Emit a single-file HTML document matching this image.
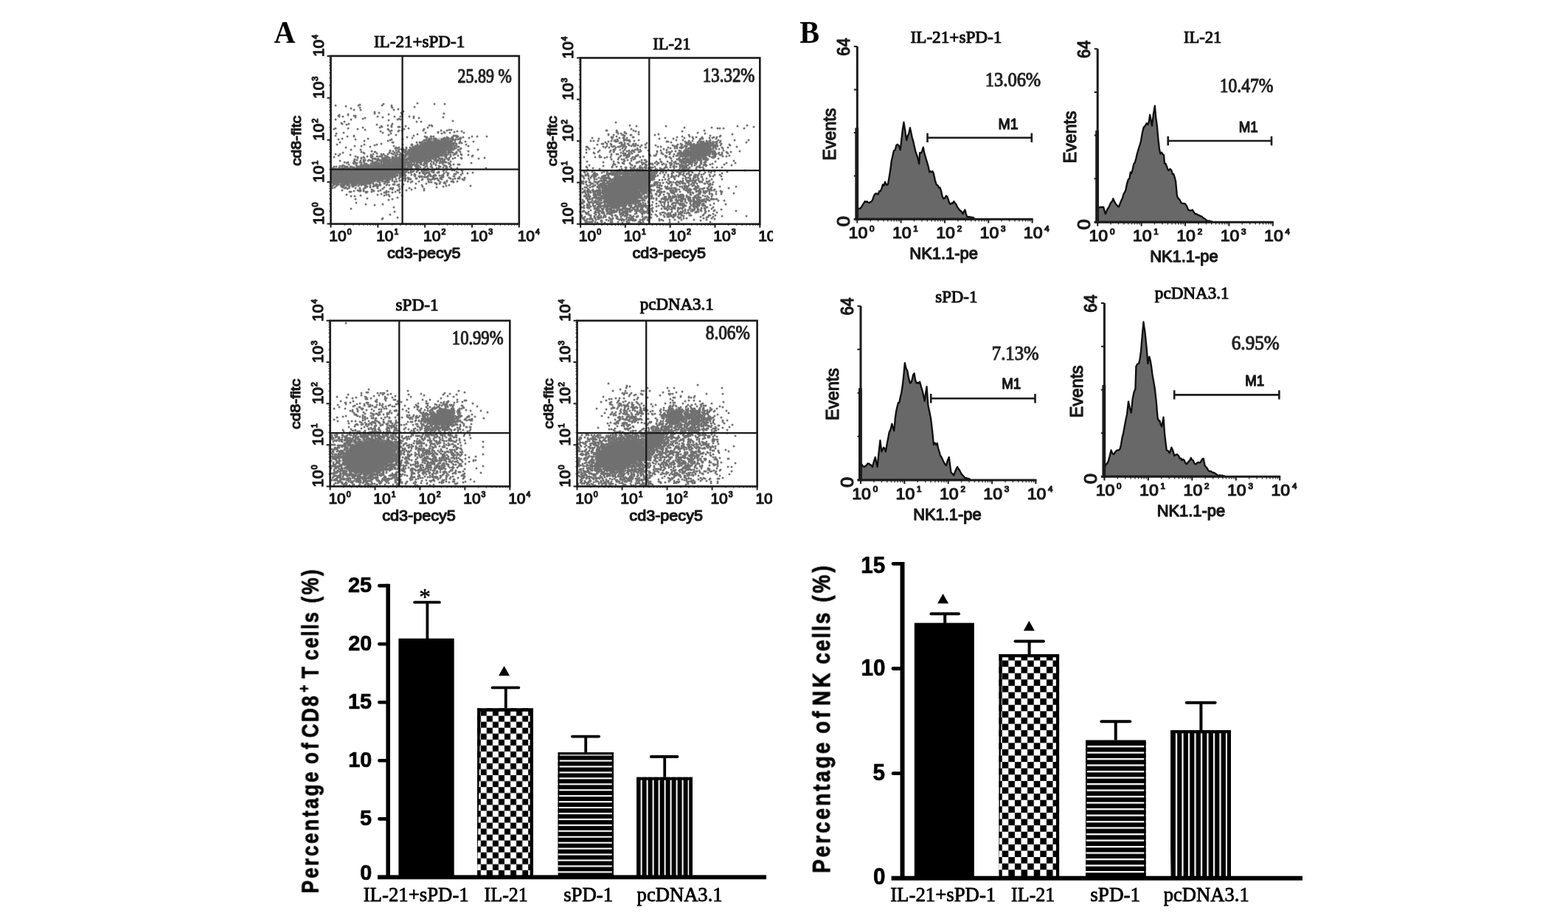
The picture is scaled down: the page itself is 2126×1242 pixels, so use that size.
<!DOCTYPE html>
<html lang="en"><head><meta charset="utf-8"><title>Figure: CD8+ T cells and NK cells</title>
<style>html,body{margin:0;padding:0;background:#fff}body{width:2126px;height:1242px;overflow:hidden}svg{display:block}text{white-space:pre}</style>
</head><body>
<svg xmlns="http://www.w3.org/2000/svg" width="2126" height="1242" viewBox="0 0 2126 1242">
<defs><filter id="bl" x="-30%" y="-30%" width="160%" height="160%"><feGaussianBlur stdDeviation="2.2"/></filter>
<filter id="sd" x="-5%" y="-5%" width="110%" height="110%"><feGaussianBlur stdDeviation="0.3"/></filter>
<filter id="soft" filterUnits="userSpaceOnUse" x="0" y="0" width="2126" height="1242"><feGaussianBlur stdDeviation="0.55"/></filter>
<pattern id="chkA" patternUnits="userSpaceOnUse" x="651.8" y="954.5" width="16.1" height="16.1"><rect x="8.05" y="0" width="8.05" height="8.05" fill="#000"/><rect x="0" y="8.05" width="8.05" height="8.05" fill="#000"/></pattern>
<pattern id="chkB" patternUnits="userSpaceOnUse" x="1358.7" y="886.9" width="17.2" height="17.2"><rect x="8.6" y="0" width="8.6" height="8.6" fill="#000"/><rect x="0" y="8.6" width="8.6" height="8.6" fill="#000"/></pattern>
<pattern id="hsA" patternUnits="userSpaceOnUse" x="0" y="1022.55" width="10" height="7.94"><rect x="0" y="2.1" width="10" height="5.84" fill="#000"/></pattern>
<pattern id="hsB" patternUnits="userSpaceOnUse" x="0" y="1010.95" width="10" height="8.5"><rect x="0" y="2.3" width="10" height="6.2" fill="#000"/></pattern>
<pattern id="vsA" patternUnits="userSpaceOnUse" x="868.6" y="0" width="8" height="10"><rect x="2" y="0" width="6" height="10" fill="#000"/></pattern>
<pattern id="vsB" patternUnits="userSpaceOnUse" x="1593.9" y="0" width="8.5" height="10"><rect x="2.2" y="0" width="6.3" height="10" fill="#000"/></pattern>
</defs>
<rect width="2126" height="1242" fill="#fff"/>
<g id="fig" filter="url(#soft)">
<text transform="matrix(0.4,0,0,0.421,371.4,57.8)" font-family="'Liberation Serif', serif" font-size="100" font-weight="bold" fill="#000">A</text>
<text transform="matrix(0.402,0,0,0.418,1084.297,57.8)" font-family="'Liberation Serif', serif" font-size="100" font-weight="bold" fill="#000">B</text>
<g>
<clipPath id="f1"><rect x="448.5" y="75.9" width="255.3" height="227.7"/></clipPath><g clip-path="url(#f1)">
<ellipse cx="498" cy="236.5" rx="42" ry="11.5" transform="rotate(-8 498 236.5)" fill="#6c6c6c" opacity="1" filter="url(#bl)"/>
<ellipse cx="464" cy="239.5" rx="18" ry="10" transform="rotate(0 464 239.5)" fill="#6c6c6c" opacity="1" filter="url(#bl)"/>
<ellipse cx="583" cy="203.5" rx="32" ry="12" transform="rotate(-17 583 203.5)" fill="#6c6c6c" opacity="1" filter="url(#bl)"/>
<ellipse cx="540" cy="222" rx="12" ry="9" transform="rotate(-25 540 222)" fill="#6c6c6c" opacity="1" filter="url(#bl)"/>
<path d="M536 240h0M501 231h0M471 240h0M471 231h0M505 236h0M514 228h0M500 236h0M460 245h0M511 250h0M505 234h0M533 233h0M524 230h0M507 242h0M519 234h0M471 243h0M503 240h0M499 237h0M517 226h0M489 234h0M553 228h0M518 238h0M491 227h0M525 230h0M518 225h0M489 246h0M537 222h0M464 241h0M520 234h0M507 228h0M517 241h0M487 228h0M480 244h0M454 242h0M473 239h0M493 237h0M541 233h0M536 230h0M488 240h0M503 227h0M512 231h0M473 236h0M497 245h0M503 235h0M509 223h0M532 224h0M511 227h0M474 237h0M551 233h0M484 236h0M469 240h0M485 243h0M463 239h0M477 235h0M529 223h0M513 223h0M500 249h0M494 234h0M505 235h0M500 231h0M530 238h0M495 239h0M519 240h0M511 239h0M492 230h0M488 244h0M526 233h0M485 240h0M546 238h0M482 238h0M460 234h0M527 241h0M524 241h0M484 231h0M516 251h0M508 227h0M508 244h0M473 245h0M485 246h0M521 235h0M553 226h0M483 251h0M479 253h0M498 229h0M500 237h0M527 217h0M485 236h0M547 216h0M490 230h0M483 243h0M512 244h0M484 240h0M532 237h0M492 245h0M477 251h0M504 235h0M508 240h0M546 229h0M491 241h0M475 228h0M522 230h0M529 225h0M506 246h0M514 236h0M515 231h0M501 227h0M513 229h0M489 242h0M524 226h0M553 225h0M523 239h0M506 236h0M549 235h0M510 223h0M481 246h0M504 229h0M483 236h0M519 236h0M526 227h0M526 229h0M494 248h0M502 235h0M543 239h0M528 232h0M512 237h0M504 246h0M548 238h0M451 255h0M518 230h0M500 243h0M504 236h0M522 232h0M475 235h0M497 239h0M559 219h0M513 234h0M509 244h0M533 230h0M484 229h0M499 244h0M494 242h0M529 231h0M477 232h0M492 243h0M481 250h0M517 230h0M484 245h0M468 236h0M501 238h0M490 237h0M534 235h0M490 249h0M503 233h0M515 233h0M510 216h0M509 229h0M526 237h0M519 231h0M511 232h0M506 234h0M478 252h0M517 220h0M523 224h0M493 233h0M486 240h0M490 228h0M500 238h0M547 227h0M468 238h0M517 228h0M481 242h0M482 233h0M491 236h0M491 240h0M515 237h0M512 228h0M471 245h0M469 239h0M482 229h0M503 243h0M481 239h0M471 244h0M549 221h0M495 246h0M510 235h0M526 242h0M480 227h0M472 247h0M496 228h0M534 220h0M533 229h0M510 239h0M508 243h0M500 234h0M481 229h0M482 245h0M523 242h0M574 230h0M512 226h0M495 251h0M514 233h0M507 223h0M477 231h0M526 231h0M508 228h0M513 239h0M542 240h0M513 233h0M517 237h0M502 247h0M517 234h0M495 237h0M474 233h0M509 231h0M494 245h0M496 245h0M501 246h0M511 223h0M484 242h0M539 238h0M534 239h0M503 218h0M521 239h0M479 236h0M475 239h0M499 236h0M473 242h0M507 225h0M461 242h0M487 241h0M522 233h0M454 235h0M514 227h0M530 231h0M513 228h0M495 217h0M495 240h0M475 234h0M479 243h0M457 249h0M462 236h0M535 225h0M456 243h0M474 232h0M481 234h0M473 233h0M542 226h0M525 223h0M513 226h0M488 242h0M484 225h0M485 237h0M492 238h0M456 242h0M478 242h0M497 235h0M489 231h0M485 230h0M505 240h0M515 230h0M546 235h0M456 241h0M520 241h0M487 226h0M505 244h0M524 243h0M515 229h0M514 251h0M484 226h0M557 231h0M483 234h0M459 246h0M503 231h0M488 235h0M528 231h0M536 225h0M483 235h0M486 237h0M529 240h0M472 248h0M495 231h0M522 237h0M488 238h0M504 238h0M453 235h0M502 237h0M484 227h0M536 229h0M473 250h0M531 238h0M523 237h0M474 240h0M494 231h0M450 235h0M508 235h0M514 222h0M490 243h0M457 250h0M500 232h0M525 240h0M525 235h0M521 238h0M529 220h0M509 235h0M504 234h0M498 239h0M470 232h0M478 227h0M485 232h0M450 230h0M487 234h0M559 233h0M472 235h0M491 237h0M484 244h0M519 246h0M466 245h0M489 227h0M490 227h0M502 254h0M537 243h0M531 222h0M511 235h0M511 228h0M532 233h0M487 239h0M468 247h0M488 237h0M526 234h0M497 231h0M534 240h0M517 222h0M492 244h0M502 244h0M489 243h0M512 218h0M489 236h0M542 229h0M520 224h0M510 230h0M515 239h0M548 233h0M486 233h0M493 243h0M481 248h0M467 241h0M569 234h0M562 220h0M523 219h0M542 225h0M522 239h0M499 230h0M535 228h0M476 244h0M508 238h0M486 230h0M514 232h0M464 247h0M512 235h0M480 237h0M477 233h0M509 236h0M522 225h0M526 244h0M525 233h0M490 251h0M455 235h0M521 229h0M544 226h0M491 225h0M521 233h0M515 244h0M503 228h0M473 240h0M534 223h0M493 236h0M509 240h0M533 224h0M469 237h0M467 239h0M526 218h0M469 245h0M493 242h0M521 241h0M544 230h0M476 237h0M531 226h0M548 220h0M514 229h0M454 245h0M470 248h0M476 240h0M516 234h0M498 249h0M481 236h0M504 228h0M541 228h0M512 236h0M519 232h0M466 247h0M506 233h0M465 254h0M512 234h0M473 238h0M493 234h0M499 241h0M453 244h0M528 223h0M495 234h0M470 246h0M511 233h0M507 233h0M457 251h0M511 242h0M453 250h0M482 237h0M501 230h0M497 237h0M539 230h0M497 244h0M510 231h0M495 247h0M488 239h0M513 242h0M464 239h0M517 239h0M494 247h0M482 246h0M525 245h0M488 230h0M522 235h0M485 229h0M520 220h0M489 245h0M494 240h0M514 238h0M529 236h0M489 229h0M492 233h0M512 242h0M520 229h0M517 236h0M465 224h0M494 237h0M493 240h0M501 247h0M539 235h0M519 237h0M499 238h0M514 235h0M451 252h0M490 233h0M476 239h0M523 231h0M511 226h0M519 226h0M518 229h0M483 230h0M466 239h0M474 238h0M530 226h0M483 238h0M473 241h0M521 237h0M480 232h0M450 240h0M492 227h0M523 234h0M512 232h0M513 231h0M527 222h0M473 252h0M529 243h0M479 244h0M528 238h0M496 246h0M510 226h0M566 228h0M533 227h0M476 245h0M521 228h0M505 227h0M470 245h0M529 234h0M493 256h0M532 226h0M503 247h0M503 244h0M508 220h0M480 251h0M479 247h0M527 235h0M485 242h0M487 229h0M472 228h0M519 242h0M480 222h0M557 230h0M464 249h0M521 242h0M520 237h0M538 229h0M505 228h0M470 242h0M505 225h0M511 241h0M545 224h0M516 239h0M515 236h0M503 226h0M506 230h0M542 245h0M528 218h0M527 233h0M528 228h0M498 237h0M523 215h0M490 242h0M516 233h0M472 236h0M458 247h0M539 226h0M486 228h0M529 238h0M475 245h0M480 233h0M519 233h0M567 228h0M492 242h0M487 245h0M470 243h0M480 243h0M517 245h0M452 238h0M506 226h0M496 231h0M513 238h0M485 239h0M483 237h0M452 248h0M469 236h0M492 235h0M502 234h0M484 230h0M524 239h0M518 236h0M456 226h0M470 250h0M508 245h0M543 236h0M509 242h0M489 249h0M468 235h0M547 234h0M482 250h0M536 228h0M543 238h0M486 234h0M543 240h0M485 226h0M456 252h0M513 237h0M501 229h0M464 242h0M497 246h0M470 227h0M545 227h0M482 241h0M542 237h0M513 246h0M510 233h0M496 235h0M475 243h0M534 229h0M513 241h0M467 251h0M546 228h0M554 234h0M451 246h0M507 238h0M518 231h0M531 234h0M551 228h0M513 222h0M483 233h0M524 228h0M531 228h0M525 228h0M469 244h0M455 236h0M492 250h0M509 224h0M527 238h0M558 229h0M487 243h0M463 238h0M464 232h0M501 235h0M515 248h0M508 237h0M488 245h0M536 211h0M521 226h0M465 232h0M496 254h0M466 238h0M532 245h0M499 239h0M493 247h0M496 244h0M549 216h0M504 233h0M478 253h0M509 232h0M477 242h0M484 248h0M466 236h0M519 228h0M517 233h0M511 237h0M488 236h0M499 240h0M565 233h0M467 255h0M496 232h0M507 235h0M500 244h0M545 230h0M506 240h0M471 246h0M506 239h0M490 232h0M513 235h0M471 233h0M527 230h0M493 231h0M525 236h0M548 226h0M468 237h0M470 240h0M451 245h0M455 238h0M488 246h0M462 245h0M536 226h0M465 245h0M472 249h0M498 231h0M524 233h0M459 236h0M538 230h0M529 239h0M535 229h0M510 251h0M494 233h0M502 228h0M477 236h0M493 244h0M470 239h0M522 248h0M470 234h0M486 241h0M549 245h0M496 223h0M542 230h0M490 245h0M477 245h0M522 227h0M486 246h0M480 236h0M479 237h0M523 233h0M527 236h0M498 225h0M486 238h0M564 218h0M502 236h0M541 234h0M533 232h0M518 234h0M472 237h0M487 244h0M504 239h0M513 221h0M532 241h0M505 237h0M495 243h0M475 236h0M509 225h0M514 237h0M499 233h0M546 226h0M505 241h0M501 243h0M500 240h0M527 225h0M459 233h0M503 248h0M541 220h0M544 235h0M524 227h0M553 221h0M500 230h0M476 241h0M477 244h0M514 234h0M518 241h0M528 225h0M518 239h0M490 235h0M533 236h0M505 245h0M491 244h0M544 223h0M496 234h0M514 242h0M543 229h0M510 240h0M531 230h0M535 222h0M487 233h0M549 240h0M521 234h0M480 242h0M561 232h0M499 235h0M463 251h0M526 228h0M527 228h0M451 248h0M491 238h0M514 245h0M514 239h0M524 234h0M468 234h0M520 225h0M489 244h0M478 245h0M507 237h0M483 248h0M454 234h0M491 239h0M537 235h0M511 240h0M500 242h0M491 246h0M527 234h0M517 232h0M477 247h0M467 237h0M475 244h0M533 216h0M503 246h0M502 246h0M531 233h0M462 237h0M540 224h0M471 237h0M534 232h0M459 238h0M519 241h0M516 240h0M531 217h0M515 241h0M481 232h0M584 222h0M524 232h0M527 245h0M482 235h0M473 237h0M468 243h0M504 230h0M472 246h0M495 228h0M455 247h0M453 247h0M451 247h0M517 235h0M456 251h0M502 232h0M486 236h0M504 227h0M516 228h0M509 233h0M527 229h0M484 238h0M472 238h0M545 244h0M485 235h0M506 231h0M510 236h0M515 235h0M471 241h0M477 238h0M464 238h0M502 240h0M509 221h0M478 246h0M510 222h0M496 241h0M491 234h0M508 223h0M502 238h0M479 235h0M494 232h0M456 247h0M523 236h0M520 240h0M489 218h0M472 232h0M563 225h0M505 239h0M517 238h0M510 225h0M490 241h0M504 243h0M528 236h0M519 230h0M528 235h0M507 231h0M501 233h0M490 239h0M480 218h0M461 240h0M492 234h0M499 229h0M503 238h0M501 237h0M473 234h0M547 233h0M455 249h0M538 224h0M461 244h0M465 240h0M471 250h0M502 245h0M486 239h0M494 244h0M519 216h0M473 243h0M490 236h0M461 239h0M457 244h0M492 239h0M547 238h0M516 231h0M494 238h0M482 236h0M478 234h0M493 259h0M471 256h0M467 242h0M491 230h0M461 241h0M501 226h0M466 246h0M474 235h0M484 234h0M555 226h0M509 230h0M524 223h0M478 238h0M575 240h0M552 229h0M553 241h0M455 240h0M493 235h0M496 237h0M495 253h0M532 238h0M469 235h0M475 226h0M466 244h0M465 239h0M533 234h0M486 249h0M476 247h0M502 249h0M496 252h0M537 232h0M495 244h0M519 244h0M537 233h0M466 252h0M547 229h0M510 250h0M466 251h0M492 241h0M499 246h0M532 230h0M533 238h0M537 224h0M506 225h0M557 228h0M511 225h0M495 238h0M523 225h0M530 225h0M452 235h0M461 247h0M453 231h0M509 237h0M488 234h0M497 249h0M538 238h0M525 241h0M511 219h0M467 228h0M499 231h0M508 229h0M506 235h0M505 218h0M535 236h0M481 235h0M522 234h0M461 233h0M461 232h0M501 245h0M492 232h0M550 228h0M491 242h0M531 232h0M532 223h0M512 238h0M512 239h0M522 226h0M512 246h0M452 242h0M490 238h0M458 240h0M496 236h0M528 230h0M501 240h0M453 234h0M499 242h0M547 230h0M526 236h0M522 246h0M470 233h0M505 243h0M532 218h0M515 234h0M479 238h0M514 241h0M506 242h0M531 224h0M457 235h0M478 243h0M516 243h0M556 224h0M535 232h0M484 237h0M549 233h0M535 233h0M484 239h0M477 226h0M459 245h0M455 239h0M477 237h0M480 245h0M462 238h0M468 226h0M452 232h0M478 237h0M462 235h0M470 236h0M475 247h0M462 230h0M454 239h0M475 238h0M481 243h0M466 235h0M468 233h0M454 229h0M452 236h0M469 238h0M460 246h0M453 233h0M490 240h0M468 255h0M453 249h0M465 238h0M460 241h0M461 237h0M470 235h0M475 232h0M463 233h0M456 239h0M452 251h0M486 244h0M452 239h0M459 239h0M464 244h0M460 227h0M457 237h0M456 245h0M466 240h0M461 235h0M473 244h0M469 241h0M479 241h0M486 232h0M485 244h0M464 233h0M465 242h0M478 247h0M474 253h0M482 234h0M467 234h0M455 243h0M465 237h0M476 242h0M451 242h0M489 233h0M471 226h0M453 237h0M467 240h0M457 238h0M467 249h0M459 247h0M485 241h0M460 235h0M469 227h0M482 232h0M459 229h0M487 242h0M459 234h0M464 227h0M468 239h0M459 244h0M471 232h0M474 246h0M463 231h0M457 230h0M472 244h0M493 238h0M480 234h0M457 243h0M463 228h0M465 244h0M472 239h0M456 230h0M489 248h0M483 241h0M478 241h0M480 228h0M471 236h0M472 234h0M461 234h0M483 228h0M482 240h0M469 233h0M469 247h0M469 232h0M487 230h0M453 246h0M477 243h0M452 246h0M471 242h0M451 243h0M462 246h0M469 243h0M471 235h0M452 249h0M465 243h0M460 240h0M455 229h0M455 230h0M466 231h0M472 230h0M464 252h0M482 243h0M462 234h0M460 244h0M469 234h0M450 234h0M464 245h0M476 248h0M468 232h0M463 237h0M475 246h0M462 243h0M453 236h0M453 226h0M478 250h0M481 241h0M476 238h0M456 238h0M452 233h0M467 245h0M479 240h0M477 249h0M465 228h0M460 236h0M468 240h0M459 231h0M458 246h0M458 239h0M454 230h0M469 254h0M480 238h0M466 242h0M451 232h0M465 241h0M462 241h0M468 245h0M452 243h0M491 243h0M452 241h0M464 243h0M458 235h0M471 251h0M467 243h0M463 242h0M456 232h0M459 242h0M461 225h0M459 250h0M462 251h0M460 237h0M475 241h0M467 235h0M460 231h0M471 228h0M455 245h0M455 241h0M470 237h0M463 230h0M464 236h0M468 248h0M452 245h0M458 245h0M481 238h0M525 226h0M533 222h0M543 232h0M526 225h0M528 222h0M544 217h0M561 207h0M530 217h0M527 227h0M520 228h0M528 226h0M542 213h0M528 233h0M523 227h0M507 215h0M556 219h0M552 215h0M524 231h0M538 227h0M525 229h0M540 231h0M534 238h0M536 216h0M528 221h0M550 218h0M531 231h0M544 225h0M525 212h0M534 224h0M522 231h0M522 228h0M543 216h0M528 224h0M535 221h0M535 220h0M518 232h0M529 227h0M549 213h0M532 227h0M515 243h0M538 221h0M549 236h0M528 237h0M548 212h0M534 215h0M538 220h0M549 226h0M550 217h0M544 227h0M533 214h0M553 229h0M540 219h0M539 221h0M543 224h0M540 222h0M525 239h0M533 213h0M532 229h0M524 212h0M537 229h0M540 229h0M536 223h0M548 206h0M529 221h0M543 220h0M536 238h0M523 230h0M532 232h0M536 232h0M539 222h0M532 215h0M537 221h0M549 211h0M524 244h0M512 230h0M537 226h0M546 227h0M536 221h0M541 222h0M533 226h0M549 228h0M525 217h0M526 230h0M507 240h0M537 216h0M534 225h0M533 220h0M524 217h0M542 235h0M535 227h0M539 219h0M531 229h0M534 216h0M543 233h0M527 220h0M536 227h0M539 214h0M544 216h0M544 220h0M548 222h0M536 231h0M529 232h0M555 221h0M527 237h0M532 236h0M526 219h0M543 228h0M546 215h0M545 222h0M544 218h0M526 213h0M545 219h0M530 227h0M525 215h0M530 222h0M527 226h0M507 236h0M529 237h0M553 224h0M526 224h0M532 243h0M537 219h0M556 227h0M520 222h0M550 208h0M533 239h0M521 232h0M560 216h0M527 218h0M557 203h0M514 221h0M530 221h0M541 219h0M548 225h0M529 224h0M527 221h0M540 205h0M530 229h0M545 223h0M540 217h0M530 230h0M537 204h0M542 218h0M519 218h0M545 229h0M535 217h0M544 221h0M523 238h0M539 232h0M534 230h0M525 220h0M522 221h0M550 224h0M526 223h0M541 221h0M525 231h0M540 220h0M554 205h0M528 239h0M535 223h0M542 219h0M535 226h0M535 224h0M522 223h0M519 238h0M533 223h0M515 224h0M531 225h0M539 231h0M536 217h0M515 232h0M555 220h0M551 230h0M536 210h0M536 222h0M536 220h0M530 240h0M532 228h0M531 220h0M520 219h0M542 221h0M552 228h0M523 229h0M517 225h0M526 221h0M533 228h0M526 222h0M541 227h0M480 220h0M498 233h0M529 233h0M482 212h0M517 212h0M506 223h0M518 216h0M503 224h0M514 225h0M518 226h0M528 214h0M597 226h0M494 221h0M536 201h0M488 233h0M546 222h0M536 235h0M493 224h0M550 242h0M518 213h0M481 216h0M501 228h0M554 243h0M504 225h0M508 239h0M537 217h0M547 235h0M509 220h0M483 224h0M557 232h0M494 223h0M451 228h0M581 213h0M505 230h0M509 216h0M500 224h0M497 232h0M536 218h0M515 212h0M505 212h0M500 227h0M538 201h0M515 226h0M464 237h0M532 214h0M479 221h0M524 220h0M521 214h0M503 211h0M543 209h0M532 213h0M535 247h0M514 217h0M571 202h0M485 214h0M489 224h0M518 211h0M525 218h0M506 209h0M559 204h0M500 225h0M510 232h0M566 229h0M518 217h0M494 214h0M523 217h0M517 224h0M524 215h0M504 237h0M521 216h0M517 219h0M491 232h0M506 222h0M493 226h0M510 224h0M504 231h0M484 235h0M533 217h0M558 205h0M520 226h0M515 218h0M463 240h0M506 221h0M505 215h0M518 224h0M452 231h0M550 212h0M512 216h0M499 234h0M559 202h0M467 220h0M489 237h0M499 218h0M532 225h0M503 210h0M490 215h0M487 235h0M503 222h0M481 219h0M478 235h0M490 224h0M515 217h0M518 228h0M489 220h0M535 207h0M493 217h0M524 224h0M485 234h0M501 217h0M551 232h0M480 229h0M521 222h0M493 228h0M503 234h0M462 240h0M544 210h0M507 222h0M522 238h0M546 231h0M508 233h0M520 223h0M525 219h0M487 232h0M562 219h0M492 229h0M505 233h0M511 212h0M470 221h0M493 219h0M565 227h0M503 229h0M529 229h0M500 217h0M483 247h0M529 216h0M498 228h0M473 223h0M464 225h0M545 236h0M489 235h0M505 220h0M461 218h0M539 229h0M533 231h0M490 221h0M528 207h0M482 221h0M522 218h0M498 224h0M516 225h0M510 220h0M505 229h0M540 223h0M514 244h0M501 234h0M520 230h0M521 220h0M570 221h0M513 215h0M507 226h0M511 208h0M526 209h0M467 225h0M537 211h0M502 199h0M529 228h0M494 219h0M537 225h0M580 209h0M591 202h0M594 207h0M588 210h0M583 201h0M562 202h0M626 178h0M587 205h0M569 201h0M602 193h0M585 202h0M573 208h0M600 196h0M590 191h0M588 197h0M584 196h0M607 192h0M615 184h0M575 211h0M617 194h0M576 203h0M551 202h0M629 180h0M578 210h0M594 201h0M586 213h0M624 192h0M561 200h0M582 212h0M591 200h0M593 203h0M588 206h0M571 210h0M566 212h0M576 197h0M624 188h0M599 194h0M587 210h0M563 210h0M607 193h0M593 199h0M574 202h0M586 203h0M577 209h0M582 206h0M597 200h0M579 197h0M573 192h0M561 211h0M591 207h0M580 193h0M592 205h0M566 211h0M555 203h0M585 206h0M598 202h0M579 208h0M590 196h0M586 209h0M600 192h0M586 200h0M594 206h0M575 207h0M593 202h0M529 205h0M565 206h0M578 207h0M572 201h0M573 201h0M589 208h0M593 205h0M594 199h0M549 205h0M573 210h0M592 203h0M601 195h0M581 201h0M555 212h0M591 188h0M585 207h0M596 204h0M579 209h0M598 204h0M576 208h0M572 211h0M567 215h0M560 210h0M582 201h0M604 196h0M583 199h0M555 214h0M577 214h0M597 194h0M557 210h0M595 198h0M611 193h0M585 210h0M577 199h0M590 201h0M613 186h0M563 204h0M601 188h0M574 195h0M561 216h0M575 200h0M589 202h0M589 206h0M566 223h0M613 194h0M551 221h0M575 213h0M579 199h0M570 193h0M569 218h0M620 199h0M569 210h0M591 201h0M541 215h0M575 210h0M560 213h0M585 219h0M608 190h0M566 208h0M587 209h0M569 209h0M581 204h0M591 191h0M585 200h0M584 208h0M542 210h0M566 219h0M610 198h0M573 211h0M563 199h0M599 196h0M565 209h0M606 200h0M578 190h0M591 210h0M586 199h0M583 211h0M566 197h0M580 214h0M624 187h0M590 195h0M576 199h0M568 208h0M612 194h0M580 204h0M572 219h0M616 201h0M577 207h0M555 215h0M604 200h0M575 199h0M575 205h0M608 188h0M545 212h0M580 203h0M586 204h0M582 197h0M603 205h0M553 209h0M568 204h0M564 228h0M587 214h0M568 201h0M593 197h0M591 193h0M554 225h0M606 201h0M587 201h0M596 194h0M569 206h0M584 200h0M568 209h0M572 206h0M566 203h0M595 205h0M555 217h0M607 196h0M586 197h0M616 184h0M608 196h0M595 203h0M591 211h0M575 212h0M597 201h0M575 202h0M602 194h0M564 207h0M608 200h0M559 206h0M569 220h0M559 216h0M607 197h0M587 203h0M565 219h0M592 211h0M587 198h0M600 193h0M570 211h0M603 209h0M588 198h0M610 191h0M605 210h0M625 187h0M559 211h0M592 199h0M598 199h0M573 196h0M587 207h0M615 194h0M584 216h0M609 192h0M581 219h0M567 218h0M566 209h0M592 209h0M569 207h0M589 210h0M566 213h0M582 188h0M561 210h0M594 203h0M569 214h0M591 209h0M580 194h0M596 192h0M582 195h0M605 203h0M576 201h0M587 196h0M603 187h0M559 217h0M588 200h0M569 198h0M571 208h0M601 200h0M570 212h0M589 207h0M586 207h0M597 193h0M571 199h0M567 205h0M575 201h0M564 217h0M614 197h0M589 192h0M578 202h0M547 226h0M572 212h0M576 206h0M551 200h0M610 204h0M579 207h0M585 185h0M576 194h0M599 189h0M565 211h0M611 201h0M617 184h0M601 196h0M583 197h0M590 198h0M595 202h0M583 208h0M556 212h0M546 213h0M577 215h0M579 219h0M580 212h0M588 192h0M595 195h0M588 207h0M607 199h0M578 211h0M581 206h0M577 208h0M608 208h0M598 209h0M594 198h0M571 206h0M585 201h0M591 218h0M565 208h0M565 226h0M603 196h0M575 208h0M568 206h0M600 191h0M590 192h0M576 212h0M616 200h0M623 188h0M588 204h0M551 216h0M589 203h0M569 211h0M596 203h0M586 206h0M562 214h0M606 190h0M587 197h0M577 203h0M580 210h0M538 207h0M595 201h0M558 214h0M589 198h0M599 203h0M576 198h0M574 211h0M611 188h0M616 198h0M561 212h0M576 205h0M612 193h0M546 203h0M583 202h0M576 204h0M605 199h0M577 217h0M606 195h0M576 211h0M567 212h0M600 197h0M588 220h0M584 201h0M585 209h0M585 198h0M604 188h0M572 200h0M593 198h0M564 206h0M603 206h0M551 201h0M564 202h0M558 204h0M558 196h0M604 190h0M588 188h0M600 211h0M602 198h0M589 217h0M595 193h0M595 194h0M597 203h0M569 202h0M606 197h0M564 213h0M581 211h0M592 195h0M551 220h0M577 200h0M611 207h0M576 217h0M595 196h0M580 207h0M583 200h0M581 203h0M604 206h0M584 205h0M594 204h0M596 199h0M591 205h0M558 207h0M602 206h0M572 207h0M601 193h0M563 209h0M606 191h0M578 195h0M549 207h0M578 217h0M599 209h0M581 190h0M560 201h0M590 211h0M558 212h0M607 194h0M599 204h0M559 196h0M590 193h0M584 198h0M579 204h0M595 191h0M573 202h0M598 206h0M580 201h0M585 194h0M618 197h0M563 212h0M587 202h0M594 202h0M563 206h0M596 209h0M602 195h0M567 220h0M600 194h0M614 203h0M573 206h0M590 200h0M576 220h0M561 208h0M586 195h0M571 204h0M584 217h0M603 180h0M619 196h0M578 198h0M613 190h0M558 197h0M587 211h0M608 201h0M584 197h0M598 196h0M619 206h0M578 212h0M605 201h0M602 197h0M568 214h0M612 176h0M609 197h0M602 200h0M573 218h0M565 193h0M578 196h0M563 217h0M579 200h0M600 207h0M584 194h0M607 201h0M564 212h0M622 204h0M574 216h0M576 209h0M601 203h0M608 204h0M597 199h0M608 197h0M586 214h0M587 194h0M592 202h0M578 208h0M598 203h0M566 215h0M609 191h0M567 201h0M574 210h0M610 197h0M577 205h0M585 188h0M602 196h0M571 212h0M598 200h0M585 195h0M560 217h0M590 206h0M621 185h0M566 207h0M618 208h0M579 214h0M570 207h0M579 193h0M593 190h0M572 210h0M594 196h0M604 198h0M546 210h0M596 193h0M590 188h0M599 192h0M590 209h0M596 208h0M580 199h0M598 194h0M584 195h0M607 187h0M616 199h0M575 215h0M574 204h0M584 199h0M586 201h0M566 220h0M572 203h0M603 200h0M596 207h0M591 192h0M582 208h0M576 193h0M592 220h0M561 223h0M570 216h0M569 216h0M568 200h0M606 199h0M601 194h0M585 203h0M588 205h0M571 213h0M566 204h0M597 209h0M609 195h0M622 199h0M580 218h0M588 201h0M582 204h0M583 203h0M599 195h0M592 207h0M581 200h0M589 200h0M592 210h0M590 215h0M572 213h0M573 205h0M557 219h0M590 194h0M585 205h0M602 209h0M570 206h0M580 190h0M582 209h0M556 208h0M567 213h0M551 205h0M604 199h0M587 206h0M556 209h0M560 214h0M597 210h0M554 204h0M616 194h0M574 201h0M589 194h0M583 212h0M568 210h0M580 206h0M600 201h0M579 198h0M579 205h0M595 199h0M571 221h0M576 221h0M581 199h0M566 196h0M557 217h0M563 205h0M558 219h0M572 199h0M598 197h0M565 205h0M573 203h0M611 210h0M585 199h0M611 204h0M582 203h0M562 206h0M577 202h0M560 202h0M577 197h0M598 208h0M604 213h0M584 204h0M564 201h0M567 207h0M581 208h0M596 206h0M576 207h0M604 212h0M602 189h0M582 198h0M565 198h0M582 196h0M561 201h0M572 209h0M546 212h0M574 203h0M565 199h0M612 198h0M615 189h0M582 202h0M590 205h0M599 210h0M564 203h0M557 202h0M573 200h0M567 203h0M592 219h0M580 208h0M597 196h0M610 200h0M576 214h0M598 211h0M586 205h0M563 213h0M608 199h0M609 200h0M557 220h0M589 196h0M603 216h0M610 195h0M581 210h0M574 207h0M606 210h0M560 207h0M574 198h0M557 216h0M565 213h0M579 195h0M606 215h0M571 194h0M571 223h0M591 204h0M565 221h0M615 203h0M599 201h0M556 217h0M601 202h0M577 206h0M562 223h0M597 207h0M592 194h0M583 188h0M595 212h0M567 211h0M594 197h0M613 201h0M559 209h0M599 206h0M585 192h0M596 202h0M574 200h0M588 195h0M576 190h0M599 190h0M552 208h0M605 196h0M582 210h0M578 205h0M601 204h0M583 214h0M632 196h0M577 211h0M584 185h0M555 213h0M601 201h0M553 215h0M569 212h0M565 212h0M603 202h0M619 208h0M568 218h0M617 191h0M591 197h0M584 210h0M582 199h0M549 222h0M591 196h0M560 203h0M589 213h0M562 216h0M553 216h0M612 191h0M579 211h0M592 206h0M581 218h0M593 200h0M564 205h0M537 213h0M569 208h0M589 204h0M588 208h0M553 220h0M585 213h0M556 200h0M579 206h0M597 198h0M559 224h0M605 207h0M568 199h0M589 195h0M604 195h0M600 204h0M580 202h0M611 199h0M541 206h0M548 203h0M590 212h0M567 206h0M601 207h0M623 194h0M611 198h0M564 200h0M583 207h0M574 205h0M566 205h0M583 198h0M598 193h0M592 192h0M593 204h0M570 217h0M607 191h0M553 207h0M606 198h0M577 222h0M544 202h0M547 210h0M599 191h0M564 215h0M612 202h0M575 198h0M596 200h0M616 179h0M586 196h0M583 190h0M603 190h0M582 218h0M613 203h0M580 198h0M570 194h0M578 186h0M559 205h0M584 211h0M614 188h0M578 206h0M558 218h0M574 208h0M606 192h0M562 209h0M582 205h0M574 196h0M608 203h0M590 208h0M561 215h0M613 191h0M579 212h0M598 207h0M599 198h0M564 204h0M583 210h0M588 199h0M561 218h0M579 202h0M621 189h0M543 208h0M553 222h0M590 213h0M569 215h0M615 195h0M578 200h0M584 202h0M581 202h0M570 201h0M560 211h0M591 212h0M624 189h0M585 204h0M546 201h0M571 211h0M575 216h0M552 217h0M608 209h0M613 189h0M571 196h0M614 186h0M595 197h0M555 208h0M551 210h0M590 210h0M559 210h0M555 205h0M610 194h0M577 198h0M573 216h0M560 199h0M593 206h0M581 193h0M600 205h0M605 200h0M642 192h0M562 207h0M567 210h0M572 194h0M582 194h0M581 216h0M608 195h0M570 214h0M559 187h0M606 186h0M612 195h0M592 197h0M589 205h0M576 195h0M600 198h0M594 200h0M580 197h0M590 189h0M562 210h0M581 207h0M605 213h0M599 243h0M635 210h0M657 214h0M623 193h0M626 194h0M612 228h0M581 197h0M605 220h0M598 201h0M595 225h0M546 196h0M577 231h0M636 187h0M572 208h0M604 201h0M594 212h0M571 219h0M576 185h0M612 206h0M595 214h0M591 223h0M610 206h0M627 232h0M592 190h0M593 210h0M590 207h0M641 211h0M606 230h0M604 225h0M602 224h0M583 193h0M602 199h0M619 195h0M617 208h0M624 202h0M619 186h0M604 207h0M595 210h0M584 209h0M609 216h0M618 201h0M571 207h0M595 209h0M523 214h0M555 243h0M607 237h0M558 226h0M582 211h0M623 223h0M563 200h0M631 192h0M558 216h0M615 223h0M591 215h0M647 185h0M618 189h0M581 238h0M601 219h0M582 236h0M639 221h0M601 232h0M575 224h0M580 228h0M567 219h0M574 206h0M568 217h0M609 214h0M619 233h0M585 212h0M582 190h0M603 193h0M555 223h0M625 214h0M610 199h0M565 215h0M566 227h0M554 207h0M626 231h0M602 231h0M572 232h0M560 204h0M625 209h0M614 215h0M620 228h0M579 222h0M605 225h0M601 227h0M579 210h0M598 215h0M626 210h0M556 213h0M549 204h0M561 184h0M569 193h0M573 209h0M564 224h0M603 219h0M599 181h0M589 201h0M562 236h0M628 186h0M598 177h0M550 231h0M610 222h0M589 230h0M559 215h0M588 194h0M551 219h0M607 188h0M608 206h0M600 215h0M640 212h0M586 233h0M546 221h0M581 230h0M620 178h0M605 252h0M649 215h0M590 202h0M580 173h0M659 228h0M597 219h0M585 208h0M570 239h0M575 222h0M559 201h0M635 205h0M595 233h0M625 201h0M571 165h0M546 189h0M558 237h0M597 218h0M578 235h0M579 187h0M591 224h0M576 237h0M605 228h0M577 221h0M575 175h0M611 203h0M610 180h0M579 225h0M580 213h0M640 185h0M600 217h0M602 218h0M550 238h0M624 206h0M587 199h0M529 204h0M596 221h0M619 184h0M595 200h0M570 222h0M617 209h0M606 227h0M579 231h0M574 213h0M602 179h0M559 212h0M594 244h0M593 211h0M588 185h0M597 216h0M603 220h0M548 204h0M606 177h0M626 215h0M621 234h0M594 209h0M553 231h0M561 206h0M596 215h0M586 210h0M609 176h0M589 193h0M566 226h0M574 177h0M574 224h0M575 232h0M592 217h0M578 219h0M585 224h0M558 211h0M566 216h0M575 204h0M615 210h0M588 221h0M568 225h0M575 190h0M558 217h0M581 215h0M603 212h0M648 203h0M617 214h0M560 212h0M602 203h0M599 208h0M583 192h0M568 246h0M612 196h0M613 200h0M541 203h0M595 213h0M603 204h0M534 222h0M600 222h0M577 226h0M620 186h0M594 218h0M608 221h0M590 217h0M611 212h0M576 218h0M559 229h0M588 232h0M610 226h0M572 231h0M621 203h0M583 217h0M572 205h0M560 209h0M607 202h0M599 202h0M601 220h0M578 197h0M562 200h0M599 220h0M608 187h0M547 231h0M568 219h0M605 212h0M594 179h0M595 228h0M589 190h0M574 235h0M584 226h0M609 222h0M597 220h0M562 205h0M588 222h0M533 209h0M600 203h0M660 185h0M593 218h0M630 241h0M594 217h0M602 188h0M614 207h0M635 198h0M621 211h0M608 217h0M606 245h0M561 220h0M587 230h0M593 213h0M609 194h0M526 191h0M572 240h0M563 198h0M545 155h0M527 183h0M543 162h0M471 185h0M527 176h0M519 215h0M469 144h0M455 184h0M463 167h0M532 193h0M526 170h0M472 220h0M467 165h0M533 205h0M486 143h0M472 155h0M512 158h0M453 175h0M541 200h0M534 214h0M508 197h0M522 211h0M531 145h0M490 223h0M526 175h0M480 157h0M509 215h0M455 143h0M495 176h0M503 213h0M525 213h0M508 206h0M537 200h0M465 207h0M517 209h0M511 169h0M488 142h0M496 225h0M453 213h0M539 162h0M490 214h0M508 154h0M459 157h0M529 190h0M539 201h0M531 172h0M519 159h0M461 193h0M484 221h0M545 177h0M490 198h0M459 211h0M511 196h0M533 193h0M482 157h0M542 172h0M515 173h0M470 226h0M482 189h0M460 157h0M494 191h0M470 169h0M493 213h0M480 185h0M459 189h0M464 168h0M488 220h0M514 153h0M476 162h0M518 172h0M509 206h0M480 184h0M531 170h0M544 153h0M498 212h0M455 174h0M516 178h0M534 149h0M531 177h0M529 178h0M488 146h0M469 200h0M472 156h0M520 209h0M472 174h0M517 171h0M508 152h0M514 223h0M527 163h0M475 210h0M532 146h0M543 158h0M493 207h0M532 168h0M540 178h0M460 156h0M541 161h0M485 213h0M527 155h0M494 208h0M455 162h0M480 149h0M535 158h0M495 160h0M455 209h0M530 181h0M494 196h0M492 173h0M540 148h0M534 198h0M489 149h0M531 208h0M485 175h0M497 222h0M512 212h0M465 158h0M520 141h0M545 203h0M537 183h0M484 217h0M460 158h0M517 195h0M476 203h0M461 209h0M541 177h0M531 189h0M466 180h0M473 168h0M504 205h0M464 188h0M489 203h0M528 227h0M531 143h0M518 143h0M540 172h0M456 181h0M519 180h0M499 188h0M490 206h0M476 147h0M539 209h0M481 198h0M457 196h0M482 159h0M492 161h0M566 140h0M561 160h0M568 160h0M582 170h0M603 141h0M579 186h0M577 180h0M561 158h0M578 187h0M594 180h0M586 171h0M547 151h0M601 159h0M548 175h0M550 171h0M552 186h0M562 145h0M555 158h0M565 165h0M589 141h0M602 154h0M554 174h0M566 182h0M614 164h0M585 170h0M524 264h0M527 260h0M578 249h0M558 257h0M498 269h0M527 247h0M474 260h0M470 264h0M487 259h0M542 261h0M532 261h0M525 250h0M521 261h0M555 255h0M532 257h0M533 255h0M476 260h0M498 247h0M487 250h0M481 266h0M501 239h0M551 258h0M474 234h0M527 264h0M538 246h0M515 250h0M529 235h0M557 243h0M541 258h0M573 253h0M461 245h0M492 246h0M555 242h0M528 251h0M539 268h0M529 256h0M489 239h0M496 261h0M512 253h0M513 259h0M512 255h0M541 250h0M545 265h0M463 253h0M464 258h0M548 242h0M488 257h0M535 250h0M530 255h0M563 255h0M524 246h0M501 244h0M507 245h0M547 250h0M545 253h0M498 260h0M489 238h0M504 257h0M504 260h0M495 255h0M497 261h0M491 247h0M501 248h0M557 247h0M485 258h0M479 245h0M489 265h0M563 239h0M489 259h0M493 250h0M541 242h0M512 252h0M498 246h0M486 252h0M523 243h0M519 256h0M482 255h0M496 250h0M506 249h0M454 254h0M495 249h0M539 251h0M519 243h0M476 266h0M473 255h0M479 251h0M498 248h0M493 258h0M502 252h0M536 260h0M535 246h0M504 242h0M482 248h0M539 258h0M507 251h0M521 265h0M542 256h0M527 271h0M479 248h0M482 251h0M524 251h0M482 270h0M528 243h0M506 258h0M516 258h0M533 250h0M508 252h0M489 258h0M519 277h0M477 246h0M524 259h0M493 248h0M524 261h0M496 260h0M528 266h0M535 234h0M517 263h0M512 264h0M480 259h0M525 247h0M498 253h0M511 253h0M506 253h0M521 254h0M488 255h0M591 238h0M523 246h0M522 261h0M507 259h0M541 253h0M521 249h0M595 234h0M584 238h0M585 232h0M582 233h0M568 239h0M604 249h0M581 246h0M625 237h0M579 240h0M596 238h0M589 242h0M575 235h0M616 239h0M580 240h0M567 231h0M603 247h0M531 240h0M607 238h0M638 252h0M569 240h0M607 235h0M616 236h0M601 253h0M564 242h0M614 243h0M609 251h0M577 240h0M550 243h0M611 219h0M586 227h0M582 243h0M621 242h0M585 247h0M620 246h0M588 234h0M597 241h0M562 238h0M630 242h0M605 233h0M589 243h0M592 254h0M559 246h0M575 228h0M553 246h0M613 231h0M601 240h0M599 240h0M592 249h0M587 240h0M572 251h0M566 231h0M590 238h0M580 234h0M602 248h0M627 243h0M586 243h0M601 239h0M587 242h0M611 242h0M580 239h0M616 231h0M590 248h0M618 236h0M575 256h0M573 243h0M615 247h0M563 237h0M557 234h0M605 229h0M612 246h0M575 258h0M623 242h0M596 249h0M557 227h0M627 235h0M617 242h0M634 235h0M572 239h0M621 223h0M591 242h0M601 237h0M597 242h0M599 238h0M629 244h0M583 236h0M587 239h0M558 222h0M588 238h0M588 240h0M609 241h0M608 235h0M582 247h0M611 224h0M592 228h0M573 234h0M623 240h0M580 230h0M593 242h0M592 250h0M614 246h0M590 237h0M602 235h0M606 246h0M564 249h0M593 234h0M565 242h0M595 245h0M641 234h0M572 244h0M578 234h0M569 235h0M597 247h0M584 244h0M575 234h0M570 227h0M580 243h0M584 239h0M615 239h0M587 215h0M519 296h0M539 295h0M518 297h0M476 283h0M483 275h0M532 270h0M496 277h0M508 278h0M529 291h0M534 281h0M535 287h0" stroke="#707070" stroke-width="3.0" stroke-linecap="round" fill="none" filter="url(#sd)"/>
</g>
<rect x="448.5" y="75.9" width="255.3" height="227.7" fill="none" stroke="#1a1a1a" stroke-width="2.6"/>
<path d="M545.6 75.9V303.6M448.5 229.6H703.8" stroke="#1a1a1a" stroke-width="2.3" fill="none"/>
<path d="M448.5 303.6h-5M448.5 303.6v5M448.5 246.675h-5M512.325 303.6v5M448.5 189.75h-5M576.15 303.6v5M448.5 132.825h-5M639.975 303.6v5M448.5 75.9h-5M703.8 303.6v5" stroke="#1a1a1a" stroke-width="2" fill="none"/>
<path d="M448.5 286.464h-2.3M448.5 276.44h-2.3M448.5 269.328h-2.3M448.5 263.811h-2.3M448.5 259.304h-2.3M448.5 255.493h-2.3M448.5 252.192h-2.3M448.5 249.28h-2.3M448.5 229.539h-2.3M448.5 219.515h-2.3M448.5 212.403h-2.3M448.5 206.886h-2.3M448.5 202.379h-2.3M448.5 198.568h-2.3M448.5 195.267h-2.3M448.5 192.355h-2.3M448.5 172.614h-2.3M448.5 162.59h-2.3M448.5 155.478h-2.3M448.5 149.961h-2.3M448.5 145.454h-2.3M448.5 141.643h-2.3M448.5 138.342h-2.3M448.5 135.43h-2.3M448.5 115.689h-2.3M448.5 105.665h-2.3M448.5 98.553h-2.3M448.5 93.036h-2.3M448.5 88.529h-2.3M448.5 84.718h-2.3M448.5 81.417h-2.3M448.5 78.505h-2.3M467.713 303.6v2.3M478.952 303.6v2.3M486.926 303.6v2.3M493.112 303.6v2.3M498.166 303.6v2.3M502.438 303.6v2.3M506.14 303.6v2.3M509.405 303.6v2.3M531.538 303.6v2.3M542.777 303.6v2.3M550.751 303.6v2.3M556.937 303.6v2.3M561.991 303.6v2.3M566.263 303.6v2.3M569.965 303.6v2.3M573.23 303.6v2.3M595.363 303.6v2.3M606.602 303.6v2.3M614.576 303.6v2.3M620.762 303.6v2.3M625.816 303.6v2.3M630.088 303.6v2.3M633.79 303.6v2.3M637.055 303.6v2.3M659.188 303.6v2.3M670.427 303.6v2.3M678.401 303.6v2.3M684.587 303.6v2.3M689.641 303.6v2.3M693.913 303.6v2.3M697.615 303.6v2.3M700.88 303.6v2.3" stroke="#1a1a1a" stroke-width="1.2" fill="none" opacity="0.7"/>
<text transform="matrix(0.21,0,0,0.21,446.325,326.6)" font-family="'Liberation Sans', sans-serif" font-size="100" fill="#1a1a1a" stroke="#1a1a1a" stroke-width="5.952" stroke-linejoin="round">10<tspan font-size="50" dx="5" dy="-40">0</tspan></text>
<text transform="matrix(0,-0.21,0.21,0,438.9,304.775)" font-family="'Liberation Sans', sans-serif" font-size="100" fill="#1a1a1a" stroke="#1a1a1a" stroke-width="5.952" stroke-linejoin="round">10<tspan font-size="52" dx="4" dy="-40">0</tspan></text>
<text transform="matrix(0.21,0,0,0.21,510.15,326.6)" font-family="'Liberation Sans', sans-serif" font-size="100" fill="#1a1a1a" stroke="#1a1a1a" stroke-width="5.952" stroke-linejoin="round">10<tspan font-size="50" dx="5" dy="-40">1</tspan></text>
<text transform="matrix(0,-0.21,0.21,0,438.9,247.85)" font-family="'Liberation Sans', sans-serif" font-size="100" fill="#1a1a1a" stroke="#1a1a1a" stroke-width="5.952" stroke-linejoin="round">10<tspan font-size="52" dx="4" dy="-40">1</tspan></text>
<text transform="matrix(0.21,0,0,0.21,573.975,326.6)" font-family="'Liberation Sans', sans-serif" font-size="100" fill="#1a1a1a" stroke="#1a1a1a" stroke-width="5.952" stroke-linejoin="round">10<tspan font-size="50" dx="5" dy="-40">2</tspan></text>
<text transform="matrix(0,-0.21,0.21,0,438.9,190.925)" font-family="'Liberation Sans', sans-serif" font-size="100" fill="#1a1a1a" stroke="#1a1a1a" stroke-width="5.952" stroke-linejoin="round">10<tspan font-size="52" dx="4" dy="-40">2</tspan></text>
<text transform="matrix(0.21,0,0,0.21,637.8,326.6)" font-family="'Liberation Sans', sans-serif" font-size="100" fill="#1a1a1a" stroke="#1a1a1a" stroke-width="5.952" stroke-linejoin="round">10<tspan font-size="50" dx="5" dy="-40">3</tspan></text>
<text transform="matrix(0,-0.21,0.21,0,438.9,134)" font-family="'Liberation Sans', sans-serif" font-size="100" fill="#1a1a1a" stroke="#1a1a1a" stroke-width="5.952" stroke-linejoin="round">10<tspan font-size="52" dx="4" dy="-40">3</tspan></text>
<text transform="matrix(0.21,0,0,0.21,701.625,326.6)" font-family="'Liberation Sans', sans-serif" font-size="100" fill="#1a1a1a" stroke="#1a1a1a" stroke-width="5.952" stroke-linejoin="round">10<tspan font-size="50" dx="5" dy="-40">4</tspan></text>
<text transform="matrix(0,-0.21,0.21,0,438.9,77.075)" font-family="'Liberation Sans', sans-serif" font-size="100" fill="#1a1a1a" stroke="#1a1a1a" stroke-width="5.952" stroke-linejoin="round">10<tspan font-size="52" dx="4" dy="-40">4</tspan></text>
<text transform="matrix(0.216,0,0,0.209,524.935,350.2)" font-family="'Liberation Sans', sans-serif" font-size="100" fill="#1a1a1a" stroke="#1a1a1a" stroke-width="5.878" stroke-linejoin="round">cd3-pecy5</text>
<text transform="matrix(0,-0.212,0.184,0,408,225.053)" font-family="'Liberation Sans', sans-serif" font-size="100" fill="#1a1a1a" stroke="#1a1a1a" stroke-width="6.32" stroke-linejoin="round">cd8-fitc</text>
<text transform="matrix(0.231,0,0,0.232,506.911,63.68)" font-family="'Liberation Serif', serif" font-size="100" fill="#111" stroke="#111" stroke-width="4.536" stroke-linejoin="round">IL-21+sPD-1</text>
<text transform="matrix(0.22,0,0,0.267,620.485,111.68)" font-family="'Liberation Serif', serif" font-size="100" fill="#222" stroke="#222" stroke-width="4.312" stroke-linejoin="round">25.89 %</text>
</g>
<clipPath id="c2"><rect x="0" y="0" width="1047.8" height="1242"/></clipPath>
<g clip-path="url(#c2)">
<clipPath id="f2"><rect x="787" y="78.5" width="243.3" height="225.3"/></clipPath><g clip-path="url(#f2)">
<ellipse cx="843" cy="260" rx="27" ry="19" transform="rotate(-25 843 260)" fill="#6c6c6c" opacity="1" filter="url(#bl)"/>
<ellipse cx="949" cy="204" rx="16" ry="8" transform="rotate(-20 949 204)" fill="#6c6c6c" opacity="1" filter="url(#bl)"/>
<path d="M876 234h0M851 258h0M849 236h0M833 253h0M823 257h0M835 259h0M832 270h0M818 225h0M860 246h0M834 268h0M848 258h0M832 267h0M828 287h0M823 266h0M845 261h0M843 266h0M836 254h0M859 236h0M829 235h0M837 237h0M830 298h0M852 253h0M836 240h0M827 271h0M810 277h0M815 272h0M834 287h0M854 245h0M807 263h0M835 247h0M851 268h0M838 254h0M852 249h0M853 248h0M865 243h0M825 267h0M826 252h0M843 268h0M807 274h0M838 258h0M847 237h0M850 251h0M842 255h0M833 255h0M860 281h0M863 261h0M848 249h0M863 279h0M826 278h0M859 255h0M862 269h0M884 258h0M870 251h0M856 255h0M845 251h0M861 271h0M842 263h0M853 254h0M819 255h0M858 261h0M862 254h0M838 239h0M860 238h0M853 238h0M834 265h0M833 254h0M861 260h0M848 252h0M828 259h0M835 262h0M854 251h0M828 257h0M864 252h0M849 261h0M854 256h0M866 260h0M799 278h0M882 222h0M852 271h0M851 275h0M817 253h0M837 252h0M830 273h0M848 257h0M839 265h0M838 251h0M854 260h0M849 267h0M826 265h0M843 278h0M863 280h0M866 243h0M839 259h0M831 274h0M849 262h0M844 246h0M808 272h0M831 257h0M858 251h0M868 250h0M857 260h0M849 238h0M861 252h0M832 273h0M856 272h0M857 258h0M828 290h0M871 257h0M858 270h0M834 273h0M839 247h0M852 261h0M875 258h0M809 247h0M842 257h0M822 249h0M838 274h0M844 248h0M868 241h0M866 237h0M845 269h0M832 265h0M827 277h0M858 243h0M845 253h0M858 264h0M870 220h0M837 256h0M826 249h0M829 272h0M863 262h0M866 241h0M863 260h0M837 251h0M834 250h0M871 246h0M835 260h0M841 262h0M811 258h0M858 268h0M829 268h0M823 236h0M833 248h0M856 250h0M835 242h0M835 235h0M855 274h0M830 278h0M865 247h0M862 252h0M825 239h0M819 249h0M882 245h0M834 244h0M864 233h0M873 261h0M841 251h0M836 244h0M863 274h0M863 265h0M835 268h0M826 261h0M869 283h0M845 259h0M816 275h0M822 271h0M842 270h0M840 261h0M871 258h0M864 271h0M842 246h0M823 246h0M847 252h0M856 265h0M864 251h0M857 250h0M828 263h0M819 281h0M843 279h0M826 269h0M848 254h0M846 247h0M820 250h0M831 253h0M846 253h0M830 255h0M812 268h0M843 240h0M844 269h0M834 266h0M851 291h0M872 263h0M837 272h0M843 265h0M836 265h0M864 230h0M826 275h0M854 249h0M856 260h0M860 271h0M838 272h0M843 249h0M845 240h0M827 283h0M836 287h0M857 245h0M818 239h0M834 240h0M859 227h0M830 226h0M846 277h0M832 252h0M839 267h0M813 278h0M872 280h0M848 260h0M840 272h0M866 234h0M839 246h0M832 262h0M847 245h0M847 278h0M856 264h0M849 254h0M853 262h0M850 271h0M849 270h0M848 268h0M830 257h0M832 282h0M853 258h0M849 244h0M843 252h0M813 269h0M838 283h0M829 257h0M859 252h0M824 272h0M842 285h0M823 258h0M797 271h0M873 244h0M830 270h0M839 261h0M894 265h0M878 267h0M818 242h0M858 258h0M844 257h0M851 263h0M839 256h0M865 246h0M879 252h0M851 272h0M866 279h0M846 242h0M821 243h0M860 264h0M851 261h0M855 260h0M855 257h0M834 278h0M856 229h0M834 247h0M850 252h0M873 262h0M834 257h0M838 270h0M832 271h0M828 282h0M845 241h0M832 266h0M832 222h0M856 276h0M829 246h0M864 253h0M850 265h0M821 260h0M820 254h0M833 249h0M872 253h0M848 233h0M840 259h0M849 263h0M826 254h0M872 279h0M875 240h0M833 267h0M861 277h0M836 252h0M856 243h0M833 272h0M835 248h0M851 250h0M840 276h0M834 275h0M851 251h0M839 240h0M842 245h0M832 268h0M833 266h0M856 269h0M830 260h0M861 268h0M822 255h0M856 239h0M844 268h0M847 247h0M876 246h0M853 267h0M843 270h0M837 249h0M831 270h0M845 256h0M862 266h0M841 264h0M809 259h0M828 253h0M843 229h0M855 264h0M876 237h0M859 273h0M853 241h0M832 248h0M868 256h0M864 265h0M835 273h0M858 250h0M830 268h0M850 266h0M814 268h0M882 260h0M840 257h0M834 249h0M837 262h0M841 242h0M828 244h0M846 261h0M836 264h0M856 263h0M822 265h0M811 247h0M864 261h0M868 259h0M837 265h0M810 281h0M839 272h0M859 243h0M871 262h0M830 292h0M818 251h0M855 244h0M847 257h0M837 285h0M867 249h0M868 248h0M846 254h0M822 264h0M831 271h0M843 251h0M866 254h0M870 241h0M834 253h0M847 255h0M854 279h0M853 246h0M849 253h0M838 259h0M849 266h0M860 252h0M831 265h0M825 266h0M823 287h0M860 263h0M831 269h0M863 247h0M827 265h0M814 286h0M861 267h0M858 262h0M869 251h0M832 260h0M830 271h0M858 276h0M868 240h0M840 258h0M844 285h0M862 248h0M819 261h0M853 277h0M832 285h0M824 273h0M824 262h0M810 283h0M811 273h0M836 242h0M851 254h0M822 258h0M810 285h0M818 255h0M834 251h0M843 247h0M864 266h0M830 254h0M798 281h0M844 245h0M857 243h0M830 277h0M839 231h0M841 263h0M837 264h0M856 249h0M819 256h0M866 273h0M828 258h0M856 246h0M847 259h0M863 253h0M841 256h0M841 275h0M868 225h0M854 240h0M835 258h0M844 284h0M818 262h0M824 268h0M856 281h0M855 280h0M838 252h0M832 259h0M852 241h0M835 263h0M833 273h0M840 268h0M860 273h0M866 236h0M817 255h0M854 262h0M843 259h0M872 259h0M851 265h0M827 284h0M844 277h0M844 231h0M838 262h0M844 242h0M878 248h0M854 269h0M864 263h0M835 265h0M854 274h0M818 252h0M817 249h0M874 272h0M852 257h0M871 261h0M809 274h0M879 237h0M857 270h0M847 258h0M821 252h0M854 236h0M867 266h0M866 246h0M867 256h0M848 230h0M835 286h0M810 263h0M837 261h0M859 244h0M842 250h0M856 268h0M829 277h0M860 242h0M841 268h0M863 244h0M869 253h0M836 273h0M841 250h0M849 275h0M849 237h0M861 270h0M830 263h0M833 264h0M830 269h0M840 273h0M817 262h0M850 274h0M842 269h0M880 270h0M843 260h0M846 250h0M872 246h0M838 271h0M854 263h0M847 269h0M853 272h0M845 247h0M851 235h0M824 260h0M846 259h0M868 235h0M838 263h0M848 243h0M853 263h0M846 237h0M860 250h0M874 240h0M818 269h0M843 255h0M809 264h0M830 262h0M869 247h0M841 231h0M860 244h0M846 243h0M848 269h0M845 262h0M829 256h0M843 250h0M863 245h0M860 256h0M860 249h0M820 244h0M858 256h0M836 268h0M832 279h0M866 265h0M845 279h0M865 272h0M824 282h0M862 247h0M859 254h0M839 245h0M871 235h0M824 256h0M859 274h0M846 256h0M865 251h0M869 234h0M867 261h0M837 268h0M861 231h0M833 246h0M857 255h0M857 274h0M837 254h0M844 259h0M862 246h0M822 242h0M849 264h0M862 261h0M852 265h0M845 264h0M846 241h0M836 226h0M849 257h0M844 265h0M823 272h0M860 251h0M838 257h0M821 265h0M826 257h0M836 267h0M841 271h0M831 267h0M878 243h0M846 282h0M864 240h0M862 277h0M864 262h0M865 241h0M840 252h0M867 231h0M833 247h0M831 262h0M838 236h0M841 248h0M841 254h0M841 257h0M851 256h0M806 243h0M813 259h0M870 242h0M843 264h0M851 249h0M852 263h0M823 282h0M859 216h0M848 277h0M851 246h0M833 259h0M850 244h0M841 284h0M832 243h0M816 249h0M868 255h0M828 264h0M856 261h0M833 235h0M869 245h0M858 234h0M863 269h0M855 236h0M848 279h0M833 243h0M849 229h0M853 279h0M857 268h0M842 265h0M829 273h0M844 260h0M851 267h0M848 227h0M854 270h0M825 265h0M877 235h0M861 255h0M821 266h0M846 251h0M861 269h0M861 265h0M854 261h0M839 283h0M823 256h0M829 255h0M839 258h0M874 254h0M848 262h0M840 244h0M820 257h0M842 276h0M849 268h0M820 276h0M851 236h0M829 234h0M834 272h0M813 255h0M848 281h0M853 256h0M834 256h0M850 254h0M852 247h0M854 248h0M867 262h0M845 291h0M845 248h0M825 269h0M841 249h0M824 261h0M824 259h0M816 301h0M836 262h0M829 281h0M847 248h0M863 237h0M863 252h0M849 250h0M846 248h0M873 250h0M841 246h0M852 276h0M852 284h0M864 273h0M817 261h0M822 241h0M841 259h0M860 260h0M857 261h0M853 295h0M865 245h0M833 271h0M862 257h0M845 245h0M827 242h0M855 246h0M858 282h0M847 268h0M859 242h0M873 280h0M837 284h0M849 255h0M825 268h0M838 282h0M844 275h0M823 271h0M841 247h0M858 247h0M861 254h0M834 262h0M854 241h0M831 264h0M856 262h0M823 252h0M840 239h0M830 250h0M857 224h0M827 259h0M815 266h0M824 246h0M843 277h0M853 274h0M827 236h0M814 276h0M846 260h0M829 262h0M832 276h0M834 235h0M841 277h0M822 253h0M826 259h0M844 256h0M849 259h0M846 265h0M837 253h0M826 242h0M862 264h0M834 281h0M840 270h0M863 272h0M855 281h0M838 265h0M822 269h0M883 241h0M837 294h0M853 260h0M820 266h0M832 274h0M830 281h0M823 274h0M842 240h0M868 245h0M828 284h0M817 258h0M834 248h0M830 234h0M847 262h0M861 253h0M867 268h0M844 266h0M839 254h0M856 256h0M870 253h0M838 244h0M843 263h0M795 269h0M854 276h0M829 279h0M840 260h0M845 249h0M839 275h0M859 262h0M827 256h0M855 279h0M864 245h0M819 274h0M843 274h0M833 268h0M865 236h0M844 264h0M873 249h0M865 280h0M837 278h0M838 279h0M855 263h0M849 260h0M794 265h0M876 245h0M845 267h0M863 259h0M854 242h0M831 243h0M842 251h0M880 258h0M844 288h0M848 263h0M824 267h0M827 249h0M834 282h0M829 259h0M834 261h0M841 258h0M815 270h0M819 290h0M850 273h0M844 270h0M872 256h0M819 248h0M814 245h0M831 261h0M813 270h0M846 240h0M842 256h0M829 271h0M873 248h0M818 265h0M868 243h0M817 268h0M842 248h0M844 251h0M808 269h0M862 280h0M820 272h0M848 261h0M855 242h0M820 270h0M850 246h0M833 252h0M846 263h0M831 276h0M827 266h0M840 245h0M830 248h0M823 278h0M846 283h0M843 267h0M823 264h0M862 250h0M867 272h0M834 252h0M832 275h0M867 248h0M823 241h0M861 247h0M855 241h0M857 242h0M833 244h0M866 242h0M859 250h0M827 272h0M832 250h0M858 249h0M863 251h0M834 255h0M840 251h0M862 245h0M839 252h0M867 219h0M871 272h0M857 229h0M840 247h0M839 250h0M841 272h0M859 240h0M857 237h0M827 244h0M827 267h0M851 234h0M865 276h0M838 260h0M841 232h0M846 267h0M827 264h0M825 251h0M862 274h0M859 270h0M846 246h0M821 264h0M843 261h0M828 236h0M812 279h0M866 255h0M831 277h0M835 281h0M852 267h0M819 288h0M862 263h0M837 240h0M830 286h0M883 236h0M867 263h0M854 264h0M838 233h0M830 259h0M831 266h0M847 267h0M874 235h0M866 274h0M835 240h0M846 238h0M848 255h0M813 295h0M821 249h0M847 249h0M802 249h0M858 266h0M832 286h0M867 253h0M827 250h0M862 259h0M828 279h0M870 255h0M851 271h0M870 246h0M833 274h0M859 251h0M861 276h0M860 261h0M861 249h0M836 256h0M842 264h0M875 231h0M852 266h0M847 261h0M826 270h0M853 244h0M857 267h0M829 284h0M887 258h0M856 215h0M830 258h0M842 252h0M814 269h0M816 266h0M867 274h0M809 258h0M842 249h0M870 245h0M820 302h0M851 247h0M870 257h0M833 256h0M857 254h0M862 242h0M825 249h0M851 285h0M811 280h0M821 256h0M863 221h0M823 235h0M835 270h0M848 271h0M852 248h0M847 264h0M825 235h0M838 266h0M836 235h0M835 276h0M815 245h0M836 294h0M827 257h0M808 267h0M850 232h0M869 242h0M824 270h0M846 257h0M850 285h0M869 254h0M857 256h0M835 279h0M860 266h0M852 250h0M844 276h0M848 242h0M871 254h0M829 261h0M830 256h0M824 269h0M844 250h0M871 240h0M868 277h0M851 283h0M862 279h0M852 242h0M825 246h0M831 255h0M836 232h0M841 236h0M854 268h0M853 243h0M874 251h0M843 257h0M847 265h0M854 253h0M864 269h0M840 238h0M810 269h0M864 249h0M849 246h0M821 245h0M816 255h0M823 261h0M829 282h0M851 270h0M825 278h0M852 258h0M863 239h0M838 267h0M853 255h0M847 254h0M847 250h0M844 249h0M828 243h0M832 263h0M833 265h0M818 283h0M859 234h0M883 227h0M874 260h0M868 268h0M840 288h0M848 267h0M826 260h0M848 265h0M842 272h0M814 281h0M843 271h0M820 278h0M861 236h0M864 282h0M844 271h0M837 263h0M806 273h0M883 266h0M839 282h0M845 281h0M836 286h0M851 260h0M835 243h0M846 264h0M838 256h0M841 241h0M825 273h0M874 262h0M820 258h0M826 290h0M826 271h0M869 257h0M854 243h0M861 263h0M855 272h0M868 249h0M843 242h0M837 280h0M821 293h0M854 246h0M861 242h0M866 249h0M833 278h0M860 245h0M821 269h0M852 260h0M835 271h0M857 259h0M846 236h0M851 266h0M858 252h0M825 280h0M873 263h0M828 260h0M836 253h0M837 281h0M810 264h0M869 249h0M869 258h0M861 243h0M814 278h0M864 247h0M836 233h0M857 233h0M850 242h0M840 230h0M856 254h0M856 258h0M826 288h0M854 271h0M816 288h0M832 251h0M890 269h0M825 258h0M818 260h0M800 259h0M849 227h0M841 265h0M853 250h0M859 258h0M865 262h0M807 268h0M843 246h0M849 231h0M818 244h0M881 245h0M850 269h0M858 253h0M884 278h0M869 260h0M828 213h0M833 241h0M812 253h0M849 243h0M836 269h0M825 255h0M822 283h0M850 260h0M855 270h0M847 235h0M845 242h0M877 266h0M830 251h0M839 263h0M826 263h0M855 250h0M848 259h0M861 257h0M850 264h0M850 292h0M856 251h0M862 253h0M850 249h0M847 275h0M846 272h0M851 259h0M847 251h0M831 279h0M861 248h0M836 243h0M843 244h0M835 257h0M835 274h0M857 252h0M820 269h0M860 240h0M870 238h0M857 272h0M867 251h0M859 239h0M845 265h0M869 266h0M852 283h0M848 256h0M820 260h0M841 261h0M855 266h0M830 267h0M855 287h0M839 249h0M855 233h0M832 281h0M864 246h0M830 289h0M870 248h0M853 252h0M837 257h0M823 290h0M854 259h0M852 262h0M864 285h0M844 239h0M857 251h0M809 269h0M843 290h0M836 274h0M836 281h0M850 241h0M866 256h0M848 232h0M817 279h0M870 243h0M830 249h0M833 258h0M845 237h0M868 232h0M874 250h0M877 247h0M871 231h0M875 226h0M875 247h0M888 237h0M874 242h0M879 241h0M872 250h0M872 245h0M849 249h0M870 252h0M883 231h0M871 238h0M862 235h0M885 243h0M871 223h0M873 241h0M886 241h0M871 229h0M884 241h0M860 243h0M872 248h0M881 239h0M863 248h0M883 243h0M865 230h0M877 242h0M864 234h0M873 254h0M868 244h0M861 225h0M865 234h0M892 238h0M876 225h0M861 230h0M874 244h0M874 239h0M867 227h0M865 242h0M877 249h0M886 239h0M877 248h0M861 250h0M883 257h0M888 221h0M885 252h0M869 241h0M857 244h0M874 236h0M869 238h0M862 239h0M877 237h0M878 235h0M876 250h0M874 227h0M867 247h0M863 235h0M864 237h0M868 236h0M871 233h0M871 242h0M872 230h0M865 239h0M882 237h0M867 243h0M872 238h0M875 223h0M877 234h0M887 235h0M883 233h0M881 236h0M865 235h0M879 239h0M876 243h0M877 240h0M863 232h0M888 233h0M860 229h0M871 245h0M869 237h0M874 233h0M873 237h0M876 252h0M886 237h0M876 228h0M875 248h0M874 257h0M882 238h0M858 239h0M878 241h0M875 235h0M880 234h0M887 241h0M849 251h0M872 242h0M885 244h0M879 228h0M864 238h0M873 247h0M877 239h0M881 252h0M875 234h0M875 236h0M868 239h0M848 246h0M865 232h0M858 236h0M864 232h0M880 249h0M874 238h0M863 250h0M870 227h0M873 240h0M880 239h0M889 229h0M875 238h0M864 229h0M891 230h0M880 238h0M875 243h0M887 237h0M872 247h0M875 232h0M876 241h0M871 243h0M865 238h0M865 237h0M898 232h0M867 232h0M883 242h0M859 246h0M884 236h0M882 228h0M867 239h0M860 239h0M873 242h0M867 237h0M865 256h0M878 232h0M866 245h0M857 234h0M865 233h0M890 247h0M878 238h0M884 240h0M855 258h0M875 241h0M879 236h0M866 244h0M876 251h0M881 233h0M872 239h0M878 246h0M876 226h0M871 228h0M869 252h0M871 247h0M872 240h0M869 228h0M873 232h0M864 235h0M887 239h0M870 239h0M863 234h0M896 232h0M872 241h0M867 230h0M865 253h0M868 238h0M867 241h0M870 232h0M876 232h0M879 242h0M867 244h0M887 231h0M858 240h0M866 251h0M878 236h0M848 239h0M876 253h0M885 238h0M860 247h0M889 239h0M868 233h0M875 228h0M874 243h0M869 240h0M881 246h0M863 242h0M876 233h0M871 256h0M868 229h0M882 230h0M883 237h0M891 223h0M862 231h0M880 235h0M867 245h0M873 238h0M874 217h0M879 232h0M887 251h0M877 224h0M872 222h0M867 250h0M866 230h0M874 246h0M884 252h0M877 236h0M870 249h0M815 280h0M877 241h0M856 294h0M812 246h0M879 264h0M852 270h0M842 234h0M794 238h0M863 285h0M830 301h0M829 291h0M848 286h0M850 235h0M814 252h0M857 273h0M824 264h0M852 298h0M880 242h0M800 251h0M805 260h0M819 238h0M854 285h0M809 243h0M818 284h0M799 282h0M877 251h0M810 274h0M867 246h0M794 262h0M826 241h0M798 259h0M825 257h0M817 246h0M844 292h0M848 237h0M860 262h0M858 295h0M800 292h0M850 294h0M792 279h0M817 266h0M804 260h0M872 252h0M822 261h0M838 276h0M846 233h0M869 278h0M791 249h0M876 260h0M790 271h0M796 289h0M809 236h0M803 253h0M793 299h0M805 280h0M854 244h0M868 298h0M815 250h0M855 255h0M875 276h0M870 269h0M842 289h0M868 285h0M857 246h0M799 276h0M812 284h0M789 281h0M792 233h0M804 257h0M800 274h0M869 276h0M807 295h0M880 261h0M879 275h0M803 301h0M806 295h0M857 298h0M862 234h0M861 262h0M801 241h0M806 260h0M837 232h0M813 275h0M882 242h0M795 250h0M842 297h0M839 239h0M853 299h0M843 276h0M840 263h0M855 298h0M828 250h0M812 255h0M846 269h0M805 265h0M810 248h0M822 281h0M791 246h0M810 254h0M851 239h0M800 266h0M822 245h0M827 296h0M864 283h0M815 261h0M798 274h0M835 280h0M791 297h0M816 283h0M808 298h0M806 267h0M796 297h0M876 281h0M797 252h0M801 261h0M797 258h0M830 293h0M859 283h0M841 245h0M857 285h0M846 274h0M812 265h0M874 297h0M852 233h0M830 236h0M872 278h0M858 274h0M800 270h0M859 241h0M813 264h0M793 258h0M837 269h0M872 288h0M811 296h0M841 289h0M797 261h0M820 268h0M872 237h0M816 240h0M859 268h0M837 273h0M845 290h0M809 267h0M833 237h0M860 299h0M811 260h0M854 292h0M848 245h0M833 236h0M849 284h0M806 234h0M851 288h0M872 285h0M807 235h0M867 235h0M840 284h0M825 237h0M845 255h0M875 253h0M805 268h0M824 237h0M844 253h0M875 242h0M799 269h0M858 299h0M854 297h0M834 286h0M860 235h0M855 267h0M859 266h0M791 281h0M790 275h0M871 270h0M825 284h0M807 296h0M790 296h0M792 295h0M828 270h0M817 284h0M879 243h0M839 242h0M819 247h0M857 247h0M871 289h0M799 301h0M870 284h0M856 253h0M881 289h0M804 249h0M850 267h0M812 241h0M813 254h0M846 287h0M804 237h0M881 247h0M797 280h0M843 235h0M849 297h0M878 283h0M869 265h0M862 255h0M804 253h0M812 251h0M877 238h0M859 253h0M820 239h0M869 280h0M868 272h0M794 266h0M868 299h0M874 267h0M849 239h0M880 284h0M841 291h0M815 242h0M850 288h0M829 266h0M836 250h0M872 286h0M814 249h0M829 248h0M834 242h0M817 239h0M847 276h0M814 295h0M879 299h0M813 286h0M856 241h0M826 295h0M796 267h0M874 289h0M808 288h0M830 297h0M852 254h0M878 298h0M807 236h0M836 237h0M866 268h0M871 255h0M832 269h0M790 239h0M868 287h0M811 270h0M855 243h0M852 235h0M789 275h0M801 295h0M825 288h0M871 252h0M838 301h0M829 244h0M863 294h0M875 295h0M817 259h0M812 289h0M870 258h0M845 234h0M792 274h0M814 258h0M800 301h0M864 293h0M820 241h0M801 297h0M874 295h0M806 289h0M805 240h0M807 279h0M831 259h0M861 284h0M816 234h0M793 234h0M856 232h0M819 273h0M810 302h0M852 240h0M815 293h0M792 242h0M850 302h0M849 278h0M823 280h0M796 302h0M807 282h0M863 256h0M822 266h0M803 297h0M792 282h0M866 286h0M794 247h0M850 300h0M798 290h0M821 279h0M879 251h0M855 240h0M791 260h0M801 285h0M798 265h0M867 280h0M869 264h0M881 259h0M870 289h0M844 258h0M810 262h0M870 279h0M850 259h0M802 239h0M840 298h0M842 258h0M862 271h0M841 235h0M789 292h0M810 237h0M811 288h0M871 287h0M871 298h0M839 257h0M801 292h0M825 277h0M808 260h0M790 261h0M798 266h0M880 280h0M797 279h0M813 277h0M808 283h0M856 296h0M864 259h0M797 237h0M799 260h0M831 296h0M862 298h0M805 236h0M840 262h0M847 293h0M856 279h0M791 286h0M793 294h0M817 254h0M825 299h0M817 286h0M882 239h0M881 288h0M846 258h0M844 302h0M800 254h0M806 293h0M823 233h0M881 257h0M802 274h0M815 275h0M851 287h0M804 299h0M795 254h0M845 274h0M808 286h0M792 297h0M811 297h0M807 251h0M793 260h0M836 238h0M820 279h0M863 287h0M793 259h0M819 252h0M879 273h0M848 250h0M821 294h0M851 290h0M842 236h0M847 274h0M835 282h0M795 246h0M817 285h0M836 248h0M855 256h0M790 287h0M801 293h0M794 288h0M790 276h0M820 277h0M796 269h0M828 235h0M789 248h0M840 234h0M798 242h0M843 299h0M800 247h0M804 278h0M838 297h0M851 237h0M878 259h0M866 301h0M833 288h0M847 288h0M867 234h0M876 238h0M819 263h0M806 283h0M876 256h0M807 301h0M875 267h0M853 276h0M826 235h0M825 274h0M878 245h0M810 253h0M805 261h0M868 267h0M815 299h0M832 245h0M850 236h0M840 286h0M813 257h0M856 285h0M876 269h0M861 299h0M817 260h0M856 295h0M811 277h0M865 293h0M812 261h0M840 250h0M812 272h0M848 292h0M868 301h0M806 241h0M848 284h0M870 280h0M805 262h0M840 285h0M875 278h0M854 258h0M837 279h0M812 264h0M840 280h0M844 283h0M798 263h0M835 292h0M848 247h0M871 268h0M873 258h0M819 293h0M866 248h0M807 273h0M872 275h0M790 256h0M882 253h0M813 281h0M808 239h0M869 302h0M794 300h0M799 244h0M856 271h0M831 287h0M879 289h0M808 291h0M879 285h0M828 298h0M861 286h0M799 247h0M857 235h0M796 281h0M831 237h0M798 264h0M878 254h0M828 267h0M805 275h0M791 240h0M795 299h0M836 296h0M824 247h0M803 272h0M792 273h0M874 266h0M828 288h0M875 244h0M802 301h0M854 287h0M880 299h0M849 265h0M857 262h0M858 233h0M796 277h0M815 295h0M829 283h0M850 268h0M863 246h0M853 302h0M863 268h0M801 248h0M878 289h0M809 276h0M844 297h0M834 238h0M871 291h0M814 262h0M865 283h0M870 234h0M880 260h0M878 285h0M871 294h0M881 279h0M803 258h0M833 232h0M843 254h0M874 253h0M866 277h0M873 243h0M807 287h0M798 257h0M793 254h0M798 291h0M808 259h0M868 237h0M853 234h0M871 244h0M854 283h0M826 246h0M834 274h0M794 237h0M862 236h0M806 246h0M859 233h0M852 238h0M805 263h0M846 268h0M811 282h0M808 265h0M858 294h0M817 289h0M851 302h0M828 286h0M861 290h0M789 238h0M847 281h0M829 233h0M825 272h0M847 271h0M812 292h0M830 237h0M813 290h0M855 292h0M831 234h0M872 297h0M859 261h0M881 294h0M875 261h0M808 264h0M817 241h0M789 294h0M797 256h0M797 260h0M872 301h0M791 239h0M797 282h0M821 238h0M813 296h0M878 250h0M827 262h0M819 233h0M850 270h0M834 276h0M840 279h0M803 269h0M815 300h0M849 291h0M863 289h0M875 245h0M795 264h0M816 253h0M799 297h0M804 276h0M795 232h0M877 255h0M812 295h0M806 266h0M789 246h0M876 287h0M798 287h0M854 255h0M844 252h0M869 233h0M800 267h0M837 271h0M816 299h0M834 292h0M794 302h0M833 234h0M815 267h0M864 257h0M850 247h0M796 237h0M828 301h0M852 272h0M848 289h0M873 234h0M868 286h0M871 281h0M810 261h0M807 239h0M861 241h0M796 278h0M875 237h0M864 268h0M850 291h0M797 235h0M805 238h0M798 270h0M868 280h0M830 265h0M825 242h0M816 300h0M846 298h0M791 273h0M864 294h0M798 238h0M862 238h0M859 297h0M807 247h0M845 270h0M831 280h0M797 301h0M801 280h0M881 256h0M824 286h0M822 298h0M881 242h0M862 268h0M792 286h0M850 283h0M805 252h0M820 292h0M868 252h0M812 287h0M838 242h0M876 294h0M796 259h0M850 290h0M872 261h0M795 290h0M827 287h0M879 287h0M867 265h0M878 295h0M814 264h0M879 279h0M878 257h0M803 233h0M873 260h0M859 293h0M841 270h0M826 279h0M875 279h0M866 272h0M808 238h0M869 244h0M866 267h0M819 279h0M820 275h0M818 295h0M792 266h0M823 285h0M798 239h0M828 281h0M797 272h0M822 285h0M879 240h0M873 270h0M855 249h0M810 294h0M842 294h0M874 278h0M821 274h0M806 259h0M871 249h0M871 283h0M803 271h0M872 300h0M817 250h0M834 263h0M879 282h0M850 295h0M877 262h0M821 263h0M877 279h0M846 299h0M810 249h0M825 256h0M824 276h0M947 205h0M941 199h0M947 213h0M957 218h0M948 207h0M966 195h0M950 205h0M957 210h0M958 200h0M956 203h0M953 201h0M970 212h0M945 207h0M929 198h0M968 209h0M947 194h0M960 201h0M946 193h0M950 206h0M951 199h0M941 196h0M947 203h0M951 208h0M932 216h0M949 205h0M963 198h0M950 214h0M939 218h0M954 193h0M953 215h0M944 198h0M936 218h0M939 204h0M945 201h0M948 197h0M932 209h0M932 203h0M934 202h0M945 212h0M958 201h0M953 202h0M945 196h0M937 208h0M962 196h0M943 218h0M951 197h0M942 213h0M939 205h0M945 208h0M946 214h0M952 200h0M952 201h0M943 204h0M963 207h0M956 204h0M957 206h0M953 206h0M943 201h0M948 217h0M923 210h0M959 208h0M948 205h0M950 204h0M946 204h0M954 202h0M945 205h0M948 210h0M963 193h0M949 190h0M949 197h0M970 207h0M968 199h0M956 202h0M947 206h0M940 205h0M951 218h0M959 192h0M936 195h0M944 205h0M950 200h0M956 209h0M934 219h0M947 208h0M967 192h0M944 211h0M941 213h0M947 210h0M933 203h0M944 206h0M931 209h0M961 207h0M954 200h0M943 205h0M953 198h0M947 196h0M953 188h0M949 211h0M962 194h0M941 202h0M926 220h0M948 191h0M944 186h0M972 192h0M958 203h0M940 209h0M951 202h0M953 205h0M949 189h0M963 203h0M967 209h0M961 195h0M965 194h0M943 199h0M955 205h0M949 202h0M941 205h0M959 196h0M950 203h0M952 204h0M970 193h0M957 196h0M979 200h0M959 204h0M958 199h0M973 198h0M950 212h0M944 210h0M950 194h0M927 206h0M938 209h0M930 207h0M937 207h0M943 203h0M955 200h0M953 213h0M933 208h0M958 208h0M940 197h0M938 197h0M934 211h0M933 205h0M950 211h0M952 196h0M953 196h0M943 197h0M959 195h0M949 208h0M945 204h0M968 210h0M928 207h0M954 192h0M940 210h0M956 197h0M961 202h0M956 200h0M933 204h0M970 199h0M946 203h0M941 215h0M956 195h0M951 204h0M936 215h0M940 215h0M964 202h0M934 217h0M937 219h0M949 207h0M952 192h0M941 204h0M944 197h0M937 212h0M947 207h0M937 216h0M928 204h0M955 202h0M967 193h0M954 203h0M956 212h0M942 207h0M954 206h0M933 207h0M975 207h0M934 209h0M952 208h0M926 209h0M924 198h0M937 204h0M953 204h0M958 194h0M949 196h0M934 207h0M961 204h0M962 201h0M961 199h0M972 195h0M947 211h0M938 211h0M935 195h0M957 195h0M928 215h0M946 207h0M949 209h0M952 211h0M940 211h0M954 216h0M952 195h0M942 211h0M930 219h0M942 198h0M938 201h0M962 202h0M946 197h0M937 213h0M954 211h0M938 212h0M954 194h0M960 196h0M950 210h0M960 202h0M960 198h0M948 215h0M952 197h0M945 202h0M950 207h0M947 202h0M949 204h0M934 221h0M933 212h0M948 212h0M946 202h0M948 209h0M961 205h0M934 205h0M950 208h0M949 199h0M940 196h0M969 209h0M933 215h0M963 202h0M947 198h0M942 202h0M972 196h0M940 206h0M935 210h0M950 221h0M956 201h0M956 205h0M944 207h0M938 217h0M971 202h0M971 199h0M957 203h0M937 202h0M930 211h0M942 206h0M948 201h0M965 205h0M957 214h0M936 211h0M938 218h0M960 199h0M977 191h0M971 209h0M968 197h0M964 197h0M956 198h0M967 198h0M947 204h0M977 184h0M950 198h0M954 205h0M933 202h0M974 208h0M947 214h0M967 205h0M957 215h0M954 209h0M963 190h0M950 197h0M941 209h0M953 210h0M938 204h0M946 199h0M960 206h0M937 203h0M969 210h0M949 201h0M944 215h0M968 208h0M934 201h0M951 206h0M932 204h0M970 200h0M950 199h0M954 208h0M967 194h0M961 208h0M943 215h0M959 205h0M930 210h0M931 210h0M941 216h0M926 224h0M963 199h0M968 196h0M954 210h0M950 215h0M955 208h0M949 198h0M952 210h0M966 213h0M959 207h0M942 214h0M936 197h0M941 212h0M935 206h0M948 208h0M951 205h0M957 201h0M952 212h0M963 206h0M938 203h0M956 207h0M940 208h0M947 201h0M924 212h0M948 206h0M957 205h0M962 195h0M935 222h0M937 201h0M972 194h0M969 205h0M962 204h0M942 210h0M941 210h0M947 199h0M942 204h0M931 207h0M949 200h0M965 196h0M945 210h0M957 202h0M943 214h0M962 200h0M937 205h0M933 210h0M932 207h0M959 202h0M929 209h0M955 206h0M961 194h0M970 197h0M922 212h0M946 211h0M949 216h0M958 209h0M950 216h0M962 207h0M954 197h0M972 186h0M928 220h0M954 215h0M945 203h0M947 212h0M959 199h0M967 202h0M955 198h0M951 200h0M949 210h0M956 206h0M948 211h0M952 203h0M950 202h0M952 202h0M975 202h0M935 207h0M928 205h0M974 190h0M943 210h0M944 204h0M958 202h0M938 206h0M949 224h0M942 217h0M922 208h0M954 224h0M924 233h0M919 208h0M916 205h0M908 209h0M953 194h0M930 241h0M922 228h0M932 217h0M928 228h0M949 203h0M926 212h0M951 240h0M938 219h0M967 200h0M955 177h0M915 199h0M929 208h0M888 232h0M951 220h0M902 227h0M952 207h0M929 219h0M927 211h0M885 223h0M963 223h0M909 214h0M937 194h0M880 241h0M930 201h0M942 216h0M889 211h0M904 204h0M943 200h0M939 201h0M898 223h0M905 192h0M910 193h0M853 212h0M956 213h0M968 186h0M922 224h0M1010 231h0M931 227h0M921 234h0M1015 190h0M904 212h0M923 205h0M910 224h0M959 203h0M962 212h0M977 259h0M948 225h0M953 195h0M987 200h0M961 233h0M936 193h0M920 222h0M938 199h0M927 207h0M939 214h0M908 221h0M945 226h0M946 198h0M921 207h0M946 210h0M904 203h0M929 222h0M970 210h0M952 188h0M976 185h0M927 230h0M891 233h0M931 216h0M939 191h0M896 204h0M962 211h0M913 239h0M913 188h0M925 208h0M966 222h0M895 229h0M968 212h0M962 187h0M957 194h0M929 212h0M965 213h0M882 211h0M938 233h0M928 198h0M855 227h0M966 207h0M915 221h0M918 186h0M927 221h0M927 233h0M904 192h0M942 237h0M939 206h0M936 219h0M930 193h0M1003 205h0M933 229h0M966 187h0M938 221h0M935 227h0M924 221h0M926 229h0M976 237h0M906 192h0M914 220h0M929 226h0M928 187h0M938 223h0M888 226h0M985 212h0M937 196h0M976 193h0M913 212h0M929 192h0M957 211h0M925 229h0M896 199h0M959 206h0M936 220h0M931 236h0M883 222h0M914 209h0M962 209h0M936 244h0M930 202h0M930 214h0M925 185h0M964 234h0M930 215h0M942 239h0M922 226h0M925 231h0M937 198h0M963 192h0M855 245h0M935 241h0M914 224h0M958 215h0M911 232h0M928 221h0M927 235h0M915 201h0M969 213h0M958 246h0M926 216h0M909 224h0M922 234h0M955 194h0M921 209h0M895 216h0M947 243h0M940 200h0M937 221h0M890 209h0M956 223h0M884 222h0M950 227h0M936 206h0M966 227h0M959 217h0M924 208h0M925 178h0M921 217h0M911 205h0M933 193h0M923 195h0M892 221h0M979 209h0M931 199h0M915 220h0M944 237h0M957 198h0M930 206h0M972 227h0M933 224h0M976 210h0M909 227h0M963 184h0M978 239h0M939 234h0M940 188h0M897 207h0M985 221h0M901 228h0M902 211h0M892 199h0M956 208h0M976 231h0M897 220h0M936 222h0M971 194h0M925 196h0M925 212h0M957 220h0M914 198h0M929 215h0M897 232h0M978 210h0M934 220h0M995 218h0M911 218h0M926 190h0M885 227h0M956 181h0M921 214h0M970 219h0M917 190h0M951 203h0M955 231h0M976 174h0M959 210h0M931 205h0M941 218h0M929 232h0M960 209h0M936 214h0M930 221h0M903 223h0M934 183h0M930 195h0M903 232h0M926 242h0M900 229h0M947 237h0M916 219h0M939 186h0M997 221h0M931 224h0M914 226h0M939 209h0M950 192h0M919 232h0M925 219h0M979 235h0M905 219h0M948 227h0M979 243h0M944 228h0M911 238h0M930 213h0M934 234h0M933 231h0M948 216h0M918 216h0M989 211h0M929 214h0M940 199h0M973 174h0M931 198h0M956 262h0M917 222h0M944 222h0M889 232h0M926 218h0M898 244h0M936 216h0M897 208h0M917 226h0M918 199h0M911 237h0M941 200h0M921 230h0M934 246h0M924 220h0M909 201h0M938 205h0M974 215h0M934 208h0M913 226h0M914 228h0M900 222h0M965 173h0M928 225h0M928 210h0M939 211h0M950 196h0M993 182h0M913 231h0M989 196h0M954 229h0M924 218h0M917 238h0M932 220h0M927 238h0M953 227h0M895 248h0M967 214h0M924 207h0M934 232h0M936 221h0M996 190h0M919 196h0M928 173h0M985 206h0M941 195h0M926 215h0M896 219h0M861 226h0M917 211h0M899 234h0M958 197h0M958 224h0M922 216h0M918 251h0M963 208h0M957 225h0M922 246h0M926 226h0M982 223h0M946 217h0M908 208h0M951 222h0M877 219h0M873 235h0M912 197h0M876 231h0M930 225h0M986 207h0M978 195h0M1009 174h0M914 231h0M939 220h0M930 230h0M928 219h0M938 216h0M935 228h0M896 229h0M945 220h0M958 191h0M929 239h0M945 211h0M933 241h0M966 197h0M927 216h0M903 234h0M980 212h0M987 208h0M926 249h0M900 202h0M922 200h0M929 230h0M923 208h0M883 230h0M890 219h0M943 212h0M911 222h0M949 214h0M931 204h0M924 226h0M955 221h0M960 216h0M951 193h0M873 221h0M921 236h0M937 195h0M939 248h0M952 186h0M948 235h0M926 237h0M909 207h0M921 204h0M969 237h0M971 188h0M922 219h0M919 231h0M926 200h0M946 196h0M946 241h0M946 206h0M903 213h0M936 242h0M905 254h0M968 231h0M932 245h0M891 205h0M935 217h0M921 248h0M942 221h0M956 216h0M934 233h0M937 232h0M924 217h0M949 232h0M903 225h0M918 201h0M938 225h0M962 191h0M919 216h0M895 235h0M920 247h0M944 213h0M955 220h0M911 231h0M889 233h0M967 208h0M918 233h0M950 188h0M1012 193h0M892 247h0M961 210h0M953 203h0M931 194h0M924 223h0M979 227h0M919 211h0M933 230h0M966 209h0M926 227h0M924 201h0M911 259h0M958 207h0M948 202h0M1022 172h0M942 224h0M946 195h0M934 191h0M886 233h0M950 213h0M918 222h0M936 209h0M902 187h0M931 231h0M980 201h0M946 180h0M908 213h0M958 214h0M902 243h0M894 188h0M893 221h0M933 196h0M843 196h0M870 197h0M867 206h0M854 170h0M851 217h0M832 205h0M857 208h0M833 198h0M831 186h0M832 203h0M834 190h0M848 209h0M872 212h0M847 184h0M834 202h0M860 198h0M827 206h0M822 177h0M821 193h0M864 203h0M849 190h0M836 177h0M866 182h0M875 200h0M840 199h0M828 195h0M829 186h0M870 217h0M847 189h0M854 221h0M835 192h0M845 197h0M815 213h0M876 220h0M863 211h0M853 197h0M844 196h0M859 177h0M856 183h0M833 191h0M853 191h0M838 216h0M868 199h0M838 209h0M829 198h0M887 211h0M858 186h0M868 203h0M859 195h0M847 203h0M853 204h0M839 221h0M844 183h0M869 205h0M847 218h0M851 210h0M810 196h0M826 200h0M840 187h0M847 180h0M899 209h0M837 189h0M846 188h0M831 199h0M865 203h0M842 193h0M861 203h0M839 214h0M855 230h0M861 198h0M811 206h0M850 205h0M844 221h0M846 218h0M854 209h0M849 181h0M836 179h0M846 219h0M828 204h0M829 209h0M823 198h0M825 182h0M856 198h0M864 220h0M843 194h0M847 179h0M838 191h0M829 216h0M866 190h0M853 208h0M832 206h0M838 199h0M854 192h0M858 196h0M847 196h0M848 201h0M858 213h0M847 198h0M849 211h0M861 215h0M846 189h0M844 201h0M825 192h0M842 181h0M813 211h0M853 206h0M849 214h0M849 199h0M846 208h0M823 213h0M852 195h0M865 210h0M842 211h0M835 166h0M877 194h0M836 185h0M818 195h0M862 197h0M845 208h0M848 208h0M875 217h0M862 195h0M845 187h0M857 204h0M825 183h0M840 194h0M868 213h0M891 206h0M854 191h0M851 190h0M838 220h0M829 210h0M829 191h0M845 183h0M850 211h0M859 205h0M846 222h0M865 211h0M875 196h0M846 209h0M863 171h0M837 179h0M866 206h0M858 204h0M846 191h0M850 187h0M836 192h0M859 186h0M856 175h0M845 205h0M842 198h0M871 222h0M862 178h0M880 222h0M841 203h0M846 216h0M866 179h0M856 218h0M853 190h0M851 213h0M865 197h0M845 199h0M847 194h0M833 204h0M832 183h0M855 183h0M838 181h0M876 200h0M823 177h0M851 195h0M830 227h0M860 191h0M820 214h0M812 188h0M834 223h0M813 213h0M841 212h0M801 191h0M806 208h0M831 224h0M865 220h0M803 187h0M795 199h0M856 206h0M796 227h0M806 201h0M846 186h0M818 199h0M853 210h0M795 226h0M797 200h0M813 204h0M862 212h0M842 226h0M859 197h0M795 203h0M835 200h0M837 231h0M879 204h0M836 209h0M804 228h0M805 207h0M830 188h0M832 219h0M811 191h0M855 223h0M818 220h0M829 196h0M797 230h0M846 211h0M796 219h0M842 207h0M823 195h0M813 229h0M807 213h0M795 207h0M796 199h0M843 216h0M799 224h0M861 213h0M805 191h0M816 195h0M864 201h0M821 200h0M792 213h0M799 202h0M880 209h0M860 206h0M925 273h0M959 255h0M907 242h0M943 273h0M932 259h0M926 245h0M897 261h0M950 259h0M900 269h0M966 250h0M947 269h0M919 272h0M890 280h0M935 238h0M913 258h0M947 274h0M915 298h0M902 273h0M883 291h0M923 236h0M957 287h0M907 265h0M883 262h0M910 240h0M933 235h0M941 270h0M967 290h0M945 255h0M904 256h0M894 273h0M897 256h0M939 284h0M947 259h0M923 290h0M945 287h0M911 284h0M956 283h0M900 292h0M926 264h0M951 273h0M912 276h0M899 274h0M949 256h0M904 282h0M965 243h0M900 288h0M893 254h0M942 267h0M913 282h0M919 264h0M967 294h0M962 261h0M931 255h0M917 260h0M941 256h0M951 237h0M950 246h0M891 293h0M914 293h0M925 253h0M962 245h0M910 261h0M926 279h0M905 271h0M906 274h0M897 260h0M895 264h0M911 235h0M948 258h0M953 244h0M890 264h0M950 274h0M944 260h0M956 289h0M931 267h0M964 256h0M922 260h0M883 295h0M943 240h0M936 263h0M941 251h0M946 284h0M928 252h0M940 242h0M953 243h0M957 259h0M940 268h0M943 280h0M962 257h0M967 281h0M917 267h0M884 234h0M962 263h0M901 277h0M890 235h0M921 289h0M922 278h0M884 265h0M959 248h0M964 270h0M923 287h0M963 292h0M914 291h0M958 269h0M947 253h0M883 240h0M907 249h0M907 267h0M931 245h0M954 259h0M931 275h0M907 294h0M919 282h0M958 298h0M954 296h0M888 249h0M910 247h0M894 244h0M936 280h0M911 277h0M901 294h0M904 291h0M916 248h0M915 243h0M941 248h0M932 247h0M895 289h0M950 261h0M924 289h0M889 291h0M901 260h0M896 291h0M925 283h0M909 257h0M955 255h0M952 247h0M955 270h0M947 284h0M963 251h0M901 237h0M921 237h0M903 283h0M910 252h0M939 286h0M900 264h0M902 271h0M946 268h0M890 263h0M907 283h0M929 279h0M921 296h0M968 286h0M904 247h0M885 282h0M917 250h0M909 256h0M961 268h0M953 279h0M915 282h0M949 276h0M908 292h0M960 294h0M899 280h0M925 288h0M937 245h0M964 257h0M958 271h0M933 261h0M894 297h0M923 289h0M916 292h0M934 289h0M916 289h0M896 260h0M888 247h0M941 269h0M945 273h0M890 248h0M965 269h0M930 243h0M901 269h0M919 285h0M910 292h0M936 238h0M903 269h0M912 258h0M937 272h0M920 291h0M923 246h0M916 266h0M948 246h0M910 293h0M909 247h0M898 269h0M921 247h0M942 280h0M924 292h0M944 258h0M942 273h0M940 262h0M965 258h0M944 288h0M933 257h0M908 246h0M944 274h0M941 298h0M950 294h0M936 271h0M930 279h0M971 260h0M945 249h0M914 275h0M942 245h0M941 249h0M914 280h0M965 232h0M920 239h0M895 262h0M968 258h0M953 256h0M929 271h0M978 261h0M941 277h0M954 261h0M933 258h0M891 251h0M931 254h0M948 267h0M916 291h0M969 257h0M929 270h0M923 264h0M924 270h0M950 299h0M939 261h0M913 234h0M936 268h0M912 266h0M956 285h0M972 288h0M979 293h0M955 282h0M927 293h0M927 266h0M955 249h0M892 258h0M969 233h0M934 251h0M888 251h0M922 265h0M896 273h0M937 278h0M890 271h0M947 271h0M907 268h0M934 270h0M887 249h0M947 287h0M890 276h0M962 237h0M951 282h0M934 245h0M956 284h0M942 241h0M908 266h0M958 295h0M956 273h0M895 251h0M905 280h0M935 283h0M916 271h0M940 269h0M953 292h0M927 276h0M950 285h0M943 253h0M902 272h0M881 296h0M935 256h0M925 254h0M901 280h0M923 282h0M891 260h0M950 268h0M921 267h0M909 280h0M923 268h0M925 264h0M916 259h0M930 252h0M911 250h0M874 287h0M956 261h0M926 270h0M884 285h0M914 261h0M912 262h0M884 267h0M928 289h0M936 274h0M935 237h0M912 261h0M925 248h0M946 264h0M913 291h0M941 285h0M906 275h0M909 259h0M924 288h0M913 247h0M896 275h0M912 294h0M946 279h0M940 277h0M968 270h0M944 229h0M962 272h0M905 294h0M913 295h0M954 271h0M965 266h0M953 265h0M911 287h0M956 279h0M940 276h0M929 227h0M958 260h0M988 255h0M942 266h0M943 288h0M901 283h0M959 266h0M911 255h0M920 266h0M956 266h0M928 255h0M949 271h0M937 273h0M966 270h0M916 257h0M944 287h0M880 264h0M914 241h0M908 268h0M940 273h0M925 268h0M915 283h0M943 257h0M902 289h0M952 271h0M916 276h0M945 278h0M909 267h0M940 248h0M937 257h0M955 278h0M952 277h0M909 271h0M913 260h0M961 292h0M870 265h0M883 269h0M937 237h0M895 228h0M903 255h0M881 286h0M963 278h0M945 277h0M909 289h0M924 278h0M941 241h0M926 265h0M946 252h0M905 255h0M952 256h0M906 256h0M942 277h0M912 239h0M919 251h0M897 283h0M918 247h0M953 273h0M960 271h0M961 253h0M967 239h0M949 263h0M937 264h0M961 250h0M936 258h0M897 229h0M945 259h0M911 282h0M923 265h0M917 272h0M940 271h0M945 270h0M894 254h0M908 291h0M935 292h0M934 248h0M897 252h0M931 289h0M899 299h0M932 253h0M956 249h0M913 275h0M913 279h0M883 283h0M893 279h0M941 272h0M921 283h0M961 246h0M945 281h0M934 272h0M982 272h0M893 266h0M952 278h0M905 262h0M942 283h0M918 246h0M923 295h0M941 271h0M946 253h0M913 262h0M926 278h0M908 301h0M943 247h0M922 276h0M881 251h0M945 276h0M906 230h0M941 281h0M936 261h0M899 233h0M948 261h0M906 278h0M940 278h0M960 258h0M908 255h0M930 258h0M939 245h0M974 272h0M964 255h0M906 289h0M934 267h0M940 280h0M940 270h0M998 286h0M948 273h0M929 286h0M931 265h0M927 269h0M914 267h0M929 249h0M929 273h0M935 268h0M916 255h0M954 291h0M918 257h0M905 285h0M969 297h0M925 278h0M900 270h0M913 267h0M956 234h0M911 272h0M941 276h0M933 288h0M925 272h0M986 233h0M906 244h0M898 288h0M946 255h0M947 266h0M931 296h0M936 273h0M889 263h0M966 264h0M952 273h0M946 239h0M917 270h0M941 268h0M915 291h0M901 267h0M979 260h0M984 277h0M935 260h0M963 239h0M925 292h0M886 269h0M952 240h0M971 270h0M885 274h0M927 296h0M915 267h0M944 244h0M944 268h0M917 259h0M972 270h0M943 254h0M951 286h0M940 244h0M922 253h0M995 262h0M920 301h0M894 251h0M937 292h0M948 279h0M920 282h0M922 290h0M948 277h0M917 275h0M933 253h0M919 287h0M915 264h0M960 256h0M933 268h0M923 273h0M965 296h0M919 274h0M969 285h0M922 249h0M946 282h0M935 281h0M920 267h0M965 283h0M954 236h0M907 280h0M907 263h0M906 270h0M928 278h0M903 267h0M943 275h0M885 287h0M965 254h0M925 247h0M939 252h0M963 249h0M901 282h0M963 301h0M873 259h0M965 263h0M892 254h0M941 275h0M970 292h0M930 217h0M949 247h0M919 294h0M927 248h0M890 286h0M934 258h0M978 284h0M916 231h0M936 260h0M897 298h0M905 253h0M906 237h0M971 263h0M959 281h0M956 288h0M958 242h0M927 281h0M937 286h0M910 284h0M968 276h0M930 232h0M925 269h0M924 209h0M906 291h0M926 281h0M904 271h0M916 279h0M891 254h0M935 289h0M924 277h0M862 275h0M887 243h0M941 239h0M934 257h0M895 256h0M937 250h0M908 298h0M957 274h0M936 264h0M923 271h0M902 253h0M910 221h0M933 270h0M921 257h0M935 245h0M944 265h0M924 298h0M926 276h0M932 256h0M913 268h0M893 260h0M926 286h0M921 295h0M936 283h0M1012 293h0M962 259h0M978 263h0M910 269h0M936 276h0M897 270h0M951 283h0M947 244h0M928 257h0M947 277h0M911 269h0M910 273h0M954 276h0M906 239h0M920 276h0M929 253h0M891 249h0M961 286h0M899 248h0M992 224h0M897 278h0M894 258h0M914 255h0M884 251h0M909 272h0M933 285h0M958 281h0M901 275h0M923 276h0M900 260h0M936 270h0M976 253h0M946 287h0M915 240h0M943 266h0M913 281h0M894 299h0M904 227h0M947 263h0M942 246h0M908 248h0M906 249h0M967 247h0M998 253h0M927 256h0M933 267h0M921 271h0M929 284h0M947 242h0M900 240h0M947 273h0M924 266h0M915 266h0M948 271h0M920 268h0M944 230h0M930 242h0M881 210h0M936 200h0M991 206h0M935 185h0M907 206h0M882 227h0M906 200h0M977 197h0M888 183h0M889 197h0M981 174h0M910 215h0M893 182h0M990 197h0M950 218h0M903 171h0M999 199h0M917 198h0M904 207h0M979 207h0M932 212h0M981 204h0M1000 171h0M1013 170h0" stroke="#707070" stroke-width="3.0" stroke-linecap="round" fill="none" filter="url(#sd)"/>
</g>
<rect x="787" y="78.5" width="243.3" height="225.3" fill="none" stroke="#1a1a1a" stroke-width="2.6"/>
<path d="M880.3 78.5V303.8M787 231.2H1030.3" stroke="#1a1a1a" stroke-width="2.3" fill="none"/>
<path d="M787 303.8h-5M787 303.8v5M787 247.475h-5M847.825 303.8v5M787 191.15h-5M908.65 303.8v5M787 134.825h-5M969.475 303.8v5M787 78.5h-5M1030.3 303.8v5" stroke="#1a1a1a" stroke-width="2" fill="none"/>
<path d="M787 286.844h-2.3M787 276.926h-2.3M787 269.889h-2.3M787 264.431h-2.3M787 259.971h-2.3M787 256.2h-2.3M787 252.933h-2.3M787 250.052h-2.3M787 230.519h-2.3M787 220.601h-2.3M787 213.564h-2.3M787 208.106h-2.3M787 203.646h-2.3M787 199.875h-2.3M787 196.608h-2.3M787 193.727h-2.3M787 174.194h-2.3M787 164.276h-2.3M787 157.239h-2.3M787 151.781h-2.3M787 147.321h-2.3M787 143.55h-2.3M787 140.283h-2.3M787 137.402h-2.3M787 117.869h-2.3M787 107.951h-2.3M787 100.914h-2.3M787 95.456h-2.3M787 90.996h-2.3M787 87.225h-2.3M787 83.958h-2.3M787 81.077h-2.3M805.31 303.8v2.3M816.021 303.8v2.3M823.62 303.8v2.3M829.515 303.8v2.3M834.331 303.8v2.3M838.403 303.8v2.3M841.93 303.8v2.3M845.042 303.8v2.3M866.135 303.8v2.3M876.846 303.8v2.3M884.445 303.8v2.3M890.34 303.8v2.3M895.156 303.8v2.3M899.228 303.8v2.3M902.755 303.8v2.3M905.867 303.8v2.3M926.96 303.8v2.3M937.671 303.8v2.3M945.27 303.8v2.3M951.165 303.8v2.3M955.981 303.8v2.3M960.053 303.8v2.3M963.58 303.8v2.3M966.692 303.8v2.3M987.785 303.8v2.3M998.496 303.8v2.3M1006.095 303.8v2.3M1011.99 303.8v2.3M1016.806 303.8v2.3M1020.878 303.8v2.3M1024.405 303.8v2.3M1027.517 303.8v2.3" stroke="#1a1a1a" stroke-width="1.2" fill="none" opacity="0.7"/>
<text transform="matrix(0.21,0,0,0.21,784.825,326.8)" font-family="'Liberation Sans', sans-serif" font-size="100" fill="#1a1a1a" stroke="#1a1a1a" stroke-width="5.952" stroke-linejoin="round">10<tspan font-size="50" dx="5" dy="-40">0</tspan></text>
<text transform="matrix(0,-0.21,0.21,0,777.4,304.975)" font-family="'Liberation Sans', sans-serif" font-size="100" fill="#1a1a1a" stroke="#1a1a1a" stroke-width="5.952" stroke-linejoin="round">10<tspan font-size="52" dx="4" dy="-40">0</tspan></text>
<text transform="matrix(0.21,0,0,0.21,845.65,326.8)" font-family="'Liberation Sans', sans-serif" font-size="100" fill="#1a1a1a" stroke="#1a1a1a" stroke-width="5.952" stroke-linejoin="round">10<tspan font-size="50" dx="5" dy="-40">1</tspan></text>
<text transform="matrix(0,-0.21,0.21,0,777.4,248.65)" font-family="'Liberation Sans', sans-serif" font-size="100" fill="#1a1a1a" stroke="#1a1a1a" stroke-width="5.952" stroke-linejoin="round">10<tspan font-size="52" dx="4" dy="-40">1</tspan></text>
<text transform="matrix(0.21,0,0,0.21,906.475,326.8)" font-family="'Liberation Sans', sans-serif" font-size="100" fill="#1a1a1a" stroke="#1a1a1a" stroke-width="5.952" stroke-linejoin="round">10<tspan font-size="50" dx="5" dy="-40">2</tspan></text>
<text transform="matrix(0,-0.21,0.21,0,777.4,192.325)" font-family="'Liberation Sans', sans-serif" font-size="100" fill="#1a1a1a" stroke="#1a1a1a" stroke-width="5.952" stroke-linejoin="round">10<tspan font-size="52" dx="4" dy="-40">2</tspan></text>
<text transform="matrix(0.21,0,0,0.21,967.3,326.8)" font-family="'Liberation Sans', sans-serif" font-size="100" fill="#1a1a1a" stroke="#1a1a1a" stroke-width="5.952" stroke-linejoin="round">10<tspan font-size="50" dx="5" dy="-40">3</tspan></text>
<text transform="matrix(0,-0.21,0.21,0,777.4,136)" font-family="'Liberation Sans', sans-serif" font-size="100" fill="#1a1a1a" stroke="#1a1a1a" stroke-width="5.952" stroke-linejoin="round">10<tspan font-size="52" dx="4" dy="-40">3</tspan></text>
<text transform="matrix(0.21,0,0,0.21,1028.125,326.8)" font-family="'Liberation Sans', sans-serif" font-size="100" fill="#1a1a1a" stroke="#1a1a1a" stroke-width="5.952" stroke-linejoin="round">10<tspan font-size="50" dx="5" dy="-40">4</tspan></text>
<text transform="matrix(0,-0.21,0.21,0,777.4,79.675)" font-family="'Liberation Sans', sans-serif" font-size="100" fill="#1a1a1a" stroke="#1a1a1a" stroke-width="5.952" stroke-linejoin="round">10<tspan font-size="52" dx="4" dy="-40">4</tspan></text>
<text transform="matrix(0.216,0,0,0.209,857.435,350.4)" font-family="'Liberation Sans', sans-serif" font-size="100" fill="#1a1a1a" stroke="#1a1a1a" stroke-width="5.878" stroke-linejoin="round">cd3-pecy5</text>
<text transform="matrix(0,-0.212,0.184,0,755,225.453)" font-family="'Liberation Sans', sans-serif" font-size="100" fill="#1a1a1a" stroke="#1a1a1a" stroke-width="6.32" stroke-linejoin="round">cd8-fitc</text>
<text transform="matrix(0.225,0,0,0.229,885.233,66.58)" font-family="'Liberation Serif', serif" font-size="100" fill="#111" stroke="#111" stroke-width="4.629" stroke-linejoin="round">IL-21</text>
<text transform="matrix(0.229,0,0,0.269,952.819,111.28)" font-family="'Liberation Serif', serif" font-size="100" fill="#222" stroke="#222" stroke-width="4.223" stroke-linejoin="round">13.32%</text>
</g>
<g>
<clipPath id="f3"><rect x="447.6" y="434.8" width="243.7" height="224.7"/></clipPath><g clip-path="url(#f3)">
<ellipse cx="500" cy="619" rx="36" ry="23" transform="rotate(-10 500 619)" fill="#6c6c6c" opacity="1" filter="url(#bl)"/>
<ellipse cx="601" cy="566" rx="14" ry="9.5" transform="rotate(-20 601 566)" fill="#6c6c6c" opacity="0.95" filter="url(#bl)"/>
<path d="M506 635h0M484 636h0M494 616h0M539 612h0M501 628h0M523 613h0M509 602h0M491 614h0M468 603h0M466 622h0M496 614h0M498 599h0M499 622h0M513 603h0M486 592h0M483 590h0M474 639h0M457 639h0M506 612h0M511 623h0M521 610h0M486 612h0M480 622h0M487 636h0M458 611h0M474 594h0M532 577h0M493 612h0M528 584h0M520 603h0M495 609h0M510 600h0M499 623h0M531 577h0M534 624h0M491 624h0M495 643h0M504 614h0M495 616h0M494 607h0M537 583h0M498 624h0M495 617h0M510 630h0M490 615h0M541 617h0M487 654h0M514 607h0M477 627h0M480 607h0M472 617h0M521 607h0M472 633h0M504 629h0M524 610h0M497 618h0M479 632h0M529 614h0M494 615h0M482 610h0M489 608h0M486 598h0M507 617h0M470 592h0M503 633h0M484 615h0M490 629h0M484 635h0M496 632h0M500 615h0M468 615h0M497 628h0M503 607h0M511 630h0M496 613h0M494 631h0M508 603h0M506 610h0M488 638h0M515 604h0M503 625h0M487 619h0M508 591h0M509 627h0M506 597h0M504 605h0M513 624h0M502 607h0M490 632h0M483 629h0M510 612h0M549 609h0M538 581h0M457 641h0M512 611h0M493 592h0M484 607h0M498 631h0M502 623h0M501 614h0M523 600h0M536 596h0M534 613h0M510 626h0M462 644h0M484 613h0M505 645h0M465 629h0M493 627h0M462 620h0M522 636h0M530 599h0M501 616h0M468 604h0M516 618h0M501 635h0M481 630h0M500 617h0M511 618h0M506 620h0M539 605h0M523 622h0M495 630h0M486 638h0M482 615h0M509 628h0M521 626h0M493 606h0M512 620h0M483 635h0M501 604h0M505 598h0M483 627h0M468 625h0M474 634h0M486 624h0M468 620h0M521 620h0M465 639h0M517 609h0M526 597h0M501 634h0M531 630h0M472 598h0M504 597h0M494 601h0M524 624h0M511 616h0M500 614h0M509 620h0M508 610h0M540 614h0M533 630h0M477 599h0M525 607h0M499 601h0M497 612h0M493 586h0M518 619h0M462 615h0M502 626h0M504 637h0M498 604h0M488 631h0M520 611h0M498 610h0M483 599h0M485 606h0M471 626h0M508 611h0M531 625h0M520 605h0M471 632h0M508 627h0M512 633h0M496 628h0M475 590h0M495 640h0M469 639h0M485 615h0M502 621h0M480 624h0M512 627h0M489 643h0M546 643h0M473 626h0M463 631h0M508 600h0M468 627h0M511 604h0M487 585h0M486 623h0M508 639h0M508 608h0M517 635h0M523 589h0M505 646h0M494 633h0M498 612h0M536 625h0M471 614h0M519 615h0M479 629h0M511 634h0M519 610h0M490 618h0M500 639h0M537 630h0M507 613h0M518 609h0M500 594h0M475 602h0M501 642h0M529 607h0M490 619h0M481 623h0M490 599h0M487 617h0M479 606h0M524 640h0M493 613h0M510 613h0M488 640h0M476 613h0M484 609h0M497 627h0M532 621h0M497 601h0M496 605h0M501 632h0M484 621h0M500 605h0M492 632h0M465 619h0M481 644h0M514 622h0M501 595h0M507 625h0M473 636h0M509 594h0M489 616h0M490 626h0M473 621h0M507 627h0M508 588h0M518 610h0M473 618h0M456 598h0M491 609h0M512 603h0M471 611h0M535 611h0M485 607h0M477 621h0M512 632h0M524 617h0M450 614h0M508 612h0M504 598h0M519 618h0M452 620h0M487 647h0M495 612h0M514 600h0M527 602h0M496 606h0M510 585h0M512 604h0M498 602h0M505 620h0M513 620h0M516 629h0M489 604h0M476 633h0M495 634h0M524 641h0M494 606h0M485 634h0M487 615h0M514 615h0M501 610h0M487 623h0M505 625h0M491 625h0M510 617h0M515 629h0M504 618h0M481 627h0M497 614h0M485 629h0M554 613h0M503 624h0M488 622h0M485 612h0M495 608h0M502 602h0M515 610h0M502 629h0M508 598h0M496 624h0M471 590h0M498 618h0M509 617h0M503 621h0M530 619h0M510 610h0M523 611h0M509 586h0M505 616h0M494 638h0M508 614h0M495 646h0M517 624h0M488 639h0M511 612h0M493 596h0M516 608h0M488 626h0M501 602h0M500 627h0M491 601h0M492 606h0M488 621h0M498 615h0M467 630h0M495 613h0M509 644h0M469 602h0M513 604h0M524 599h0M493 631h0M520 620h0M509 614h0M490 617h0M528 622h0M501 622h0M520 631h0M514 652h0M509 634h0M471 636h0M468 609h0M505 622h0M503 611h0M554 612h0M519 643h0M521 622h0M512 642h0M475 610h0M497 590h0M487 637h0M491 622h0M511 599h0M504 608h0M477 619h0M498 613h0M489 634h0M525 621h0M495 604h0M507 629h0M518 614h0M493 622h0M504 626h0M528 602h0M537 580h0M459 605h0M478 619h0M540 600h0M521 608h0M500 603h0M546 608h0M494 651h0M505 623h0M495 607h0M470 622h0M534 617h0M500 633h0M485 641h0M497 607h0M515 622h0M494 622h0M524 633h0M475 586h0M541 606h0M493 626h0M494 634h0M474 621h0M479 644h0M498 634h0M525 596h0M498 629h0M520 627h0M488 619h0M514 618h0M500 602h0M535 607h0M502 620h0M484 627h0M526 618h0M516 621h0M506 643h0M487 626h0M522 618h0M475 608h0M529 598h0M502 625h0M497 593h0M461 625h0M483 618h0M468 601h0M517 605h0M470 596h0M507 599h0M480 631h0M508 624h0M466 585h0M479 618h0M489 633h0M504 602h0M511 614h0M493 635h0M516 585h0M496 617h0M475 615h0M484 622h0M482 591h0M527 625h0M537 588h0M490 613h0M511 611h0M475 641h0M496 629h0M545 598h0M494 632h0M499 626h0M508 656h0M514 620h0M504 623h0M466 621h0M512 598h0M501 617h0M497 654h0M516 619h0M484 623h0M494 618h0M512 651h0M532 636h0M536 651h0M483 603h0M505 621h0M499 609h0M519 639h0M524 609h0M494 624h0M459 654h0M508 622h0M478 648h0M561 587h0M515 613h0M475 651h0M469 627h0M499 621h0M502 599h0M476 627h0M478 629h0M505 609h0M457 609h0M506 609h0M537 604h0M503 622h0M520 612h0M542 612h0M509 574h0M487 605h0M500 612h0M520 629h0M492 635h0M489 629h0M486 636h0M547 604h0M521 593h0M495 657h0M500 625h0M467 625h0M497 655h0M479 627h0M458 621h0M525 611h0M475 630h0M516 594h0M540 620h0M462 653h0M492 627h0M458 618h0M465 638h0M496 635h0M486 629h0M471 600h0M506 630h0M517 621h0M500 621h0M453 620h0M466 620h0M514 591h0M517 606h0M494 613h0M513 606h0M458 632h0M499 627h0M509 599h0M505 619h0M499 620h0M500 632h0M478 622h0M476 608h0M492 622h0M531 609h0M521 621h0M492 575h0M503 618h0M479 624h0M527 596h0M492 633h0M460 612h0M509 630h0M527 623h0M548 613h0M461 632h0M483 619h0M530 609h0M486 619h0M493 649h0M484 612h0M499 587h0M517 596h0M485 626h0M520 641h0M513 641h0M509 613h0M516 607h0M505 626h0M474 642h0M503 613h0M509 626h0M502 640h0M496 625h0M507 632h0M485 617h0M494 610h0M483 604h0M520 635h0M482 633h0M474 612h0M494 621h0M504 590h0M473 625h0M501 648h0M492 610h0M517 576h0M487 622h0M493 601h0M522 624h0M511 602h0M459 620h0M479 628h0M464 612h0M498 600h0M492 648h0M517 603h0M539 608h0M531 613h0M474 626h0M505 639h0M480 617h0M523 625h0M490 641h0M512 628h0M491 617h0M523 619h0M511 632h0M506 622h0M514 602h0M495 622h0M500 630h0M486 625h0M512 613h0M476 616h0M507 626h0M536 608h0M489 590h0M529 625h0M498 608h0M488 642h0M519 632h0M500 635h0M475 644h0M496 602h0M489 606h0M473 619h0M496 622h0M518 632h0M513 639h0M515 596h0M466 617h0M538 644h0M495 603h0M469 619h0M489 615h0M522 629h0M507 611h0M509 616h0M502 604h0M486 614h0M499 617h0M498 640h0M482 620h0M509 615h0M504 604h0M505 602h0M489 609h0M503 605h0M506 632h0M516 622h0M485 614h0M505 617h0M494 627h0M484 617h0M478 603h0M478 621h0M498 623h0M503 601h0M542 628h0M473 614h0M491 623h0M512 615h0M520 625h0M485 623h0M518 608h0M523 614h0M532 612h0M526 590h0M531 618h0M497 630h0M522 628h0M549 627h0M553 617h0M496 601h0M493 615h0M486 606h0M502 617h0M530 621h0M490 602h0M484 631h0M493 642h0M502 634h0M502 631h0M476 604h0M522 609h0M508 629h0M515 619h0M474 614h0M503 627h0M512 621h0M517 602h0M491 633h0M497 605h0M505 627h0M513 634h0M476 605h0M531 626h0M481 624h0M477 605h0M479 584h0M527 631h0M455 608h0M510 624h0M513 610h0M551 611h0M516 613h0M540 625h0M503 628h0M513 611h0M514 608h0M474 619h0M482 632h0M494 645h0M529 602h0M502 613h0M502 627h0M537 641h0M534 593h0M512 609h0M495 653h0M520 644h0M493 639h0M538 629h0M481 606h0M501 625h0M511 606h0M511 627h0M515 623h0M479 619h0M493 630h0M465 628h0M469 634h0M490 621h0M524 637h0M460 624h0M488 630h0M498 620h0M477 618h0M478 623h0M469 629h0M530 649h0M535 630h0M521 636h0M501 624h0M461 619h0M519 590h0M507 616h0M498 603h0M493 594h0M531 611h0M516 602h0M541 624h0M508 620h0M506 607h0M497 616h0M512 637h0M525 617h0M512 612h0M471 607h0M498 616h0M514 613h0M490 616h0M510 603h0M469 622h0M525 630h0M507 590h0M499 628h0M528 638h0M482 627h0M468 622h0M495 631h0M499 594h0M499 624h0M481 614h0M520 610h0M472 650h0M482 605h0M480 611h0M476 621h0M501 606h0M504 613h0M478 624h0M495 610h0M474 617h0M513 615h0M523 647h0M476 628h0M497 639h0M508 597h0M522 613h0M494 620h0M502 605h0M496 638h0M478 614h0M513 602h0M497 623h0M481 618h0M481 619h0M506 617h0M513 600h0M507 639h0M511 615h0M499 629h0M520 594h0M473 633h0M546 620h0M520 586h0M487 602h0M498 625h0M520 637h0M470 642h0M497 597h0M503 614h0M501 631h0M474 633h0M521 597h0M527 603h0M488 634h0M494 593h0M489 630h0M487 614h0M500 618h0M483 608h0M513 633h0M449 635h0M518 602h0M525 591h0M524 636h0M524 575h0M512 635h0M463 614h0M491 629h0M523 601h0M484 634h0M475 632h0M483 620h0M542 605h0M499 607h0M516 636h0M509 597h0M512 638h0M480 620h0M479 614h0M510 615h0M452 613h0M482 606h0M503 615h0M483 615h0M491 615h0M484 620h0M532 601h0M467 629h0M484 633h0M526 636h0M498 594h0M536 624h0M527 614h0M493 620h0M465 640h0M505 605h0M515 606h0M552 625h0M515 620h0M500 611h0M459 619h0M496 592h0M493 633h0M554 604h0M511 641h0M506 625h0M522 611h0M515 639h0M489 626h0M532 618h0M483 617h0M480 646h0M507 637h0M499 648h0M541 620h0M469 606h0M496 623h0M517 632h0M503 589h0M520 592h0M459 617h0M488 603h0M496 620h0M514 621h0M490 622h0M526 609h0M491 590h0M512 645h0M515 612h0M530 630h0M479 633h0M513 622h0M473 635h0M544 626h0M555 613h0M508 643h0M515 583h0M470 629h0M495 645h0M537 629h0M493 617h0M516 610h0M517 616h0M476 582h0M510 595h0M490 627h0M517 629h0M514 638h0M492 637h0M471 618h0M511 625h0M493 610h0M468 592h0M465 649h0M458 604h0M465 621h0M493 611h0M473 622h0M472 629h0M528 598h0M503 610h0M488 601h0M533 645h0M481 638h0M477 630h0M502 606h0M489 601h0M492 590h0M551 625h0M491 621h0M510 643h0M484 593h0M485 633h0M493 608h0M494 600h0M496 643h0M526 621h0M476 625h0M483 613h0M530 601h0M501 619h0M511 621h0M494 611h0M482 637h0M485 638h0M533 603h0M477 608h0M481 607h0M466 627h0M514 637h0M498 617h0M508 606h0M516 626h0M507 620h0M534 630h0M503 630h0M477 629h0M461 644h0M490 634h0M523 637h0M488 648h0M506 604h0M495 627h0M512 644h0M521 627h0M480 610h0M479 622h0M519 603h0M506 648h0M469 605h0M512 614h0M504 594h0M538 623h0M505 585h0M523 618h0M493 643h0M521 591h0M486 604h0M515 608h0M549 632h0M469 623h0M495 626h0M486 645h0M500 649h0M491 649h0M512 629h0M509 622h0M496 631h0M506 613h0M468 639h0M485 616h0M510 616h0M503 619h0M464 636h0M499 630h0M501 612h0M531 614h0M511 603h0M500 638h0M504 631h0M490 611h0M503 623h0M514 605h0M454 641h0M533 606h0M504 630h0M507 640h0M480 613h0M473 627h0M478 653h0M498 605h0M522 616h0M504 641h0M507 603h0M537 592h0M492 613h0M483 636h0M524 615h0M475 633h0M507 604h0M473 629h0M524 618h0M487 621h0M498 635h0M472 623h0M525 623h0M487 658h0M491 607h0M536 629h0M527 598h0M457 597h0M470 617h0M472 601h0M509 607h0M510 633h0M521 592h0M487 604h0M502 611h0M521 602h0M470 633h0M481 613h0M497 634h0M516 617h0M537 624h0M470 613h0M490 642h0M540 610h0M493 638h0M488 645h0M500 608h0M495 585h0M545 593h0M528 630h0M514 610h0M502 601h0M478 605h0M515 621h0M534 610h0M524 598h0M516 625h0M536 602h0M538 609h0M487 597h0M517 607h0M518 617h0M517 615h0M487 634h0M455 609h0M545 624h0M483 611h0M497 606h0M493 604h0M513 626h0M481 616h0M464 611h0M472 604h0M492 647h0M522 607h0M496 590h0M493 603h0M512 634h0M514 598h0M493 628h0M488 588h0M513 605h0M493 593h0M479 639h0M491 626h0M533 611h0M499 614h0M513 638h0M514 633h0M490 625h0M531 604h0M476 618h0M486 613h0M519 612h0M535 610h0M500 628h0M539 584h0M506 599h0M464 619h0M512 591h0M496 645h0M513 616h0M485 609h0M524 603h0M495 611h0M467 621h0M535 595h0M513 619h0M495 606h0M485 595h0M481 598h0M482 594h0M516 609h0M460 632h0M481 599h0M477 626h0M492 619h0M497 621h0M489 622h0M487 645h0M451 593h0M453 638h0M510 605h0M513 623h0M511 609h0M484 601h0M505 634h0M487 613h0M471 620h0M516 612h0M514 630h0M479 613h0M477 622h0M510 631h0M482 626h0M500 576h0M470 649h0M508 619h0M551 622h0M538 627h0M531 610h0M521 604h0M498 626h0M544 616h0M517 593h0M495 635h0M461 618h0M499 619h0M468 642h0M492 615h0M475 629h0M477 638h0M508 607h0M497 595h0M475 612h0M467 615h0M492 609h0M459 634h0M493 636h0M473 616h0M516 634h0M521 625h0M471 631h0M531 579h0M512 647h0M505 628h0M498 630h0M480 619h0M495 586h0M482 601h0M494 605h0M517 637h0M487 610h0M495 614h0M503 587h0M482 598h0M521 629h0M508 580h0M528 635h0M521 601h0M502 639h0M488 612h0M488 600h0M467 601h0M495 598h0M480 638h0M498 606h0M492 618h0M499 590h0M553 619h0M532 644h0M514 614h0M527 600h0M535 605h0M481 641h0M491 630h0M465 615h0M479 625h0M477 617h0M533 601h0M498 628h0M485 619h0M492 616h0M478 637h0M501 626h0M498 609h0M550 620h0M522 606h0M457 612h0M496 608h0M498 639h0M504 634h0M536 620h0M520 622h0M503 602h0M496 609h0M530 611h0M489 624h0M512 625h0M489 620h0M451 616h0M484 587h0M526 626h0M510 649h0M467 626h0M500 610h0M533 626h0M506 603h0M505 618h0M506 596h0M481 637h0M490 581h0M531 628h0M486 609h0M513 618h0M466 644h0M461 631h0M508 626h0M503 604h0M491 640h0M462 636h0M482 596h0M483 628h0M524 607h0M492 620h0M515 600h0M500 629h0M476 622h0M499 608h0M517 613h0M475 624h0M502 597h0M493 618h0M503 626h0M472 613h0M528 613h0M496 612h0M496 611h0M532 609h0M456 597h0M535 631h0M486 633h0M471 633h0M467 639h0M468 638h0M514 641h0M502 612h0M522 614h0M476 639h0M530 590h0M487 632h0M536 615h0M499 643h0M491 610h0M490 633h0M501 620h0M488 625h0M504 642h0M496 604h0M535 614h0M494 588h0M503 635h0M494 626h0M544 614h0M503 609h0M488 604h0M525 622h0M496 615h0M482 583h0M463 635h0M494 608h0M464 635h0M469 615h0M500 634h0M505 582h0M479 617h0M490 628h0M511 636h0M519 614h0M463 616h0M503 617h0M519 613h0M503 629h0M493 625h0M518 604h0M496 607h0M472 597h0M513 651h0M497 641h0M520 608h0M517 608h0M459 639h0M518 629h0M515 607h0M515 587h0M548 612h0M510 599h0M493 605h0M467 635h0M539 631h0M500 623h0M489 617h0M471 635h0M505 632h0M535 599h0M525 609h0M542 643h0M548 637h0M508 617h0M465 612h0M529 626h0M485 653h0M535 634h0M493 634h0M489 599h0M513 596h0M500 641h0M484 638h0M487 630h0M489 641h0M540 611h0M518 592h0M514 589h0M476 641h0M470 625h0M510 636h0M539 622h0M515 632h0M516 592h0M558 624h0M491 647h0M483 630h0M501 599h0M516 630h0M537 626h0M511 628h0M495 602h0M486 611h0M503 608h0M508 616h0M520 639h0M457 620h0M514 617h0M478 634h0M517 626h0M502 616h0M519 631h0M507 635h0M513 630h0M500 595h0M490 604h0M505 593h0M497 633h0M455 607h0M544 606h0M526 589h0M478 625h0M478 655h0M541 610h0M461 653h0M525 625h0M454 590h0M515 637h0M489 632h0M488 613h0M470 635h0M539 602h0M523 634h0M470 598h0M529 599h0M460 595h0M527 616h0M498 622h0M462 648h0M479 607h0M450 632h0M475 635h0M529 611h0M476 615h0M494 592h0M459 647h0M516 623h0M455 640h0M485 651h0M521 630h0M482 645h0M480 599h0M452 632h0M475 600h0M453 643h0M475 649h0M535 646h0M470 655h0M508 648h0M536 611h0M484 652h0M476 596h0M452 628h0M529 634h0M533 657h0M532 631h0M469 607h0M486 595h0M543 612h0M502 644h0M539 615h0M542 598h0M470 643h0M471 594h0M492 605h0M482 609h0M465 624h0M470 602h0M538 651h0M457 590h0M498 655h0M456 621h0M525 590h0M505 607h0M521 647h0M534 644h0M456 635h0M502 610h0M467 622h0M540 605h0M531 599h0M486 622h0M461 604h0M488 602h0M530 637h0M509 638h0M464 590h0M456 651h0M479 616h0M511 648h0M489 623h0M536 652h0M532 622h0M520 618h0M456 641h0M458 655h0M464 613h0M511 595h0M459 593h0M449 625h0M514 624h0M538 657h0M478 643h0M515 602h0M524 591h0M513 652h0M511 638h0M512 618h0M459 615h0M478 646h0M480 652h0M536 590h0M501 596h0M456 620h0M479 623h0M501 598h0M465 590h0M466 642h0M511 649h0M526 593h0M480 647h0M451 648h0M486 644h0M505 614h0M499 591h0M539 650h0M519 620h0M472 634h0M543 650h0M525 601h0M478 609h0M503 652h0M508 630h0M474 658h0M536 635h0M515 605h0M450 591h0M450 603h0M543 629h0M469 595h0M450 590h0M461 613h0M463 605h0M509 598h0M461 643h0M476 638h0M510 604h0M458 619h0M492 591h0M483 642h0M534 618h0M522 625h0M508 613h0M454 650h0M520 643h0M483 650h0M508 618h0M464 596h0M470 611h0M480 632h0M541 628h0M512 590h0M510 625h0M524 619h0M528 650h0M542 654h0M496 637h0M458 652h0M524 632h0M487 606h0M509 592h0M468 595h0M532 648h0M538 619h0M479 593h0M473 613h0M519 649h0M485 646h0M525 595h0M523 651h0M484 645h0M461 651h0M488 616h0M449 594h0M486 597h0M476 642h0M523 623h0M528 600h0M514 626h0M467 605h0M540 634h0M530 633h0M530 644h0M517 636h0M479 657h0M517 600h0M527 619h0M454 651h0M470 618h0M457 626h0M500 647h0M540 651h0M513 617h0M484 629h0M459 606h0M450 619h0M471 646h0M473 602h0M518 603h0M462 638h0M545 611h0M454 616h0M497 629h0M449 592h0M535 617h0M491 628h0M521 651h0M456 633h0M527 622h0M484 649h0M515 653h0M501 611h0M541 634h0M451 642h0M544 601h0M544 645h0M494 614h0M536 654h0M477 644h0M482 593h0M494 652h0M500 646h0M530 645h0M477 653h0M456 624h0M456 616h0M534 646h0M544 628h0M498 601h0M495 652h0M481 649h0M477 645h0M467 656h0M459 595h0M504 643h0M517 617h0M480 609h0M507 612h0M523 652h0M543 599h0M457 625h0M518 627h0M495 619h0M493 650h0M455 635h0M457 648h0M473 645h0M497 656h0M494 625h0M539 613h0M463 604h0M518 652h0M505 656h0M470 651h0M523 604h0M457 619h0M518 605h0M473 612h0M464 620h0M506 608h0M461 640h0M456 649h0M508 605h0M450 642h0M500 637h0M467 640h0M473 630h0M542 631h0M464 606h0M488 647h0M525 616h0M540 615h0M469 597h0M476 631h0M498 592h0M479 646h0M455 623h0M489 635h0M487 653h0M497 649h0M456 650h0M473 604h0M499 618h0M545 654h0M518 606h0M479 604h0M468 607h0M477 597h0M478 656h0M529 632h0M541 655h0M457 592h0M480 626h0M545 591h0M516 644h0M473 643h0M532 596h0M512 622h0M523 599h0M451 619h0M482 619h0M488 624h0M483 651h0M464 654h0M467 650h0M489 631h0M469 644h0M512 652h0M465 646h0M458 646h0M537 599h0M452 646h0M527 655h0M498 648h0M536 643h0M484 653h0M489 652h0M451 596h0M538 621h0M519 622h0M518 626h0M462 611h0M539 593h0M503 650h0M519 599h0M458 638h0M488 596h0M460 636h0M450 609h0M539 607h0M531 591h0M467 592h0M519 629h0M522 646h0M518 597h0M525 615h0M493 651h0M544 631h0M486 650h0M530 604h0M492 655h0M543 653h0M495 600h0M534 603h0M506 616h0M530 615h0M485 648h0M460 598h0M535 621h0M453 622h0M472 645h0M526 649h0M459 628h0M467 657h0M453 609h0M514 654h0M515 611h0M478 615h0M470 600h0M486 646h0M479 610h0M471 624h0M460 645h0M489 592h0M497 619h0M467 610h0M507 607h0M451 612h0M471 619h0M540 640h0M512 648h0M517 645h0M526 652h0M471 601h0M466 603h0M464 656h0M455 590h0M537 616h0M521 611h0M526 604h0M500 658h0M500 656h0M453 651h0M499 641h0M464 593h0M530 602h0M522 622h0M467 649h0M480 657h0M459 645h0M505 606h0M487 611h0M490 636h0M482 595h0M496 650h0M471 608h0M537 600h0M468 640h0M534 622h0M474 598h0M494 643h0M516 637h0M537 606h0M542 633h0M479 637h0M478 618h0M528 645h0M506 645h0M532 616h0M455 655h0M454 620h0M458 627h0M513 593h0M482 622h0M464 649h0M483 614h0M496 610h0M454 617h0M510 632h0M545 638h0M538 640h0M532 642h0M532 591h0M486 648h0M476 624h0M482 634h0M528 593h0M488 649h0M488 657h0M474 624h0M465 650h0M495 647h0M531 594h0M540 621h0M504 592h0M454 622h0M489 654h0M503 651h0M504 654h0M479 591h0M521 635h0M467 604h0M486 602h0M515 591h0M499 595h0M462 642h0M532 625h0M541 639h0M500 631h0M521 615h0M542 607h0M475 604h0M473 594h0M505 590h0M532 600h0M522 649h0M476 630h0M488 651h0M542 617h0M533 612h0M452 627h0M505 631h0M473 601h0M454 603h0M473 637h0M539 599h0M515 656h0M501 652h0M459 604h0M457 589h0M483 640h0M472 649h0M466 657h0M533 624h0M539 648h0M488 610h0M531 612h0M502 608h0M491 593h0M505 650h0M540 617h0M471 595h0M502 615h0M525 600h0M507 600h0M467 597h0M511 640h0M490 647h0M526 650h0M510 620h0M477 606h0M511 647h0M475 636h0M452 630h0M481 605h0M453 630h0M474 613h0M497 652h0M511 642h0M530 605h0M532 594h0M493 640h0M535 613h0M453 642h0M539 656h0M460 593h0M469 654h0M536 603h0M508 634h0M491 648h0M457 608h0M459 653h0M457 649h0M524 650h0M539 636h0M461 648h0M478 620h0M533 589h0M481 646h0M487 652h0M512 639h0M497 594h0M532 602h0M509 647h0M492 593h0M465 604h0M540 594h0M480 612h0M500 636h0M475 619h0M485 613h0M453 641h0M516 645h0M532 633h0M476 590h0M462 651h0M482 613h0M467 609h0M454 597h0M451 622h0M511 651h0M487 631h0M524 626h0M500 599h0M514 640h0M477 635h0M468 597h0M480 627h0M486 607h0M542 638h0M475 594h0M517 654h0M518 637h0M460 622h0M463 633h0M541 622h0M452 594h0M482 618h0M530 627h0M504 621h0M517 618h0M476 597h0M492 602h0M483 653h0M453 646h0M509 606h0M543 597h0M464 599h0M463 598h0M495 599h0M478 595h0M454 635h0M487 624h0M516 638h0M467 603h0M527 649h0M464 630h0M455 593h0M514 628h0M476 654h0M455 630h0M465 614h0M452 599h0M507 591h0M488 632h0M503 596h0M489 612h0M505 644h0M518 651h0M464 638h0M460 628h0M470 657h0M536 623h0M526 632h0M537 628h0M474 597h0M524 635h0M532 604h0M538 647h0M510 590h0M522 615h0M461 612h0M493 652h0M500 640h0M497 599h0M492 649h0M474 611h0M515 641h0M529 617h0M519 605h0M453 637h0M471 650h0M530 591h0M460 607h0M462 596h0M474 589h0M533 600h0M481 597h0M493 602h0M456 625h0M471 613h0M474 648h0M538 648h0M540 601h0M503 644h0M458 607h0M484 650h0M519 604h0M462 645h0M533 591h0M480 597h0M490 590h0M486 601h0M453 657h0M463 654h0M518 613h0M461 630h0M541 609h0M509 639h0M520 630h0M493 619h0M520 593h0M503 648h0M492 623h0M515 644h0M527 632h0M481 634h0M502 652h0M470 591h0M514 611h0M523 649h0M454 607h0M456 645h0M540 608h0M503 657h0M523 607h0M493 653h0M533 623h0M452 603h0M503 590h0M465 642h0M466 624h0M539 626h0M515 594h0M495 623h0M454 632h0M482 638h0M473 653h0M493 647h0M490 609h0M542 625h0M503 646h0M509 618h0M497 645h0M454 618h0M456 628h0M451 620h0M543 605h0M468 605h0M454 608h0M486 631h0M518 642h0M538 641h0M510 634h0M485 652h0M466 614h0M460 625h0M536 634h0M450 651h0M453 603h0M494 591h0M525 637h0M542 634h0M490 605h0M499 634h0M470 639h0M475 613h0M468 656h0M452 611h0M507 624h0M470 624h0M526 612h0M532 606h0M511 657h0M501 589h0M505 615h0M455 645h0M516 655h0M461 614h0M460 615h0M490 624h0M491 618h0M497 637h0M524 654h0M495 648h0M525 614h0M522 623h0M503 600h0M522 657h0M499 657h0M537 654h0M491 638h0M503 595h0M537 650h0M501 646h0M531 649h0M487 612h0M495 625h0M480 590h0M499 652h0M472 651h0M596 574h0M600 558h0M580 574h0M611 566h0M600 575h0M586 568h0M600 583h0M615 557h0M585 563h0M614 565h0M594 571h0M595 562h0M604 563h0M603 574h0M605 567h0M596 563h0M614 570h0M607 556h0M594 564h0M613 555h0M602 557h0M605 573h0M593 576h0M606 568h0M596 567h0M610 571h0M586 576h0M613 561h0M593 563h0M592 565h0M607 557h0M604 573h0M602 564h0M616 560h0M593 569h0M603 572h0M596 558h0M592 569h0M597 569h0M593 577h0M624 560h0M611 563h0M601 575h0M603 575h0M622 563h0M615 554h0M598 563h0M590 563h0M602 558h0M601 560h0M607 565h0M609 563h0M616 557h0M598 568h0M601 565h0M598 559h0M600 567h0M587 558h0M584 577h0M606 570h0M596 570h0M612 561h0M614 561h0M608 569h0M602 559h0M604 580h0M605 583h0M605 565h0M584 568h0M600 581h0M602 580h0M581 574h0M610 569h0M608 559h0M606 572h0M604 567h0M600 566h0M595 572h0M601 559h0M590 574h0M609 571h0M607 571h0M604 548h0M611 564h0M597 573h0M588 573h0M614 562h0M617 564h0M612 557h0M598 546h0M607 561h0M591 564h0M591 569h0M610 564h0M621 561h0M601 564h0M585 560h0M589 562h0M592 570h0M600 569h0M600 571h0M594 572h0M598 589h0M605 572h0M603 559h0M613 564h0M595 579h0M599 573h0M588 570h0M600 561h0M615 556h0M597 567h0M601 567h0M589 566h0M597 560h0M614 553h0M594 560h0M610 559h0M621 559h0M610 567h0M592 580h0M590 565h0M620 558h0M608 579h0M590 554h0M585 582h0M609 566h0M607 570h0M607 574h0M593 559h0M599 568h0M595 583h0M597 558h0M592 566h0M608 564h0M598 572h0M594 573h0M600 557h0M609 557h0M599 574h0M589 552h0M595 557h0M592 567h0M616 564h0M630 569h0M605 574h0M609 564h0M609 556h0M612 564h0M610 568h0M604 557h0M578 560h0M611 573h0M609 559h0M607 577h0M599 567h0M605 562h0M599 562h0M591 572h0M602 575h0M580 562h0M617 573h0M611 557h0M609 565h0M613 578h0M605 564h0M603 558h0M590 569h0M596 575h0M593 566h0M604 572h0M609 573h0M585 568h0M590 562h0M617 568h0M584 569h0M589 571h0M608 566h0M581 568h0M602 574h0M600 570h0M601 577h0M588 569h0M588 563h0M580 567h0M591 573h0M614 566h0M580 565h0M598 554h0M610 558h0M607 552h0M593 561h0M597 564h0M595 551h0M588 564h0M597 556h0M616 571h0M601 561h0M596 566h0M585 572h0M614 557h0M600 573h0M613 567h0M594 575h0M591 575h0M599 559h0M587 571h0M609 567h0M592 572h0M590 580h0M603 579h0M598 562h0M602 577h0M588 566h0M603 562h0M620 580h0M599 576h0M601 570h0M604 554h0M601 569h0M600 560h0M606 564h0M599 571h0M586 562h0M611 569h0M609 560h0M603 569h0M606 557h0M607 564h0M621 565h0M626 554h0M620 572h0M593 564h0M604 551h0M623 556h0M579 561h0M574 564h0M584 573h0M611 565h0M623 554h0M603 570h0M604 582h0M608 568h0M601 557h0M601 558h0M597 570h0M605 559h0M612 558h0M620 569h0M606 556h0M604 579h0M601 582h0M603 563h0M592 587h0M602 561h0M586 579h0M596 561h0M599 563h0M576 565h0M595 568h0M608 563h0M595 571h0M602 563h0M607 551h0M604 555h0M593 573h0M603 571h0M598 567h0M615 561h0M614 558h0M606 566h0M624 563h0M601 562h0M611 550h0M610 563h0M598 561h0M600 563h0M606 549h0M600 572h0M593 572h0M595 560h0M597 566h0M605 569h0M603 567h0M587 569h0M603 564h0M605 566h0M590 568h0M604 570h0M599 570h0M595 564h0M609 562h0M575 571h0M619 567h0M624 565h0M614 576h0M594 582h0M593 571h0M582 578h0M582 571h0M590 573h0M596 565h0M586 565h0M608 570h0M610 560h0M596 553h0M596 569h0M616 570h0M608 576h0M611 575h0M607 566h0M592 564h0M605 560h0M593 574h0M614 577h0M589 572h0M604 575h0M610 562h0M577 567h0M601 566h0M602 569h0M621 567h0M596 564h0M596 573h0M608 567h0M623 560h0M604 556h0M587 573h0M592 568h0M595 566h0M596 562h0M613 568h0M590 576h0M599 566h0M601 571h0M594 568h0M596 586h0M592 578h0M596 568h0M595 574h0M616 572h0M577 579h0M652 557h0M565 566h0M622 571h0M627 550h0M583 552h0M613 587h0M602 598h0M611 595h0M574 560h0M603 585h0M530 578h0M580 554h0M618 567h0M579 580h0M590 577h0M610 566h0M580 575h0M572 592h0M580 547h0M615 549h0M609 572h0M563 581h0M582 580h0M589 602h0M561 584h0M576 584h0M566 575h0M603 584h0M593 562h0M563 587h0M576 561h0M624 578h0M594 566h0M619 593h0M558 584h0M639 575h0M581 569h0M583 559h0M610 610h0M614 571h0M616 546h0M623 597h0M613 576h0M597 565h0M584 585h0M574 575h0M597 586h0M566 583h0M600 574h0M584 556h0M606 573h0M576 593h0M610 603h0M593 557h0M594 579h0M611 583h0M554 592h0M583 589h0M614 551h0M566 555h0M568 557h0M587 565h0M565 564h0M584 561h0M624 570h0M608 544h0M573 567h0M599 580h0M579 579h0M629 575h0M593 568h0M602 581h0M607 581h0M610 534h0M572 570h0M578 569h0M577 571h0M572 576h0M568 571h0M576 567h0M584 584h0M573 561h0M610 597h0M571 554h0M549 594h0M597 588h0M577 573h0M543 586h0M631 568h0M612 583h0M584 559h0M610 549h0M611 571h0M588 553h0M605 581h0M560 576h0M598 590h0M594 558h0M580 597h0M571 593h0M587 574h0M592 581h0M598 573h0M572 568h0M585 562h0M638 569h0M590 548h0M581 579h0M603 568h0M584 572h0M584 603h0M619 575h0M628 552h0M588 574h0M577 587h0M596 594h0M556 568h0M554 566h0M591 566h0M594 557h0M571 571h0M574 569h0M559 590h0M603 583h0M617 576h0M623 566h0M596 576h0M590 604h0M585 598h0M587 570h0M640 570h0M578 583h0M604 588h0M612 554h0M621 602h0M585 569h0M620 542h0M619 535h0M588 572h0M621 557h0M661 559h0M589 568h0M602 567h0M577 582h0M607 580h0M630 589h0M595 573h0M574 565h0M541 568h0M591 589h0M611 589h0M624 577h0M580 590h0M571 560h0M606 567h0M613 573h0M588 560h0M544 576h0M593 591h0M602 601h0M615 567h0M607 567h0M617 572h0M591 581h0M579 592h0M602 588h0M608 557h0M609 575h0M609 577h0M586 554h0M589 574h0M545 566h0M570 582h0M571 572h0M552 594h0M638 582h0M572 571h0M641 547h0M606 578h0M614 573h0M575 572h0M619 571h0M589 586h0M575 563h0M631 569h0M632 556h0M561 585h0M629 577h0M564 575h0M583 581h0M603 586h0M569 580h0M561 582h0M637 579h0M596 572h0M583 574h0M575 562h0M605 563h0M591 593h0M601 547h0M629 553h0M621 568h0M567 551h0M578 577h0M609 574h0M615 577h0M625 586h0M616 583h0M591 583h0M606 583h0M598 556h0M582 597h0M624 576h0M600 555h0M588 581h0M580 557h0M597 568h0M614 598h0M581 590h0M584 575h0M589 579h0M578 544h0M570 583h0M568 586h0M610 582h0M570 559h0M550 580h0M640 562h0M555 606h0M559 568h0M634 565h0M574 559h0M579 587h0M584 582h0M621 585h0M578 547h0M636 587h0M581 562h0M636 569h0M567 547h0M613 557h0M612 549h0M548 576h0M566 595h0M611 576h0M535 584h0M534 579h0M605 576h0M572 581h0M656 567h0M554 559h0M617 582h0M599 550h0M564 591h0M621 556h0M567 566h0M608 590h0M624 582h0M592 574h0M583 595h0M577 586h0M588 575h0M572 578h0M592 563h0M594 570h0M613 591h0M588 583h0M555 563h0M548 602h0M574 562h0M576 556h0M638 570h0M607 583h0M589 560h0M560 590h0M569 564h0M580 568h0M612 565h0M612 597h0M562 585h0M581 583h0M576 581h0M609 570h0M600 594h0M605 598h0M622 565h0M557 592h0M589 569h0M553 572h0M592 549h0M594 600h0M599 558h0M605 549h0M607 537h0M598 540h0M586 584h0M579 585h0M620 576h0M577 569h0M598 610h0M601 548h0M589 593h0M564 565h0M596 555h0M583 542h0M600 562h0M547 595h0M577 585h0M614 575h0M626 550h0M612 587h0M606 565h0M584 589h0M593 592h0M596 559h0M630 532h0M608 589h0M623 581h0M615 572h0M592 553h0M585 578h0M602 555h0M609 595h0M588 554h0M565 587h0M582 562h0M594 574h0M610 591h0M625 572h0M579 583h0M567 601h0M619 565h0M602 556h0M615 538h0M585 590h0M590 593h0M600 597h0M604 571h0M554 582h0M638 579h0M570 556h0M572 579h0M620 545h0M638 557h0M637 590h0M566 552h0M547 610h0M594 563h0M586 556h0M592 589h0M578 579h0M626 564h0M612 569h0M586 581h0M594 567h0M632 579h0M606 545h0M583 567h0M597 596h0M602 579h0M606 546h0M597 581h0M565 550h0M581 572h0M620 567h0M623 558h0M595 582h0M571 574h0M610 565h0M590 584h0M593 552h0M583 570h0M573 564h0M583 597h0M644 565h0M596 549h0M579 578h0M587 590h0M629 591h0M608 561h0M607 546h0M630 543h0M636 565h0M589 565h0M573 563h0M597 580h0M604 552h0M609 581h0M567 611h0M584 565h0M592 600h0M568 570h0M621 570h0M608 597h0M575 577h0M622 558h0M603 549h0M578 552h0M580 587h0M590 598h0M578 582h0M640 568h0M612 584h0M577 584h0M600 590h0M611 572h0M579 571h0M647 551h0M577 590h0M559 588h0M558 590h0M633 570h0M555 603h0M599 578h0M601 578h0M567 591h0M564 570h0M609 586h0M597 572h0M627 545h0M576 572h0M569 591h0M575 566h0M510 561h0M536 542h0M519 535h0M534 577h0M534 542h0M515 549h0M492 570h0M488 585h0M460 552h0M465 583h0M506 567h0M494 550h0M453 554h0M485 556h0M511 545h0M470 539h0M522 587h0M468 546h0M468 554h0M500 582h0M469 548h0M532 539h0M534 585h0M523 543h0M500 575h0M497 546h0M508 573h0M511 542h0M458 549h0M515 559h0M540 547h0M526 535h0M472 535h0M515 584h0M484 548h0M462 544h0M483 539h0M504 555h0M458 571h0M490 554h0M529 549h0M524 540h0M536 537h0M529 586h0M483 563h0M509 578h0M477 571h0M490 533h0M513 582h0M492 554h0M501 586h0M509 577h0M521 533h0M510 586h0M509 544h0M503 586h0M488 547h0M537 572h0M484 554h0M457 538h0M526 574h0M513 586h0M482 584h0M516 533h0M495 573h0M499 548h0M538 557h0M483 562h0M479 551h0M512 533h0M521 573h0M503 581h0M549 586h0M520 569h0M509 552h0M512 586h0M528 567h0M453 569h0M481 578h0M507 562h0M481 550h0M537 556h0M481 562h0M539 544h0M557 538h0M473 587h0M478 540h0M499 546h0M511 549h0M499 532h0M525 584h0M487 552h0M519 552h0M529 571h0M546 555h0M540 561h0M531 560h0M478 556h0M504 573h0M528 581h0M507 581h0M541 548h0M538 573h0M495 565h0M515 574h0M519 533h0M473 579h0M508 571h0M524 554h0M498 578h0M525 565h0M535 576h0M513 563h0M457 566h0M498 567h0M494 589h0M490 576h0M478 558h0M507 585h0M495 567h0M527 585h0M495 538h0M500 528h0M510 567h0M492 564h0M491 555h0M583 557h0M510 552h0M504 576h0M525 581h0M502 551h0M492 567h0M509 568h0M536 574h0M517 555h0M495 584h0M475 546h0M509 582h0M546 610h0M485 585h0M503 564h0M525 560h0M563 571h0M511 571h0M535 582h0M505 550h0M495 569h0M520 562h0M548 582h0M537 548h0M560 565h0M506 573h0M506 563h0M504 567h0M514 562h0M530 534h0M527 571h0M532 574h0M527 580h0M519 548h0M552 563h0M528 559h0M507 537h0M557 566h0M469 594h0M469 564h0M539 573h0M497 532h0M508 552h0M482 571h0M525 576h0M528 566h0M511 561h0M513 572h0M500 571h0M564 567h0M502 574h0M520 573h0M500 581h0M538 577h0M535 583h0M516 586h0M507 557h0M535 551h0M503 580h0M513 562h0M527 550h0M517 558h0M487 600h0M532 551h0M494 579h0M488 572h0M490 536h0M498 541h0M531 580h0M505 572h0M536 566h0M525 579h0M535 579h0M508 578h0M516 577h0M514 536h0M514 573h0M495 561h0M538 584h0M497 556h0M535 557h0M491 554h0M525 530h0M525 582h0M497 539h0M515 562h0M536 588h0M494 596h0M485 564h0M509 569h0M485 576h0M519 576h0M485 558h0M503 560h0M518 550h0M551 575h0M527 561h0M484 575h0M488 552h0M578 563h0M522 566h0M492 563h0M524 582h0M474 599h0M561 563h0M478 584h0M506 566h0M503 540h0M524 586h0M514 555h0M485 588h0M525 562h0M492 566h0M508 584h0M497 575h0M514 559h0M519 589h0M488 565h0M514 580h0M465 565h0M538 548h0M480 560h0M469 546h0M522 538h0M515 547h0M490 573h0M549 550h0M537 596h0M528 577h0M517 567h0M473 574h0M522 541h0M551 557h0M510 577h0M499 589h0M529 557h0M552 565h0M495 588h0M480 589h0M494 548h0M493 559h0M479 544h0M502 549h0M496 576h0M499 599h0M520 572h0M496 541h0M530 571h0M552 542h0M500 551h0M472 571h0M539 563h0M523 551h0M566 578h0M482 576h0M505 561h0M537 570h0M537 557h0M521 554h0M475 557h0M568 615h0M625 604h0M555 617h0M570 635h0M578 632h0M559 639h0M624 608h0M587 651h0M546 598h0M568 617h0M579 590h0M568 591h0M576 610h0M579 629h0M542 637h0M596 593h0M585 652h0M628 649h0M558 643h0M590 636h0M601 640h0M583 600h0M616 593h0M568 644h0M570 620h0M627 644h0M597 637h0M570 631h0M618 599h0M576 623h0M559 650h0M618 592h0M582 622h0M543 643h0M578 604h0M569 599h0M596 654h0M582 593h0M618 642h0M581 634h0M560 642h0M631 601h0M578 611h0M552 596h0M573 590h0M593 602h0M588 650h0M613 602h0M547 631h0M542 620h0M551 628h0M584 623h0M606 612h0M573 611h0M550 601h0M563 617h0M543 646h0M614 653h0M619 590h0M605 645h0M622 640h0M625 629h0M572 616h0M601 629h0M605 593h0M573 641h0M601 616h0M587 602h0M605 640h0M564 609h0M579 639h0M543 651h0M630 642h0M598 615h0M618 590h0M551 631h0M564 605h0M549 640h0M619 626h0M545 637h0M607 612h0M557 611h0M566 600h0M628 639h0M586 611h0M552 626h0M573 638h0M554 618h0M589 628h0M569 609h0M614 634h0M591 624h0M564 654h0M549 622h0M611 626h0M574 643h0M629 643h0M587 638h0M626 614h0M549 644h0M589 647h0M601 606h0M543 627h0M582 612h0M604 614h0M615 593h0M543 613h0M556 649h0M599 653h0M568 645h0M630 646h0M611 598h0M623 595h0M573 601h0M552 653h0M597 648h0M575 614h0M616 653h0M611 647h0M618 639h0M624 640h0M542 601h0M572 605h0M629 646h0M590 605h0M551 592h0M558 606h0M619 609h0M586 629h0M630 636h0M566 620h0M571 604h0M610 626h0M573 631h0M552 628h0M615 650h0M609 654h0M571 610h0M558 603h0M557 631h0M552 604h0M576 641h0M622 616h0M614 602h0M563 614h0M596 634h0M608 604h0M551 601h0M554 628h0M626 645h0M564 650h0M599 655h0M594 601h0M558 647h0M555 619h0M582 613h0M629 648h0M592 598h0M619 614h0M583 605h0M588 607h0M630 597h0M575 617h0M616 622h0M605 603h0M609 626h0M621 648h0M576 628h0M605 650h0M555 623h0M616 599h0M631 629h0M600 591h0M561 655h0M592 615h0M616 650h0M566 591h0M569 605h0M579 655h0M548 616h0M617 626h0M620 608h0M601 597h0M588 596h0M605 621h0M592 631h0M588 595h0M580 647h0M601 628h0M622 632h0M564 633h0M596 613h0M589 638h0M607 621h0M589 618h0M626 632h0M597 645h0M580 619h0M594 629h0M570 599h0M565 628h0M608 622h0M621 583h0M597 585h0M558 638h0M599 620h0M553 616h0M596 601h0M631 617h0M642 624h0M521 613h0M579 619h0M565 607h0M583 658h0M560 630h0M554 607h0M586 618h0M590 614h0M585 634h0M588 621h0M608 619h0M600 651h0M625 617h0M577 613h0M584 653h0M614 642h0M595 587h0M560 641h0M558 636h0M569 637h0M594 611h0M615 619h0M591 642h0M605 653h0M582 631h0M552 645h0M586 626h0M564 638h0M583 612h0M587 647h0M557 572h0M575 625h0M580 627h0M552 621h0M597 640h0M580 620h0M574 641h0M596 598h0M612 627h0M578 643h0M616 621h0M603 613h0M550 635h0M536 645h0M557 651h0M596 621h0M581 637h0M528 621h0M568 608h0M588 642h0M636 626h0M624 631h0M613 638h0M602 604h0M601 619h0M655 606h0M609 623h0M566 602h0M606 629h0M592 639h0M578 615h0M562 552h0M578 625h0M567 578h0M613 615h0M576 646h0M577 614h0M620 614h0M530 573h0M591 646h0M558 645h0M597 625h0M602 633h0M620 617h0M562 642h0M583 628h0M600 644h0M560 605h0M588 619h0M547 634h0M578 603h0M610 634h0M581 615h0M565 632h0M583 645h0M537 617h0M603 606h0M617 612h0M575 601h0M615 615h0M557 647h0M566 626h0M608 601h0M615 634h0M568 616h0M596 625h0M545 636h0M563 631h0M615 606h0M572 595h0M602 651h0M602 628h0M589 590h0M602 620h0M577 625h0M618 638h0M593 625h0M586 609h0M567 631h0M583 647h0M626 610h0M608 632h0M567 649h0M655 599h0M605 629h0M627 613h0M600 612h0M623 631h0M605 626h0M589 637h0M572 652h0M563 653h0M567 632h0M559 635h0M603 618h0M588 657h0M645 624h0M609 640h0M608 630h0M602 632h0M624 623h0M581 612h0M566 658h0M612 615h0M611 638h0M569 597h0M612 576h0M628 654h0M557 630h0M558 616h0M547 639h0M577 636h0M588 641h0M567 628h0M559 636h0M575 639h0M571 599h0M576 595h0M574 634h0M578 621h0M574 588h0M587 616h0M583 608h0M638 650h0M580 629h0M557 636h0M598 623h0M593 616h0M596 632h0M573 595h0M589 612h0M571 608h0M568 640h0M602 618h0M589 635h0M583 622h0M553 618h0M581 627h0M562 647h0M568 598h0M540 658h0M620 625h0M584 633h0M554 622h0M572 617h0M570 648h0M589 620h0M587 645h0M611 610h0M561 636h0M592 634h0M605 623h0M557 617h0M597 635h0M613 637h0M610 649h0M592 623h0M617 604h0M606 646h0M575 637h0M567 638h0M620 655h0M580 639h0M603 639h0M574 614h0M556 586h0M617 656h0M539 618h0M593 632h0M600 617h0M619 597h0M547 615h0M594 650h0M573 627h0M570 634h0M569 601h0M570 633h0M582 616h0M620 634h0M565 598h0M619 622h0M574 597h0M646 635h0M599 635h0M615 653h0M617 617h0M597 628h0M599 636h0M610 624h0M595 628h0M567 646h0M593 601h0M624 618h0M611 613h0M579 635h0M588 616h0M570 637h0M573 648h0M579 631h0M577 622h0M586 646h0M602 630h0M571 635h0M563 618h0M578 616h0M579 622h0M601 620h0M595 634h0M571 620h0M598 611h0M558 608h0M619 607h0M642 625h0M574 608h0M611 594h0M560 647h0M613 610h0M580 632h0M581 611h0M590 633h0M593 639h0M569 645h0M600 630h0M580 582h0M615 630h0M574 611h0M591 620h0M579 611h0M571 601h0M626 624h0M583 634h0M566 621h0M569 618h0M621 607h0M589 630h0M598 646h0M561 601h0M569 610h0M571 655h0M613 621h0M588 638h0M548 632h0M578 651h0M602 624h0M553 613h0M587 628h0M624 613h0M531 617h0M557 638h0M599 624h0M583 652h0M618 605h0M582 608h0M558 641h0M606 642h0M579 656h0M562 598h0M614 625h0M582 611h0M625 608h0M593 647h0M584 637h0M567 608h0M590 623h0M621 627h0M573 612h0M587 587h0M596 624h0M599 631h0M594 649h0M645 619h0M596 623h0M624 600h0M616 604h0M530 626h0M564 607h0M568 613h0M643 653h0M576 614h0M580 626h0M535 648h0M604 640h0M601 654h0M579 610h0M583 586h0M616 641h0M610 590h0M571 634h0M579 613h0M597 600h0M590 622h0M626 616h0M614 629h0M578 635h0M586 624h0M627 626h0M600 606h0M588 611h0M551 654h0M595 585h0M563 626h0M607 630h0M591 606h0M564 623h0M622 621h0M565 616h0M567 637h0M563 629h0M581 591h0M606 617h0M614 646h0M580 615h0M542 618h0M585 601h0M619 620h0M655 616h0M549 608h0M597 636h0M573 623h0M596 605h0M534 633h0M566 633h0M574 610h0M592 616h0M575 621h0M587 622h0M568 646h0M573 624h0M638 594h0M618 630h0M584 615h0M602 622h0M555 595h0M598 625h0M567 641h0M591 625h0M586 614h0M606 608h0M547 636h0M591 648h0M619 656h0M595 635h0M586 606h0M603 624h0M575 608h0M652 641h0M576 620h0M554 634h0M587 615h0M530 635h0M598 609h0M601 635h0M589 627h0M545 655h0M572 619h0M655 632h0M563 637h0M589 652h0M550 656h0M613 634h0M608 613h0M563 657h0M565 601h0M571 630h0M542 606h0M570 638h0M602 616h0M601 643h0M613 613h0M582 640h0M535 635h0M605 648h0M636 620h0M515 609h0M583 631h0M577 640h0M603 619h0M604 636h0M536 636h0M583 641h0M623 629h0M582 642h0M582 615h0M594 631h0M616 610h0M584 627h0M578 622h0M623 580h0M572 637h0M602 642h0M602 635h0M613 617h0M599 633h0M614 635h0M603 632h0M631 622h0M577 624h0M588 626h0M584 631h0M559 605h0M586 643h0M593 641h0M599 622h0M631 653h0M603 591h0M614 633h0M608 644h0M615 618h0M612 621h0M573 618h0M588 625h0M544 545h0M633 566h0M601 535h0M559 572h0M622 530h0M636 564h0M602 570h0M602 545h0M627 573h0M554 554h0M601 573h0M628 583h0M571 534h0M575 536h0M632 543h0M580 550h0M567 552h0M553 530h0M637 584h0M564 549h0M594 544h0M603 533h0M633 579h0M573 542h0M634 585h0M554 535h0M578 562h0M615 565h0M607 575h0M469 438h0" stroke="#707070" stroke-width="3.0" stroke-linecap="round" fill="none" filter="url(#sd)"/>
</g>
<rect x="447.6" y="434.8" width="243.7" height="224.7" fill="none" stroke="#1a1a1a" stroke-width="2.6"/>
<path d="M541.3 434.8V659.5M447.6 587.1H691.3" stroke="#1a1a1a" stroke-width="2.3" fill="none"/>
<path d="M447.6 659.5h-5M447.6 659.5v5M447.6 603.325h-5M508.525 659.5v5M447.6 547.15h-5M569.45 659.5v5M447.6 490.975h-5M630.375 659.5v5M447.6 434.8h-5M691.3 659.5v5" stroke="#1a1a1a" stroke-width="2" fill="none"/>
<path d="M447.6 642.59h-2.3M447.6 632.698h-2.3M447.6 625.679h-2.3M447.6 620.235h-2.3M447.6 615.787h-2.3M447.6 612.027h-2.3M447.6 608.769h-2.3M447.6 605.895h-2.3M447.6 586.415h-2.3M447.6 576.523h-2.3M447.6 569.504h-2.3M447.6 564.06h-2.3M447.6 559.612h-2.3M447.6 555.852h-2.3M447.6 552.594h-2.3M447.6 549.72h-2.3M447.6 530.24h-2.3M447.6 520.348h-2.3M447.6 513.329h-2.3M447.6 507.885h-2.3M447.6 503.437h-2.3M447.6 499.677h-2.3M447.6 496.419h-2.3M447.6 493.545h-2.3M447.6 474.065h-2.3M447.6 464.173h-2.3M447.6 457.154h-2.3M447.6 451.71h-2.3M447.6 447.262h-2.3M447.6 443.502h-2.3M447.6 440.244h-2.3M447.6 437.37h-2.3M465.94 659.5v2.3M476.669 659.5v2.3M484.281 659.5v2.3M490.185 659.5v2.3M495.009 659.5v2.3M499.088 659.5v2.3M502.621 659.5v2.3M505.737 659.5v2.3M526.865 659.5v2.3M537.594 659.5v2.3M545.206 659.5v2.3M551.11 659.5v2.3M555.934 659.5v2.3M560.013 659.5v2.3M563.546 659.5v2.3M566.662 659.5v2.3M587.79 659.5v2.3M598.519 659.5v2.3M606.131 659.5v2.3M612.035 659.5v2.3M616.859 659.5v2.3M620.938 659.5v2.3M624.471 659.5v2.3M627.587 659.5v2.3M648.715 659.5v2.3M659.444 659.5v2.3M667.056 659.5v2.3M672.96 659.5v2.3M677.784 659.5v2.3M681.863 659.5v2.3M685.396 659.5v2.3M688.512 659.5v2.3" stroke="#1a1a1a" stroke-width="1.2" fill="none" opacity="0.7"/>
<text transform="matrix(0.21,0,0,0.21,445.425,682.5)" font-family="'Liberation Sans', sans-serif" font-size="100" fill="#1a1a1a" stroke="#1a1a1a" stroke-width="5.952" stroke-linejoin="round">10<tspan font-size="50" dx="5" dy="-40">0</tspan></text>
<text transform="matrix(0,-0.21,0.21,0,438,660.675)" font-family="'Liberation Sans', sans-serif" font-size="100" fill="#1a1a1a" stroke="#1a1a1a" stroke-width="5.952" stroke-linejoin="round">10<tspan font-size="52" dx="4" dy="-40">0</tspan></text>
<text transform="matrix(0.21,0,0,0.21,506.35,682.5)" font-family="'Liberation Sans', sans-serif" font-size="100" fill="#1a1a1a" stroke="#1a1a1a" stroke-width="5.952" stroke-linejoin="round">10<tspan font-size="50" dx="5" dy="-40">1</tspan></text>
<text transform="matrix(0,-0.21,0.21,0,438,604.5)" font-family="'Liberation Sans', sans-serif" font-size="100" fill="#1a1a1a" stroke="#1a1a1a" stroke-width="5.952" stroke-linejoin="round">10<tspan font-size="52" dx="4" dy="-40">1</tspan></text>
<text transform="matrix(0.21,0,0,0.21,567.275,682.5)" font-family="'Liberation Sans', sans-serif" font-size="100" fill="#1a1a1a" stroke="#1a1a1a" stroke-width="5.952" stroke-linejoin="round">10<tspan font-size="50" dx="5" dy="-40">2</tspan></text>
<text transform="matrix(0,-0.21,0.21,0,438,548.325)" font-family="'Liberation Sans', sans-serif" font-size="100" fill="#1a1a1a" stroke="#1a1a1a" stroke-width="5.952" stroke-linejoin="round">10<tspan font-size="52" dx="4" dy="-40">2</tspan></text>
<text transform="matrix(0.21,0,0,0.21,628.2,682.5)" font-family="'Liberation Sans', sans-serif" font-size="100" fill="#1a1a1a" stroke="#1a1a1a" stroke-width="5.952" stroke-linejoin="round">10<tspan font-size="50" dx="5" dy="-40">3</tspan></text>
<text transform="matrix(0,-0.21,0.21,0,438,492.15)" font-family="'Liberation Sans', sans-serif" font-size="100" fill="#1a1a1a" stroke="#1a1a1a" stroke-width="5.952" stroke-linejoin="round">10<tspan font-size="52" dx="4" dy="-40">3</tspan></text>
<text transform="matrix(0.21,0,0,0.21,689.125,682.5)" font-family="'Liberation Sans', sans-serif" font-size="100" fill="#1a1a1a" stroke="#1a1a1a" stroke-width="5.952" stroke-linejoin="round">10<tspan font-size="50" dx="5" dy="-40">4</tspan></text>
<text transform="matrix(0,-0.21,0.21,0,438,435.975)" font-family="'Liberation Sans', sans-serif" font-size="100" fill="#1a1a1a" stroke="#1a1a1a" stroke-width="5.952" stroke-linejoin="round">10<tspan font-size="52" dx="4" dy="-40">4</tspan></text>
<text transform="matrix(0.216,0,0,0.209,518.235,706.1)" font-family="'Liberation Sans', sans-serif" font-size="100" fill="#1a1a1a" stroke="#1a1a1a" stroke-width="5.878" stroke-linejoin="round">cd3-pecy5</text>
<text transform="matrix(0,-0.212,0.184,0,406.6,581.953)" font-family="'Liberation Sans', sans-serif" font-size="100" fill="#1a1a1a" stroke="#1a1a1a" stroke-width="6.32" stroke-linejoin="round">cd8-fitc</text>
<text transform="matrix(0.232,0,0,0.23,536.491,420.98)" font-family="'Liberation Serif', serif" font-size="100" fill="#111" stroke="#111" stroke-width="4.545" stroke-linejoin="round">sPD-1</text>
<text transform="matrix(0.226,0,0,0.269,612.842,466.58)" font-family="'Liberation Serif', serif" font-size="100" fill="#222" stroke="#222" stroke-width="4.246" stroke-linejoin="round">10.99%</text>
</g>
<clipPath id="c4"><rect x="0" y="0" width="1046.2" height="1242"/></clipPath>
<g clip-path="url(#c4)">
<clipPath id="f4"><rect x="782.5" y="434.8" width="244.1" height="224.7"/></clipPath><g clip-path="url(#f4)">
<ellipse cx="842" cy="617" rx="36" ry="18" transform="rotate(-15 842 617)" fill="#6c6c6c" opacity="1" filter="url(#bl)"/>
<ellipse cx="886" cy="597" rx="14" ry="8" transform="rotate(-35 886 597)" fill="#6c6c6c" opacity="1" filter="url(#bl)"/>
<ellipse cx="913" cy="564" rx="9" ry="5.5" transform="rotate(-20 913 564)" fill="#6c6c6c" opacity="0.8" filter="url(#bl)"/>
<path d="M846 621h0M835 623h0M866 615h0M876 596h0M843 607h0M826 619h0M850 620h0M862 639h0M858 592h0M847 608h0M837 634h0M833 595h0M850 611h0M815 612h0M830 619h0M835 619h0M882 596h0M825 618h0M866 601h0M872 592h0M821 622h0M823 614h0M856 622h0M846 612h0M875 613h0M843 631h0M824 623h0M859 612h0M832 623h0M830 612h0M825 637h0M835 633h0M852 611h0M860 615h0M843 599h0M848 626h0M858 625h0M878 612h0M883 587h0M831 588h0M863 612h0M880 602h0M803 643h0M810 609h0M842 624h0M833 621h0M808 647h0M843 618h0M858 614h0M846 604h0M843 622h0M867 608h0M847 619h0M857 615h0M837 612h0M870 613h0M855 656h0M866 621h0M844 603h0M869 608h0M848 628h0M867 613h0M851 640h0M854 601h0M861 613h0M847 624h0M855 638h0M849 618h0M868 603h0M866 609h0M868 599h0M848 595h0M834 619h0M861 636h0M881 590h0M831 635h0M850 598h0M851 600h0M821 607h0M845 644h0M852 613h0M898 596h0M840 614h0M852 610h0M875 604h0M822 610h0M836 590h0M845 617h0M847 614h0M851 610h0M853 593h0M861 600h0M853 608h0M832 609h0M870 595h0M818 626h0M850 615h0M821 614h0M861 599h0M860 621h0M843 601h0M887 606h0M847 611h0M822 619h0M846 605h0M850 629h0M853 612h0M870 620h0M862 601h0M806 636h0M844 611h0M836 641h0M811 635h0M872 630h0M851 620h0M824 622h0M796 622h0M843 615h0M837 632h0M809 627h0M851 638h0M825 638h0M875 606h0M827 605h0M831 645h0M798 634h0M835 642h0M847 599h0M844 604h0M836 612h0M856 616h0M860 605h0M824 616h0M836 614h0M806 643h0M862 628h0M838 627h0M849 615h0M882 599h0M851 593h0M856 611h0M820 615h0M794 616h0M840 585h0M871 621h0M823 603h0M809 610h0M834 646h0M821 631h0M869 598h0M840 625h0M833 634h0M891 603h0M828 628h0M849 605h0M841 618h0M859 626h0M829 604h0M814 647h0M833 614h0M902 614h0M893 601h0M827 614h0M860 617h0M860 640h0M871 595h0M856 620h0M835 647h0M869 628h0M829 606h0M860 609h0M831 618h0M849 616h0M841 623h0M912 612h0M839 643h0M828 601h0M807 601h0M866 596h0M810 618h0M835 603h0M831 619h0M855 601h0M857 616h0M854 606h0M821 634h0M855 605h0M828 629h0M890 608h0M901 605h0M853 620h0M863 592h0M851 630h0M810 628h0M866 631h0M879 606h0M887 591h0M817 640h0M855 599h0M871 620h0M859 606h0M810 604h0M839 615h0M831 613h0M861 597h0M834 644h0M828 612h0M862 589h0M876 591h0M821 606h0M820 613h0M864 610h0M877 617h0M816 624h0M829 615h0M848 620h0M847 589h0M839 612h0M884 602h0M843 616h0M858 598h0M841 615h0M843 613h0M832 620h0M819 643h0M838 595h0M840 629h0M797 646h0M839 593h0M838 636h0M848 596h0M832 622h0M891 606h0M859 608h0M842 604h0M810 608h0M835 634h0M847 630h0M862 613h0M839 644h0M873 624h0M904 619h0M850 619h0M863 639h0M815 601h0M833 619h0M834 630h0M857 612h0M852 638h0M894 624h0M840 633h0M812 602h0M885 616h0M864 629h0M882 609h0M852 621h0M864 613h0M822 653h0M826 614h0M864 641h0M875 602h0M851 613h0M870 598h0M818 602h0M857 618h0M863 622h0M816 619h0M824 637h0M859 594h0M857 614h0M849 624h0M830 616h0M825 636h0M857 610h0M815 652h0M846 618h0M864 632h0M831 590h0M838 618h0M836 637h0M836 623h0M829 630h0M832 630h0M848 617h0M847 596h0M835 621h0M840 632h0M862 602h0M870 606h0M861 627h0M817 613h0M843 614h0M809 634h0M849 617h0M854 623h0M827 625h0M834 613h0M829 635h0M788 622h0M833 632h0M823 618h0M852 608h0M833 620h0M863 600h0M856 612h0M833 603h0M885 612h0M849 611h0M878 599h0M844 620h0M801 631h0M854 627h0M842 635h0M887 598h0M842 629h0M871 609h0M865 591h0M867 616h0M866 616h0M858 607h0M869 584h0M848 607h0M884 591h0M847 615h0M862 611h0M820 621h0M873 618h0M825 606h0M816 623h0M840 613h0M834 621h0M877 620h0M837 628h0M843 633h0M870 621h0M897 615h0M869 627h0M821 619h0M840 628h0M842 601h0M827 618h0M812 626h0M815 619h0M875 603h0M828 590h0M826 624h0M840 627h0M841 627h0M841 628h0M832 610h0M866 593h0M829 641h0M850 614h0M889 605h0M876 608h0M828 617h0M854 646h0M832 625h0M812 632h0M843 621h0M845 610h0M846 616h0M868 609h0M838 602h0M864 609h0M828 636h0M865 610h0M842 600h0M792 632h0M813 632h0M837 621h0M834 624h0M864 621h0M836 597h0M857 605h0M816 601h0M809 642h0M888 621h0M884 582h0M857 595h0M814 632h0M862 600h0M803 608h0M842 627h0M890 609h0M818 610h0M847 623h0M800 631h0M832 629h0M810 637h0M880 624h0M879 608h0M843 602h0M841 607h0M846 635h0M812 617h0M881 603h0M851 582h0M875 599h0M832 631h0M840 595h0M871 597h0M834 610h0M832 614h0M834 612h0M900 604h0M885 611h0M844 609h0M856 591h0M827 616h0M852 615h0M832 612h0M845 611h0M846 607h0M870 610h0M830 633h0M811 616h0M860 606h0M835 614h0M845 621h0M855 604h0M827 596h0M848 629h0M838 621h0M859 598h0M869 592h0M832 596h0M834 606h0M858 587h0M855 617h0M859 624h0M859 601h0M831 612h0M867 611h0M799 618h0M839 645h0M846 587h0M876 603h0M825 631h0M823 608h0M867 634h0M835 617h0M842 621h0M835 620h0M857 594h0M865 631h0M846 615h0M822 632h0M861 624h0M838 610h0M899 596h0M868 628h0M842 619h0M858 632h0M855 619h0M829 631h0M851 602h0M827 645h0M825 602h0M849 601h0M845 622h0M819 605h0M818 623h0M827 632h0M862 624h0M857 624h0M855 623h0M826 612h0M833 610h0M844 629h0M841 614h0M854 608h0M846 613h0M827 621h0M845 595h0M850 617h0M838 605h0M832 628h0M828 633h0M836 622h0M843 597h0M864 605h0M823 639h0M866 624h0M805 624h0M876 614h0M834 609h0M833 584h0M867 610h0M848 613h0M861 621h0M852 593h0M795 620h0M858 589h0M836 599h0M855 610h0M864 612h0M846 628h0M874 614h0M829 624h0M870 619h0M883 620h0M843 643h0M862 620h0M845 601h0M803 635h0M871 629h0M826 620h0M835 626h0M825 611h0M812 623h0M862 596h0M839 635h0M820 597h0M826 631h0M842 605h0M834 634h0M818 640h0M837 625h0M818 612h0M897 600h0M824 628h0M826 609h0M823 615h0M869 589h0M855 607h0M857 609h0M867 618h0M855 621h0M833 615h0M829 627h0M852 612h0M819 622h0M857 622h0M833 628h0M816 618h0M821 625h0M822 613h0M870 622h0M811 638h0M866 622h0M839 634h0M853 597h0M795 617h0M865 651h0M816 630h0M852 636h0M866 625h0M878 596h0M847 612h0M825 620h0M840 609h0M849 619h0M836 595h0M895 631h0M872 616h0M833 609h0M826 610h0M877 628h0M793 612h0M839 614h0M913 599h0M819 604h0M853 604h0M831 602h0M871 614h0M823 629h0M802 619h0M816 625h0M810 623h0M823 616h0M840 641h0M826 636h0M844 652h0M852 627h0M818 642h0M840 608h0M851 635h0M831 622h0M874 621h0M818 604h0M868 616h0M865 623h0M848 624h0M831 617h0M846 608h0M845 636h0M845 626h0M846 600h0M855 590h0M827 629h0M808 643h0M813 609h0M797 631h0M851 622h0M856 626h0M790 645h0M804 628h0M855 639h0M823 610h0M813 621h0M823 632h0M837 607h0M841 594h0M852 614h0M833 622h0M844 610h0M850 591h0M858 631h0M863 589h0M835 622h0M848 608h0M881 623h0M848 625h0M819 635h0M853 624h0M861 615h0M839 600h0M802 612h0M859 611h0M878 602h0M814 598h0M854 598h0M848 597h0M854 600h0M840 623h0M830 614h0M829 632h0M850 623h0M864 616h0M850 606h0M844 623h0M812 612h0M865 632h0M855 613h0M879 619h0M878 617h0M851 624h0M880 620h0M814 645h0M830 605h0M817 627h0M789 615h0M849 622h0M878 607h0M860 612h0M847 606h0M821 613h0M848 619h0M878 615h0M808 616h0M859 623h0M841 599h0M813 627h0M848 590h0M834 618h0M831 607h0M837 610h0M829 628h0M836 586h0M844 622h0M818 641h0M834 631h0M864 601h0M794 644h0M833 593h0M859 579h0M823 602h0M810 625h0M891 592h0M821 623h0M806 645h0M819 603h0M838 613h0M825 625h0M876 604h0M863 601h0M835 607h0M812 634h0M859 630h0M875 574h0M883 605h0M860 601h0M876 625h0M876 618h0M839 639h0M824 610h0M826 622h0M872 608h0M854 612h0M858 613h0M825 654h0M865 621h0M854 605h0M842 625h0M873 614h0M829 617h0M818 617h0M836 609h0M857 638h0M831 633h0M823 635h0M868 606h0M812 630h0M823 622h0M885 608h0M801 626h0M824 643h0M844 612h0M816 606h0M838 607h0M837 624h0M865 600h0M846 601h0M799 640h0M876 599h0M811 604h0M847 597h0M842 597h0M844 591h0M824 619h0M850 608h0M858 628h0M807 629h0M896 605h0M866 612h0M790 629h0M850 621h0M872 588h0M817 623h0M860 602h0M822 626h0M847 625h0M839 621h0M808 631h0M819 642h0M862 608h0M868 631h0M858 608h0M869 617h0M822 616h0M837 599h0M806 615h0M854 619h0M843 624h0M875 593h0M860 604h0M869 586h0M843 592h0M842 615h0M838 626h0M815 621h0M814 617h0M873 613h0M833 611h0M872 618h0M845 623h0M850 631h0M823 624h0M825 613h0M824 618h0M861 623h0M846 639h0M869 623h0M825 621h0M817 626h0M870 602h0M838 616h0M815 623h0M875 601h0M825 587h0M855 611h0M864 602h0M840 616h0M882 615h0M808 652h0M869 604h0M816 614h0M803 621h0M826 627h0M860 627h0M866 608h0M861 611h0M838 623h0M860 622h0M844 598h0M846 620h0M863 616h0M873 620h0M846 619h0M846 611h0M843 612h0M858 602h0M838 625h0M825 617h0M848 635h0M856 593h0M866 605h0M837 616h0M845 603h0M853 628h0M853 625h0M831 630h0M838 624h0M825 633h0M861 618h0M831 631h0M857 602h0M844 605h0M853 614h0M866 614h0M853 629h0M838 604h0M839 607h0M820 642h0M887 614h0M882 622h0M832 618h0M844 628h0M809 612h0M851 607h0M808 615h0M850 609h0M848 647h0M806 607h0M849 625h0M835 618h0M810 632h0M810 642h0M837 601h0M860 624h0M850 602h0M859 628h0M867 602h0M846 644h0M842 613h0M843 632h0M808 600h0M834 617h0M838 614h0M820 623h0M877 612h0M880 604h0M822 609h0M807 632h0M811 607h0M826 634h0M887 632h0M848 615h0M807 604h0M837 603h0M841 620h0M857 635h0M828 611h0M841 597h0M876 610h0M871 611h0M879 596h0M864 628h0M844 613h0M846 631h0M800 634h0M869 630h0M837 596h0M831 634h0M857 621h0M847 610h0M851 597h0M882 624h0M822 607h0M884 616h0M834 607h0M880 616h0M857 634h0M824 615h0M828 624h0M798 627h0M823 617h0M815 593h0M859 627h0M832 604h0M854 616h0M838 632h0M849 631h0M812 629h0M823 638h0M834 616h0M875 612h0M812 618h0M853 605h0M877 593h0M861 608h0M882 614h0M834 600h0M838 612h0M838 609h0M811 625h0M834 628h0M856 597h0M844 608h0M834 635h0M847 598h0M830 629h0M865 619h0M823 646h0M853 610h0M882 591h0M832 613h0M832 621h0M868 626h0M840 607h0M834 636h0M855 585h0M809 618h0M891 594h0M836 630h0M844 601h0M890 617h0M854 610h0M900 601h0M832 627h0M874 599h0M828 640h0M825 627h0M862 603h0M827 634h0M832 605h0M908 616h0M842 620h0M850 627h0M854 615h0M821 621h0M863 614h0M857 637h0M882 594h0M853 631h0M859 640h0M854 630h0M835 615h0M831 605h0M855 632h0M865 617h0M839 611h0M819 634h0M852 624h0M800 625h0M834 620h0M861 603h0M843 617h0M842 623h0M830 626h0M850 613h0M843 619h0M831 627h0M840 624h0M833 641h0M828 616h0M848 614h0M793 628h0M834 615h0M866 611h0M845 602h0M869 609h0M840 622h0M823 626h0M834 603h0M859 602h0M841 606h0M813 628h0M830 618h0M901 578h0M829 611h0M838 606h0M817 618h0M864 596h0M834 590h0M849 609h0M870 590h0M853 623h0M842 591h0M881 614h0M853 638h0M842 607h0M837 595h0M847 642h0M837 615h0M859 629h0M799 642h0M818 628h0M832 644h0M815 604h0M846 626h0M830 632h0M859 597h0M836 610h0M855 598h0M857 623h0M824 606h0M849 623h0M842 611h0M883 601h0M831 600h0M850 601h0M887 588h0M829 601h0M858 615h0M805 619h0M891 609h0M849 613h0M833 600h0M839 633h0M861 604h0M830 606h0M803 607h0M841 624h0M833 618h0M857 625h0M857 606h0M813 615h0M818 593h0M829 619h0M841 610h0M838 619h0M803 611h0M897 616h0M839 627h0M863 613h0M835 604h0M856 645h0M864 599h0M879 616h0M818 609h0M828 608h0M818 614h0M863 604h0M853 613h0M818 624h0M802 614h0M873 581h0M878 623h0M820 635h0M846 610h0M891 612h0M802 623h0M837 600h0M844 615h0M864 618h0M824 629h0M842 626h0M835 631h0M856 609h0M849 596h0M819 630h0M816 603h0M872 614h0M855 606h0M820 604h0M831 614h0M844 614h0M809 639h0M834 611h0M862 609h0M822 623h0M817 617h0M857 619h0M818 613h0M824 608h0M841 633h0M844 637h0M867 597h0M872 617h0M863 588h0M872 615h0M849 630h0M810 639h0M856 618h0M831 597h0M839 653h0M816 608h0M880 611h0M863 611h0M851 614h0M830 617h0M840 618h0M827 619h0M818 607h0M817 611h0M869 607h0M841 621h0M860 611h0M829 610h0M864 615h0M837 617h0M810 614h0M851 615h0M841 595h0M854 621h0M848 633h0M852 639h0M843 606h0M803 619h0M846 624h0M858 585h0M872 619h0M814 636h0M839 631h0M885 590h0M869 619h0M839 622h0M816 602h0M864 606h0M860 593h0M824 614h0M867 612h0M862 610h0M849 588h0M800 626h0M809 615h0M853 616h0M840 620h0M879 595h0M895 594h0M823 621h0M842 630h0M833 637h0M852 642h0M812 613h0M829 639h0M867 622h0M817 610h0M822 631h0M873 621h0M825 632h0M829 621h0M853 598h0M839 618h0M881 617h0M829 623h0M835 624h0M865 607h0M840 612h0M836 620h0M805 616h0M843 600h0M876 613h0M841 600h0M831 640h0M819 621h0M829 605h0M845 586h0M838 586h0M846 623h0M855 618h0M842 616h0M867 620h0M864 604h0M851 619h0M855 620h0M880 612h0M838 601h0M830 627h0M830 609h0M891 599h0M825 598h0M831 611h0M822 617h0M853 619h0M861 601h0M796 635h0M866 600h0M834 602h0M831 620h0M855 592h0M853 621h0M851 616h0M812 627h0M870 612h0M856 617h0M848 599h0M846 630h0M853 600h0M855 624h0M879 594h0M820 612h0M876 623h0M852 635h0M803 625h0M831 629h0M851 631h0M867 637h0M881 615h0M822 614h0M865 590h0M854 625h0M852 618h0M872 595h0M814 618h0M875 592h0M879 607h0M874 627h0M887 624h0M845 604h0M827 630h0M849 598h0M803 631h0M860 599h0M879 630h0M860 643h0M799 619h0M820 607h0M808 637h0M907 607h0M836 633h0M847 618h0M869 615h0M853 596h0M890 619h0M885 605h0M854 603h0M850 612h0M842 603h0M855 597h0M874 640h0M800 636h0M862 594h0M833 607h0M859 609h0M848 618h0M836 621h0M837 619h0M823 613h0M879 599h0M848 611h0M861 628h0M875 620h0M841 637h0M838 631h0M817 632h0M899 627h0M870 624h0M831 608h0M839 623h0M830 624h0M839 620h0M812 622h0M856 601h0M833 639h0M895 620h0M846 599h0M858 597h0M826 611h0M885 610h0M883 593h0M854 594h0M863 595h0M807 630h0M884 597h0M810 607h0M853 622h0M810 629h0M852 628h0M856 621h0M823 612h0M845 624h0M895 618h0M876 611h0M815 642h0M886 609h0M836 632h0M850 616h0M885 599h0M891 598h0M850 641h0M801 632h0M866 617h0M846 602h0M836 628h0M857 613h0M818 605h0M868 611h0M850 581h0M803 627h0M862 627h0M882 592h0M836 619h0M823 636h0M837 614h0M803 632h0M865 636h0M850 595h0M862 604h0M868 630h0M838 620h0M900 589h0M844 626h0M841 609h0M829 613h0M843 629h0M823 627h0M805 632h0M878 611h0M854 590h0M818 597h0M861 593h0M890 606h0M825 604h0M827 620h0M870 614h0M819 629h0M820 631h0M847 605h0M849 626h0M815 628h0M848 612h0M888 579h0M900 633h0M828 623h0M833 625h0M841 608h0M870 588h0M839 616h0M845 609h0M839 638h0M832 624h0M867 585h0M821 632h0M863 617h0M875 616h0M869 599h0M831 609h0M822 635h0M859 637h0M863 628h0M825 642h0M827 610h0M840 606h0M851 625h0M873 623h0M827 622h0M871 590h0M863 621h0M846 593h0M862 618h0M856 607h0M836 626h0M832 636h0M848 600h0M859 646h0M860 600h0M813 634h0M851 626h0M859 610h0M820 638h0M884 617h0M869 600h0M851 605h0M838 617h0M806 616h0M820 610h0M827 615h0M856 619h0M863 630h0M856 604h0M865 618h0M878 609h0M842 646h0M830 650h0M826 633h0M840 619h0M857 620h0M832 645h0M823 606h0M816 621h0M849 610h0M831 632h0M836 596h0M883 595h0M845 629h0M843 608h0M885 591h0M897 599h0M885 592h0M890 610h0M879 598h0M892 586h0M909 592h0M891 602h0M899 583h0M902 602h0M889 590h0M888 601h0M884 594h0M891 589h0M881 602h0M879 580h0M884 611h0M905 579h0M906 601h0M884 596h0M892 601h0M900 587h0M894 599h0M900 598h0M889 604h0M885 589h0M877 601h0M897 597h0M877 604h0M882 603h0M875 584h0M888 599h0M879 600h0M896 583h0M889 591h0M888 595h0M886 597h0M889 597h0M874 587h0M890 605h0M896 592h0M892 595h0M893 590h0M891 601h0M886 608h0M893 593h0M881 593h0M883 588h0M887 594h0M886 582h0M882 593h0M890 597h0M897 593h0M881 605h0M899 597h0M892 590h0M867 606h0M894 601h0M898 590h0M897 579h0M901 586h0M894 602h0M887 599h0M899 579h0M863 615h0M899 594h0M904 599h0M879 589h0M902 584h0M879 615h0M886 593h0M890 591h0M886 592h0M911 574h0M892 588h0M877 600h0M884 600h0M905 595h0M896 581h0M880 599h0M889 599h0M876 597h0M883 586h0M896 595h0M890 586h0M876 601h0M873 591h0M891 591h0M882 608h0M892 599h0M895 590h0M888 597h0M876 602h0M880 603h0M887 584h0M906 578h0M892 594h0M887 601h0M891 595h0M873 602h0M878 598h0M897 582h0M883 602h0M888 605h0M898 589h0M889 582h0M880 592h0M887 600h0M894 596h0M905 589h0M881 599h0M899 601h0M907 597h0M886 584h0M894 604h0M879 592h0M893 602h0M878 595h0M896 602h0M880 590h0M877 590h0M880 614h0M886 606h0M868 598h0M896 591h0M901 599h0M897 594h0M888 602h0M899 610h0M887 603h0M897 580h0M892 598h0M875 598h0M874 606h0M886 603h0M884 601h0M879 603h0M873 608h0M880 588h0M878 594h0M885 596h0M878 608h0M904 594h0M886 605h0M902 586h0M889 600h0M889 580h0M896 589h0M889 595h0M872 600h0M878 592h0M874 607h0M901 581h0M907 580h0M894 584h0M880 598h0M874 596h0M889 606h0M902 580h0M894 595h0M890 590h0M882 604h0M882 605h0M884 612h0M879 591h0M880 593h0M895 602h0M894 590h0M900 568h0M901 582h0M892 591h0M891 587h0M877 598h0M877 602h0M891 583h0M885 598h0M885 601h0M898 592h0M905 598h0M881 601h0M891 578h0M886 578h0M886 600h0M890 599h0M896 575h0M884 605h0M892 604h0M886 595h0M885 584h0M887 595h0M890 596h0M892 611h0M910 586h0M888 591h0M890 604h0M906 600h0M877 605h0M867 605h0M903 603h0M892 589h0M895 585h0M889 593h0M870 597h0M891 597h0M904 581h0M895 617h0M889 596h0M894 585h0M889 592h0M883 580h0M897 591h0M877 595h0M887 585h0M900 599h0M906 596h0M890 595h0M882 595h0M889 601h0M892 597h0M887 586h0M883 607h0M893 596h0M887 604h0M890 583h0M893 599h0M896 594h0M898 588h0M879 611h0M903 586h0M891 596h0M901 584h0M873 600h0M880 585h0M886 598h0M896 598h0M874 600h0M899 607h0M895 587h0M882 601h0M889 589h0M873 601h0M893 606h0M876 616h0M885 594h0M901 598h0M869 596h0M876 615h0M871 591h0M904 590h0M869 616h0M885 593h0M891 586h0M892 602h0M901 589h0M884 579h0M881 611h0M888 593h0M884 589h0M916 594h0M905 593h0M900 597h0M884 604h0M896 599h0M892 606h0M889 594h0M878 587h0M881 595h0M891 604h0M891 613h0M906 593h0M896 600h0M902 596h0M877 613h0M881 598h0M888 610h0M895 598h0M904 575h0M898 601h0M885 614h0M868 604h0M882 587h0M877 603h0M901 597h0M878 600h0M892 592h0M898 597h0M912 590h0M878 593h0M882 588h0M889 587h0M886 596h0M888 590h0M889 586h0M882 607h0M892 580h0M877 596h0M899 605h0M895 562h0M895 593h0M904 601h0M892 583h0M878 591h0M897 598h0M887 589h0M881 596h0M881 586h0M900 590h0M896 587h0M884 606h0M886 586h0M901 593h0M897 595h0M896 606h0M899 592h0M888 596h0M894 587h0M900 585h0M897 605h0M894 616h0M872 582h0M902 581h0M884 608h0M897 609h0M804 632h0M861 620h0M835 651h0M828 615h0M792 645h0M813 611h0M821 609h0M846 648h0M792 640h0M813 610h0M794 641h0M790 612h0M799 596h0M874 589h0M812 590h0M878 618h0M849 591h0M829 634h0M797 613h0M870 642h0M874 605h0M835 592h0M831 610h0M788 636h0M882 646h0M797 589h0M797 655h0M798 615h0M878 610h0M852 592h0M791 648h0M879 622h0M836 594h0M815 633h0M797 640h0M856 641h0M799 611h0M856 624h0M829 607h0M795 604h0M815 620h0M870 640h0M852 634h0M848 630h0M793 621h0M807 616h0M855 615h0M838 622h0M833 644h0M818 636h0M861 619h0M863 636h0M863 606h0M810 633h0M865 606h0M796 655h0M791 638h0M799 649h0M824 602h0M876 589h0M801 637h0M827 592h0M863 610h0M788 605h0M814 626h0M821 610h0M822 656h0M872 637h0M827 643h0M819 655h0M873 634h0M806 637h0M829 633h0M872 635h0M833 649h0M822 612h0M795 614h0M828 603h0M801 604h0M865 649h0M855 608h0M832 597h0M879 618h0M785 621h0M844 655h0M843 635h0M815 639h0M879 621h0M789 612h0M785 627h0M795 590h0M862 619h0M805 595h0M821 657h0M805 627h0M871 652h0M810 631h0M796 639h0M820 624h0M822 634h0M870 630h0M785 640h0M795 648h0M828 605h0M863 629h0M836 603h0M850 649h0M808 604h0M866 607h0M822 657h0M817 608h0M874 602h0M837 640h0M875 648h0M872 612h0M864 655h0M816 639h0M804 608h0M843 627h0M814 654h0M811 609h0M801 647h0M848 652h0M853 652h0M814 638h0M790 600h0M858 627h0M838 646h0M866 626h0M830 623h0M863 594h0M807 595h0M818 619h0M824 644h0M812 624h0M862 592h0M823 653h0M815 627h0M871 655h0M810 600h0M798 590h0M791 616h0M835 636h0M803 648h0M867 631h0M853 607h0M846 633h0M815 647h0M789 655h0M819 625h0M801 595h0M865 599h0M862 622h0M872 657h0M881 641h0M818 651h0M813 594h0M866 653h0M864 651h0M814 623h0M795 632h0M861 591h0M881 619h0M799 635h0M877 647h0M823 592h0M817 649h0M846 649h0M860 597h0M865 655h0M811 606h0M869 636h0M871 643h0M831 646h0M881 656h0M785 641h0M825 610h0M845 612h0M855 633h0M798 653h0M878 621h0M828 641h0M867 651h0M881 628h0M850 653h0M789 590h0M874 620h0M809 631h0M841 639h0M796 599h0M881 600h0M842 589h0M813 649h0M862 649h0M860 639h0M867 629h0M809 652h0M786 622h0M824 617h0M790 642h0M848 623h0M878 652h0M859 593h0M818 631h0M822 630h0M805 648h0M826 600h0M856 658h0M842 622h0M860 616h0M881 648h0M818 621h0M784 628h0M787 595h0M818 652h0M869 621h0M870 603h0M788 637h0M827 638h0M827 657h0M788 643h0M820 625h0M828 655h0M787 604h0M869 635h0M848 653h0M786 593h0M793 639h0M784 624h0M868 632h0M837 605h0M785 645h0M792 656h0M816 631h0M814 637h0M819 620h0M801 642h0M881 616h0M853 590h0M800 608h0M844 640h0M872 599h0M795 649h0M803 633h0M817 643h0M862 633h0M832 608h0M834 597h0M874 617h0M868 624h0M818 608h0M840 610h0M838 645h0M878 650h0M800 652h0M824 605h0M865 640h0M871 622h0M866 620h0M857 647h0M874 648h0M809 596h0M816 647h0M797 637h0M805 650h0M854 604h0M787 651h0M876 617h0M843 596h0M833 596h0M868 638h0M813 597h0M799 606h0M823 642h0M845 645h0M859 658h0M858 649h0M878 644h0M880 597h0M793 593h0M820 629h0M802 590h0M844 633h0M797 596h0M868 642h0M827 642h0M835 591h0M811 600h0M841 641h0M873 646h0M860 645h0M845 650h0M788 594h0M795 589h0M791 635h0M855 629h0M881 654h0M841 649h0M822 598h0M793 606h0M829 612h0M874 657h0M804 610h0M829 653h0M874 598h0M860 614h0M797 615h0M881 612h0M837 653h0M794 617h0M785 632h0M825 622h0M784 606h0M826 607h0M792 647h0M842 638h0M866 651h0M787 636h0M802 642h0M815 625h0M815 614h0M819 617h0M789 617h0M879 633h0M812 607h0M836 627h0M868 619h0M842 632h0M794 624h0M822 602h0M840 653h0M792 655h0M830 601h0M798 619h0M855 637h0M793 611h0M841 650h0M804 657h0M793 643h0M805 654h0M865 644h0M812 600h0M847 653h0M867 615h0M871 596h0M875 611h0M878 597h0M827 649h0M823 644h0M830 645h0M823 645h0M786 646h0M878 648h0M870 611h0M820 654h0M841 622h0M785 607h0M795 616h0M795 627h0M815 638h0M870 627h0M851 617h0M821 642h0M806 590h0M851 589h0M881 644h0M860 610h0M787 600h0M837 623h0M871 656h0M820 634h0M849 648h0M820 616h0M851 651h0M830 642h0M797 594h0M844 607h0M806 594h0M831 591h0M839 605h0M819 596h0M807 645h0M786 612h0M880 606h0M821 594h0M880 634h0M876 609h0M800 651h0M871 601h0M794 599h0M814 629h0M786 597h0M807 658h0M810 590h0M842 645h0M804 598h0M822 621h0M871 624h0M802 638h0M877 635h0M859 600h0M811 648h0M789 656h0M879 654h0M879 648h0M847 604h0M855 649h0M861 594h0M810 641h0M831 656h0M854 639h0M844 599h0M841 647h0M879 657h0M820 603h0M811 653h0M822 591h0M791 601h0M866 591h0M850 625h0M787 616h0M870 639h0M808 592h0M822 650h0M844 643h0M821 598h0M829 656h0M791 645h0M810 626h0M841 602h0M864 646h0M870 615h0M862 657h0M800 653h0M871 598h0M865 622h0M852 643h0M836 601h0M800 602h0M836 606h0M788 647h0M879 652h0M812 640h0M817 656h0M848 657h0M875 590h0M794 640h0M856 651h0M882 653h0M825 596h0M787 593h0M822 637h0M795 609h0M877 638h0M809 630h0M875 633h0M868 629h0M784 602h0M820 647h0M798 606h0M862 590h0M798 639h0M877 630h0M811 621h0M786 609h0M786 602h0M802 626h0M811 593h0M820 619h0M809 623h0M805 614h0M848 616h0M865 601h0M874 631h0M870 650h0M854 592h0M867 596h0M838 633h0M803 638h0M863 652h0M819 640h0M857 633h0M870 596h0M860 631h0M792 623h0M793 602h0M846 617h0M842 643h0M881 647h0M854 648h0M866 618h0M789 649h0M802 601h0M819 626h0M798 654h0M865 603h0M856 653h0M858 599h0M862 655h0M835 597h0M870 616h0M840 626h0M871 612h0M839 601h0M796 630h0M864 622h0M826 617h0M867 639h0M845 594h0M816 599h0M806 599h0M794 654h0M870 618h0M842 606h0M819 619h0M840 597h0M868 658h0M808 653h0M867 655h0M844 593h0M851 633h0M797 639h0M793 640h0M818 622h0M832 593h0M800 647h0M843 650h0M811 610h0M862 597h0M804 592h0M795 624h0M848 601h0M874 615h0M816 657h0M831 638h0M831 615h0M810 620h0M822 624h0M829 595h0M876 631h0M801 652h0M836 653h0M876 654h0M809 637h0M869 620h0M817 631h0M827 594h0M855 652h0M847 650h0M826 656h0M809 621h0M867 638h0M843 655h0M858 595h0M852 596h0M814 606h0M812 656h0M795 644h0M861 589h0M811 592h0M855 625h0M799 598h0M845 633h0M872 638h0M793 652h0M865 611h0M790 617h0M808 614h0M794 601h0M873 645h0M863 649h0M830 593h0M830 635h0M840 611h0M835 641h0M848 631h0M827 609h0M849 632h0M787 654h0M803 613h0M789 645h0M837 613h0M818 603h0M815 599h0M844 645h0M789 650h0M804 597h0M867 624h0M869 651h0M796 648h0M873 647h0M834 608h0M836 640h0M853 648h0M810 619h0M812 648h0M863 607h0M797 621h0M831 628h0M881 655h0M803 623h0M828 607h0M816 641h0M858 612h0M808 619h0M869 643h0M830 599h0M874 624h0M803 622h0M880 607h0M787 631h0M805 603h0M881 621h0M828 594h0M861 616h0M881 646h0M868 608h0M825 652h0M844 646h0M819 645h0M854 614h0M845 657h0M792 622h0M802 647h0M785 596h0M869 645h0M874 611h0M870 635h0M873 622h0M815 637h0M869 639h0M845 647h0M862 638h0M854 647h0M799 628h0M788 640h0M882 631h0M800 607h0M807 596h0M785 629h0M811 630h0M880 605h0M835 589h0M820 643h0M825 609h0M807 634h0M845 642h0M861 626h0M825 595h0M849 595h0M875 597h0M808 649h0M802 629h0M875 650h0M805 643h0M856 599h0M822 651h0M824 591h0M817 624h0M810 591h0M827 658h0M873 650h0M866 637h0M812 635h0M865 630h0M837 651h0M802 595h0M828 635h0M832 611h0M865 596h0M802 656h0M867 648h0M786 600h0M845 638h0M796 657h0M809 649h0M784 656h0M807 638h0M876 646h0M879 601h0M803 594h0M877 632h0M870 657h0M809 632h0M786 625h0M831 596h0M839 610h0M848 591h0M871 637h0M840 655h0M819 618h0M851 649h0M823 619h0M816 593h0M814 590h0M834 637h0M835 599h0M786 637h0M825 591h0M842 640h0M825 645h0M876 624h0M808 622h0M842 649h0M864 617h0M875 638h0M828 598h0M835 657h0M847 657h0M851 592h0M880 641h0M853 650h0M784 631h0M879 628h0M796 646h0M881 604h0M815 654h0M833 627h0M868 627h0M846 657h0M838 599h0M812 621h0M794 611h0M828 631h0M856 648h0M819 609h0M828 656h0M848 638h0M784 611h0M860 608h0M837 620h0M850 593h0M856 643h0M872 643h0M799 646h0M849 599h0M804 601h0M820 627h0M835 590h0M805 645h0M873 655h0M842 593h0M799 657h0M791 647h0M790 631h0M857 600h0M789 652h0M808 603h0M812 638h0M853 601h0M829 636h0M858 643h0M913 561h0M919 560h0M903 557h0M924 571h0M910 575h0M922 562h0M913 564h0M924 570h0M908 556h0M912 570h0M915 558h0M920 567h0M928 561h0M907 572h0M913 572h0M910 556h0M906 561h0M916 561h0M914 567h0M916 565h0M920 558h0M921 561h0M906 567h0M924 565h0M920 565h0M912 561h0M913 559h0M913 562h0M898 567h0M915 561h0M908 564h0M915 569h0M924 569h0M930 560h0M907 570h0M905 564h0M925 559h0M906 569h0M898 563h0M903 571h0M910 558h0M920 561h0M917 567h0M908 570h0M920 553h0M905 573h0M908 563h0M915 560h0M900 564h0M922 566h0M904 565h0M900 565h0M920 568h0M911 570h0M908 562h0M908 565h0M911 573h0M918 569h0M927 566h0M912 562h0M915 564h0M931 570h0M919 569h0M916 550h0M909 572h0M921 559h0M917 557h0M914 562h0M911 563h0M929 561h0M916 567h0M918 574h0M922 560h0M911 565h0M920 562h0M906 568h0M908 577h0M919 577h0M908 576h0M903 564h0M888 561h0M922 565h0M910 554h0M920 555h0M910 563h0M914 568h0M929 562h0M912 564h0M919 567h0M914 565h0M909 571h0M918 558h0M912 572h0M908 572h0M914 569h0M910 573h0M930 552h0M917 556h0M907 565h0M910 571h0M915 568h0M907 559h0M890 574h0M916 563h0M919 561h0M909 561h0M911 562h0M917 551h0M905 563h0M919 571h0M917 573h0M915 566h0M917 571h0M916 566h0M913 563h0M924 564h0M912 575h0M928 560h0M919 566h0M912 563h0M914 557h0M914 560h0M925 556h0M905 565h0M921 566h0M921 565h0M916 569h0M914 572h0M906 573h0M918 572h0M924 562h0M918 567h0M920 556h0M908 567h0M906 556h0M917 555h0M910 561h0M920 563h0M907 562h0M913 556h0M912 554h0M901 563h0M914 566h0M907 567h0M911 564h0M922 563h0M918 568h0M917 565h0M909 555h0M909 560h0M916 570h0M923 558h0M923 574h0M911 567h0M913 571h0M896 571h0M899 564h0M914 559h0M912 566h0M931 551h0M904 569h0M920 559h0M930 563h0M926 557h0M911 568h0M910 568h0M902 562h0M917 566h0M918 560h0M897 563h0M925 567h0M918 561h0M903 566h0M918 571h0M903 575h0M909 556h0M912 567h0M908 554h0M898 577h0M901 560h0M912 565h0M894 574h0M906 558h0M905 559h0M909 566h0M909 550h0M906 560h0M921 567h0M921 564h0M925 563h0M916 564h0M900 561h0M918 563h0M919 570h0M923 559h0M917 562h0M923 560h0M906 572h0M918 565h0M929 563h0M915 573h0M917 558h0M924 567h0M910 559h0M905 572h0M916 559h0M922 564h0M921 556h0M948 556h0M940 554h0M951 567h0M941 576h0M961 564h0M954 571h0M948 558h0M935 567h0M949 561h0M941 560h0M945 561h0M937 573h0M934 566h0M939 572h0M938 567h0M947 562h0M937 566h0M942 563h0M938 568h0M947 558h0M956 568h0M947 571h0M946 569h0M942 564h0M938 555h0M942 558h0M935 566h0M943 574h0M938 572h0M946 576h0M938 579h0M963 568h0M951 563h0M939 558h0M929 568h0M947 559h0M942 560h0M933 564h0M938 565h0M936 563h0M942 568h0M939 561h0M936 584h0M944 561h0M938 562h0M938 564h0M956 569h0M939 575h0M948 566h0M945 566h0M938 561h0M954 569h0M951 565h0M963 556h0M927 569h0M924 579h0M944 568h0M942 570h0M944 567h0M942 554h0M947 564h0M948 561h0M949 562h0M939 563h0M949 564h0M957 572h0M944 558h0M936 564h0M956 557h0M949 558h0M954 584h0M941 564h0M922 576h0M954 566h0M955 563h0M940 557h0M941 557h0M934 567h0M946 564h0M958 568h0M947 577h0M927 565h0M951 578h0M930 565h0M948 568h0M941 572h0M957 575h0M931 559h0M948 564h0M939 578h0M954 576h0M954 561h0M962 567h0M944 557h0M945 557h0M935 562h0M941 575h0M949 555h0M947 565h0M945 570h0M946 573h0M952 569h0M955 568h0M941 567h0M945 567h0M952 568h0M944 575h0M955 569h0M934 568h0M952 566h0M937 579h0M955 564h0M934 564h0M949 556h0M931 558h0M953 573h0M932 564h0M951 576h0M945 558h0M950 571h0M932 567h0M959 560h0M960 562h0M947 581h0M942 577h0M957 567h0M943 567h0M946 570h0M947 574h0M940 568h0M946 559h0M938 566h0M959 557h0M943 573h0M931 567h0M945 551h0M933 563h0M933 558h0M938 557h0M936 581h0M940 577h0M953 554h0M960 568h0M945 560h0M969 564h0M949 583h0M943 562h0M943 561h0M936 567h0M940 562h0M937 571h0M934 565h0M932 574h0M935 571h0M947 563h0M932 566h0M934 575h0M939 568h0M944 569h0M940 571h0M935 564h0M954 570h0M930 566h0M956 575h0M942 569h0M938 576h0M939 571h0M954 567h0M955 573h0M934 574h0M936 566h0M955 575h0M949 565h0M939 560h0M953 547h0M944 564h0M933 562h0M947 567h0M952 563h0M948 560h0M942 557h0M930 562h0M940 569h0M936 574h0M926 570h0M935 574h0M939 567h0M941 569h0M958 573h0M948 562h0M921 572h0M947 572h0M954 550h0M937 560h0M943 572h0M952 564h0M965 577h0M967 566h0M958 569h0M938 570h0M934 563h0M953 560h0M946 571h0M929 544h0M920 574h0M927 590h0M884 561h0M951 551h0M963 553h0M962 578h0M928 579h0M928 576h0M954 608h0M936 579h0M932 562h0M907 585h0M927 587h0M913 573h0M900 588h0M944 593h0M914 573h0M936 557h0M934 561h0M896 584h0M939 577h0M930 558h0M965 586h0M939 570h0M910 584h0M940 604h0M953 567h0M953 587h0M925 531h0M916 583h0M932 578h0M967 571h0M970 584h0M879 568h0M933 554h0M909 568h0M952 582h0M929 585h0M865 539h0M941 585h0M894 575h0M911 592h0M951 574h0M891 569h0M928 606h0M949 566h0M982 574h0M930 555h0M889 567h0M912 543h0M919 563h0M945 583h0M923 537h0M925 601h0M915 588h0M960 581h0M924 557h0M903 582h0M943 583h0M941 556h0M935 573h0M921 593h0M933 556h0M923 552h0M916 558h0M891 571h0M879 561h0M923 596h0M936 562h0M946 574h0M930 571h0M925 576h0M935 584h0M918 594h0M896 559h0M916 578h0M937 559h0M934 603h0M919 579h0M940 573h0M964 556h0M986 570h0M903 584h0M926 590h0M967 573h0M971 580h0M937 553h0M943 576h0M949 601h0M955 591h0M910 572h0M948 583h0M962 591h0M947 586h0M922 554h0M945 579h0M959 556h0M920 609h0M915 546h0M917 586h0M961 602h0M878 568h0M941 580h0M910 564h0M923 583h0M924 576h0M956 588h0M907 553h0M938 585h0M923 586h0M956 567h0M897 575h0M946 566h0M933 561h0M910 574h0M952 599h0M926 588h0M908 574h0M939 559h0M939 590h0M949 576h0M878 576h0M943 548h0M950 570h0M929 560h0M970 579h0M963 569h0M952 570h0M925 564h0M919 583h0M905 562h0M896 572h0M927 557h0M948 570h0M956 573h0M933 590h0M909 578h0M909 575h0M986 583h0M924 582h0M943 580h0M899 584h0M899 567h0M959 581h0M936 551h0M897 565h0M924 560h0M937 596h0M920 587h0M937 567h0M924 580h0M953 572h0M940 561h0M923 585h0M925 571h0M925 555h0M913 539h0M885 580h0M910 583h0M934 576h0M953 590h0M978 566h0M948 567h0M920 572h0M960 577h0M908 571h0M957 550h0M915 579h0M989 579h0M959 559h0M963 571h0M942 575h0M928 578h0M936 565h0M947 589h0M910 589h0M945 565h0M925 581h0M921 580h0M948 555h0M946 522h0M988 560h0M940 583h0M912 589h0M932 577h0M980 570h0M881 572h0M962 570h0M934 581h0M921 587h0M917 577h0M909 541h0M946 584h0M907 581h0M941 561h0M959 570h0M967 596h0M960 591h0M934 543h0M958 576h0M924 561h0M863 570h0M911 582h0M909 552h0M911 578h0M942 579h0M892 577h0M958 571h0M913 546h0M949 553h0M907 530h0M981 545h0M889 549h0M956 550h0M960 593h0M899 571h0M922 569h0M934 572h0M914 558h0M940 566h0M954 578h0M927 598h0M944 565h0M932 560h0M926 572h0M930 570h0M939 587h0M943 582h0M965 589h0M929 572h0M903 592h0M920 582h0M903 578h0M912 551h0M939 579h0M927 581h0M939 566h0M929 573h0M936 600h0M883 548h0M917 532h0M915 539h0M916 606h0M928 572h0M933 588h0M899 574h0M900 556h0M931 560h0M973 562h0M957 577h0M969 581h0M908 535h0M950 549h0M958 561h0M900 566h0M948 577h0M906 586h0M935 572h0M908 551h0M939 557h0M942 586h0M956 561h0M936 580h0M870 557h0M930 575h0M932 581h0M907 593h0M944 586h0M972 554h0M953 582h0M915 575h0M917 582h0M928 593h0M933 576h0M899 575h0M964 579h0M930 607h0M914 564h0M903 588h0M916 582h0M951 548h0M948 588h0M954 555h0M924 586h0M955 561h0M941 586h0M921 570h0M910 579h0M949 544h0M922 567h0M964 574h0M923 538h0M941 577h0M914 580h0M965 567h0M911 595h0M942 576h0M932 565h0M908 568h0M919 593h0M907 534h0M965 555h0M931 581h0M940 578h0M903 613h0M948 591h0M904 595h0M957 582h0M933 583h0M905 569h0M935 588h0M939 608h0M958 534h0M907 582h0M958 599h0M937 582h0M948 580h0M938 589h0M968 569h0M908 578h0M953 556h0M935 589h0M936 590h0M919 573h0M974 582h0M928 568h0M974 577h0M962 558h0M926 565h0M945 572h0M917 560h0M894 576h0M914 593h0M936 591h0M933 549h0M932 557h0M975 577h0M955 582h0M907 584h0M930 573h0M929 579h0M931 561h0M931 575h0M937 574h0M933 599h0M903 563h0M883 572h0M922 578h0M985 557h0M941 568h0M900 553h0M964 568h0M958 581h0M930 572h0M919 587h0M919 559h0M912 593h0M900 586h0M914 584h0M916 574h0M942 584h0M940 563h0M934 539h0M938 581h0M980 580h0M916 580h0M968 585h0M919 562h0M961 559h0M955 558h0M952 559h0M945 606h0M906 579h0M913 575h0M913 549h0M902 547h0M941 565h0M896 555h0M934 583h0M967 581h0M941 579h0M957 590h0M953 569h0M945 573h0M889 585h0M898 579h0M890 580h0M909 573h0M931 565h0M954 553h0M970 582h0M955 559h0M938 549h0M928 614h0M960 578h0M936 571h0M965 583h0M946 579h0M929 591h0M890 575h0M855 567h0M904 588h0M902 578h0M938 573h0M944 583h0M947 580h0M941 543h0M971 584h0M953 578h0M938 584h0M942 556h0M882 573h0M909 574h0M926 547h0M932 556h0M901 587h0M927 588h0M942 537h0M947 606h0M956 608h0M912 592h0M948 573h0M969 557h0M920 575h0M993 576h0M925 584h0M927 591h0M912 534h0M893 581h0M954 581h0M908 584h0M922 561h0M920 573h0M911 558h0M838 544h0M856 552h0M850 558h0M852 551h0M852 570h0M863 568h0M829 561h0M876 558h0M858 584h0M834 569h0M855 580h0M854 568h0M856 533h0M867 568h0M864 568h0M857 552h0M838 573h0M885 557h0M864 541h0M849 526h0M840 561h0M859 549h0M853 581h0M861 553h0M842 559h0M869 568h0M830 559h0M881 530h0M873 554h0M870 569h0M862 562h0M837 578h0M844 568h0M846 578h0M832 583h0M859 567h0M841 566h0M828 548h0M857 548h0M859 584h0M850 524h0M872 561h0M835 559h0M851 578h0M851 548h0M825 566h0M858 551h0M895 536h0M839 549h0M847 560h0M816 564h0M831 553h0M864 553h0M869 564h0M850 560h0M837 546h0M835 540h0M848 544h0M825 520h0M848 557h0M870 530h0M870 547h0M852 554h0M846 573h0M831 530h0M826 541h0M862 535h0M847 569h0M868 552h0M852 583h0M875 588h0M832 563h0M854 557h0M831 552h0M864 546h0M849 551h0M844 533h0M873 556h0M845 561h0M840 540h0M857 563h0M863 552h0M847 551h0M850 567h0M874 574h0M848 582h0M860 571h0M860 565h0M849 550h0M853 546h0M829 554h0M874 556h0M856 565h0M836 572h0M841 557h0M858 565h0M838 566h0M869 557h0M865 547h0M870 561h0M854 571h0M853 571h0M843 577h0M825 593h0M834 586h0M838 571h0M854 535h0M824 574h0M862 567h0M852 577h0M878 539h0M833 561h0M822 555h0M862 565h0M857 549h0M869 560h0M847 553h0M865 573h0M868 559h0M869 556h0M869 554h0M861 569h0M873 550h0M840 547h0M873 530h0M832 562h0M850 565h0M840 568h0M850 533h0M875 553h0M858 552h0M842 555h0M840 590h0M860 542h0M871 535h0M847 581h0M865 562h0M840 565h0M835 575h0M859 552h0M852 587h0M833 553h0M838 574h0M848 530h0M879 585h0M830 549h0M857 562h0M845 545h0M835 574h0M844 586h0M850 569h0M826 577h0M861 572h0M858 578h0M827 548h0M859 570h0M857 571h0M841 528h0M846 556h0M857 546h0M871 582h0M899 532h0M835 563h0M869 534h0M866 561h0M841 585h0M837 554h0M846 540h0M857 567h0M843 550h0M828 573h0M827 546h0M853 537h0M885 562h0M835 586h0M815 545h0M862 584h0M850 523h0M848 573h0M841 547h0M857 573h0M852 565h0M867 559h0M861 568h0M862 552h0M878 556h0M829 545h0M864 558h0M870 573h0M826 582h0M829 541h0M846 549h0M862 566h0M863 545h0M867 549h0M861 557h0M858 554h0M863 569h0M846 557h0M848 562h0M860 554h0M828 562h0M846 535h0M845 568h0M820 560h0M849 569h0M864 560h0M847 575h0M809 554h0M860 536h0M840 550h0M833 574h0M834 581h0M842 548h0M838 552h0M846 560h0M839 543h0M847 533h0M895 557h0M846 575h0M850 561h0M858 556h0M851 562h0M850 576h0M853 563h0M845 576h0M876 594h0M849 568h0M811 580h0M866 569h0M841 568h0M848 587h0M853 576h0M868 556h0M847 555h0M861 567h0M856 560h0M854 566h0M818 538h0M844 574h0M854 576h0M870 559h0M854 524h0M822 543h0M860 572h0M851 555h0M844 565h0M829 582h0M851 550h0M850 574h0M840 570h0M905 613h0M973 632h0M908 649h0M891 605h0M931 642h0M939 598h0M972 592h0M975 649h0M911 620h0M960 614h0M931 615h0M922 631h0M955 607h0M881 633h0M916 624h0M952 642h0M939 629h0M967 601h0M896 654h0M964 607h0M883 596h0M952 632h0M889 617h0M931 592h0M939 622h0M934 595h0M944 615h0M953 589h0M896 622h0M906 612h0M968 611h0M957 601h0M963 606h0M940 599h0M933 643h0M959 604h0M973 599h0M919 618h0M976 621h0M971 639h0M972 623h0M920 654h0M966 598h0M913 589h0M909 620h0M907 652h0M934 649h0M957 622h0M944 608h0M898 591h0M937 613h0M912 601h0M935 596h0M966 605h0M916 613h0M964 618h0M948 607h0M925 628h0M963 649h0M945 607h0M935 597h0M956 601h0M892 621h0M949 602h0M894 653h0M938 618h0M950 648h0M932 621h0M912 649h0M885 627h0M935 591h0M948 638h0M922 640h0M896 608h0M888 603h0M926 628h0M963 609h0M891 617h0M924 608h0M938 631h0M893 653h0M913 614h0M926 639h0M945 618h0M970 608h0M934 636h0M947 650h0M968 631h0M891 636h0M889 622h0M964 653h0M955 639h0M942 654h0M910 595h0M903 612h0M911 603h0M948 597h0M910 611h0M909 607h0M929 626h0M942 627h0M918 601h0M935 624h0M972 643h0M920 614h0M928 647h0M920 629h0M941 603h0M892 605h0M929 647h0M952 627h0M915 608h0M934 618h0M913 625h0M933 637h0M946 593h0M891 626h0M913 598h0M959 606h0M948 595h0M898 611h0M921 645h0M977 637h0M938 644h0M915 638h0M923 597h0M927 602h0M926 620h0M949 622h0M930 633h0M896 630h0M905 605h0M973 653h0M969 596h0M914 652h0M975 614h0M901 646h0M935 635h0M893 636h0M954 600h0M910 637h0M938 637h0M970 630h0M883 610h0M896 643h0M941 615h0M910 642h0M902 629h0M938 619h0M964 655h0M953 600h0M934 598h0M938 620h0M939 655h0M920 591h0M941 614h0M932 590h0M937 652h0M931 591h0M943 643h0M887 642h0M967 616h0M903 627h0M942 618h0M950 652h0M943 631h0M925 606h0M902 635h0M937 653h0M910 628h0M916 601h0M885 642h0M970 605h0M957 616h0M976 638h0M900 632h0M962 650h0M921 653h0M898 648h0M967 595h0M976 645h0M893 629h0M953 642h0M949 641h0M880 639h0M927 628h0M931 649h0M883 616h0M974 612h0M903 610h0M943 632h0M945 596h0M933 596h0M905 641h0M962 636h0M917 597h0M960 637h0M903 642h0M918 607h0M953 601h0M903 628h0M929 621h0M973 655h0M895 612h0M923 637h0M881 640h0M933 623h0M907 626h0M952 608h0M972 596h0M917 644h0M942 633h0M887 612h0M929 645h0M942 628h0M947 617h0M973 596h0M968 558h0M934 608h0M940 618h0M927 596h0M921 626h0M914 655h0M929 627h0M907 620h0M945 617h0M935 603h0M969 623h0M917 605h0M929 628h0M945 639h0M958 602h0M895 636h0M929 620h0M930 617h0M887 619h0M936 632h0M953 614h0M930 657h0M860 633h0M909 602h0M936 598h0M949 613h0M951 625h0M891 639h0M886 628h0M952 650h0M940 651h0M922 626h0M992 639h0M940 655h0M960 607h0M865 645h0M946 621h0M969 590h0M973 629h0M925 641h0M907 653h0M926 601h0M915 629h0M909 612h0M907 634h0M922 628h0M910 615h0M939 641h0M932 615h0M967 629h0M937 618h0M923 628h0M897 634h0M923 646h0M988 622h0M921 607h0M921 625h0M905 618h0M910 603h0M956 624h0M917 621h0M925 636h0M910 614h0M954 648h0M918 615h0M923 588h0M887 634h0M988 612h0M923 647h0M934 653h0M933 629h0M915 639h0M918 600h0M916 645h0M913 604h0M928 583h0M925 604h0M987 633h0M953 615h0M878 631h0M903 620h0M896 617h0M908 614h0M939 612h0M901 627h0M908 629h0M921 638h0M892 603h0M926 642h0M973 649h0M893 640h0M933 592h0M925 638h0M952 619h0M927 625h0M937 610h0M934 642h0M904 625h0M885 602h0M942 634h0M936 641h0M911 649h0M912 643h0M934 626h0M926 595h0M956 594h0M902 654h0M926 640h0M944 601h0M919 615h0M906 641h0M924 631h0M940 613h0M897 628h0M888 643h0M932 631h0M949 632h0M920 616h0M989 643h0M948 629h0M947 619h0M915 654h0M937 649h0M914 633h0M924 624h0M954 614h0M885 657h0M923 620h0M896 604h0M911 579h0M900 637h0M907 604h0M934 622h0M935 606h0M953 595h0M986 587h0M928 617h0M894 613h0M942 621h0M941 638h0M919 558h0M937 625h0M886 637h0M931 651h0M898 641h0M887 640h0M949 640h0M932 603h0M967 620h0M918 605h0M937 607h0M906 648h0M924 620h0M899 630h0M932 645h0M955 594h0M935 605h0M946 624h0M919 625h0M942 653h0M978 627h0M938 613h0M923 622h0M936 617h0M940 600h0M918 653h0M942 655h0M922 637h0M905 630h0M931 609h0M893 616h0M954 601h0M951 604h0M930 616h0M927 607h0M928 621h0M949 607h0M917 617h0M922 620h0M904 628h0M922 612h0M906 617h0M933 622h0M898 613h0M901 620h0M861 635h0M984 610h0M948 599h0M917 619h0M883 656h0M937 616h0M884 645h0M915 598h0M955 622h0M968 598h0M997 591h0M905 631h0M918 626h0M914 643h0M960 641h0M974 611h0M908 623h0M962 631h0M894 608h0M933 656h0M928 610h0M896 624h0M926 625h0M918 644h0M929 648h0M919 595h0M952 631h0M885 609h0M909 591h0M928 651h0M926 585h0M876 627h0M939 652h0M945 635h0M882 641h0M917 655h0M943 642h0M903 631h0M926 618h0M953 627h0M913 627h0M948 617h0M930 636h0M928 641h0M959 613h0M926 635h0M899 638h0M952 615h0M893 650h0M910 599h0M937 621h0M914 645h0M914 628h0M941 628h0M901 623h0M928 619h0M912 615h0M904 608h0M873 640h0M946 603h0M962 625h0M910 594h0M935 631h0M961 637h0M890 602h0M922 609h0M875 614h0M956 649h0M970 620h0M915 633h0M938 616h0M920 620h0M934 648h0M918 641h0M931 652h0M903 616h0M927 608h0M921 598h0M941 637h0M925 650h0M936 623h0M951 634h0M910 629h0M943 591h0M888 639h0M974 602h0M934 633h0M944 639h0M929 613h0M937 628h0M929 631h0M920 650h0M930 631h0M948 609h0M969 630h0M962 593h0M909 622h0M933 630h0M908 644h0M963 639h0M936 637h0M933 606h0M967 606h0M926 626h0M929 614h0M946 628h0M898 615h0M934 631h0M950 622h0M871 632h0M920 622h0M928 635h0M945 619h0M927 604h0M995 605h0M932 614h0M921 632h0M973 630h0M914 627h0M899 619h0M920 627h0M947 610h0M927 639h0M947 624h0M930 584h0M961 605h0M968 638h0M911 627h0M895 615h0M942 619h0M924 605h0M905 611h0M931 637h0M957 603h0M921 627h0M900 625h0M920 608h0M916 637h0M940 627h0M898 620h0M967 592h0M865 641h0M966 596h0M946 620h0M962 627h0M940 645h0M953 626h0M958 605h0M897 617h0M930 593h0M896 637h0M947 613h0M904 640h0M899 608h0M929 639h0M906 618h0M935 610h0M930 628h0M963 617h0M889 625h0M906 624h0M958 583h0M904 583h0M958 652h0M919 626h0M939 625h0M914 647h0M963 614h0M940 623h0M917 642h0M896 655h0M928 633h0M934 641h0M843 636h0M896 633h0M928 618h0M944 603h0M913 630h0M950 590h0M937 606h0M926 634h0M987 622h0M925 596h0M935 626h0M944 612h0M920 605h0M918 616h0M938 622h0M939 616h0M963 610h0M918 618h0M903 608h0M915 641h0M950 615h0M960 635h0M997 628h0M965 639h0M932 654h0M932 634h0M942 606h0M916 607h0M900 614h0M980 648h0M946 627h0M967 611h0M935 623h0M954 603h0M900 642h0M933 645h0M920 643h0M942 626h0M890 626h0M902 601h0M918 613h0M945 629h0M905 624h0M911 648h0M939 618h0M910 633h0M936 619h0M951 635h0M901 634h0M970 641h0M972 635h0M928 645h0M936 606h0M922 644h0M953 643h0M939 582h0M912 585h0M941 640h0M921 602h0M950 623h0M914 610h0M957 639h0M929 583h0M938 603h0M973 627h0M947 611h0M940 644h0M935 644h0M903 643h0M913 635h0M932 633h0M946 588h0M945 621h0M919 623h0M992 633h0M915 613h0M966 611h0M973 625h0M897 643h0M964 627h0M949 612h0M895 614h0M942 613h0M947 645h0M932 613h0M922 645h0M971 622h0M926 629h0M889 629h0M911 640h0M909 651h0M921 623h0M933 601h0M931 578h0M907 632h0M913 617h0M933 591h0M889 636h0M919 632h0M901 600h0M910 630h0M957 623h0M913 638h0M923 616h0M924 628h0M980 534h0M909 534h0M879 574h0M979 526h0M937 539h0M882 558h0M934 538h0M905 583h0M885 551h0M960 573h0M880 582h0M941 539h0M905 526h0M878 526h0M969 575h0M914 526h0M965 547h0M909 546h0M960 566h0M963 565h0M949 554h0M980 552h0M976 551h0M934 585h0M922 555h0M980 572h0" stroke="#707070" stroke-width="3.0" stroke-linecap="round" fill="none" filter="url(#sd)"/>
</g>
<rect x="782.5" y="434.8" width="244.1" height="224.7" fill="none" stroke="#1a1a1a" stroke-width="2.6"/>
<path d="M876.2 434.8V659.5M782.5 587.1H1026.6" stroke="#1a1a1a" stroke-width="2.3" fill="none"/>
<path d="M782.5 659.5h-5M782.5 659.5v5M782.5 603.325h-5M843.525 659.5v5M782.5 547.15h-5M904.55 659.5v5M782.5 490.975h-5M965.575 659.5v5M782.5 434.8h-5M1026.6 659.5v5" stroke="#1a1a1a" stroke-width="2" fill="none"/>
<path d="M782.5 642.59h-2.3M782.5 632.698h-2.3M782.5 625.679h-2.3M782.5 620.235h-2.3M782.5 615.787h-2.3M782.5 612.027h-2.3M782.5 608.769h-2.3M782.5 605.895h-2.3M782.5 586.415h-2.3M782.5 576.523h-2.3M782.5 569.504h-2.3M782.5 564.06h-2.3M782.5 559.612h-2.3M782.5 555.852h-2.3M782.5 552.594h-2.3M782.5 549.72h-2.3M782.5 530.24h-2.3M782.5 520.348h-2.3M782.5 513.329h-2.3M782.5 507.885h-2.3M782.5 503.437h-2.3M782.5 499.677h-2.3M782.5 496.419h-2.3M782.5 493.545h-2.3M782.5 474.065h-2.3M782.5 464.173h-2.3M782.5 457.154h-2.3M782.5 451.71h-2.3M782.5 447.262h-2.3M782.5 443.502h-2.3M782.5 440.244h-2.3M782.5 437.37h-2.3M800.87 659.5v2.3M811.616 659.5v2.3M819.241 659.5v2.3M825.155 659.5v2.3M829.987 659.5v2.3M834.072 659.5v2.3M837.611 659.5v2.3M840.733 659.5v2.3M861.895 659.5v2.3M872.641 659.5v2.3M880.266 659.5v2.3M886.18 659.5v2.3M891.012 659.5v2.3M895.097 659.5v2.3M898.636 659.5v2.3M901.758 659.5v2.3M922.92 659.5v2.3M933.666 659.5v2.3M941.291 659.5v2.3M947.205 659.5v2.3M952.037 659.5v2.3M956.122 659.5v2.3M959.661 659.5v2.3M962.783 659.5v2.3M983.945 659.5v2.3M994.691 659.5v2.3M1002.316 659.5v2.3M1008.23 659.5v2.3M1013.062 659.5v2.3M1017.147 659.5v2.3M1020.686 659.5v2.3M1023.808 659.5v2.3" stroke="#1a1a1a" stroke-width="1.2" fill="none" opacity="0.7"/>
<text transform="matrix(0.21,0,0,0.21,780.325,682.5)" font-family="'Liberation Sans', sans-serif" font-size="100" fill="#1a1a1a" stroke="#1a1a1a" stroke-width="5.952" stroke-linejoin="round">10<tspan font-size="50" dx="5" dy="-40">0</tspan></text>
<text transform="matrix(0,-0.21,0.21,0,772.9,660.675)" font-family="'Liberation Sans', sans-serif" font-size="100" fill="#1a1a1a" stroke="#1a1a1a" stroke-width="5.952" stroke-linejoin="round">10<tspan font-size="52" dx="4" dy="-40">0</tspan></text>
<text transform="matrix(0.21,0,0,0.21,841.35,682.5)" font-family="'Liberation Sans', sans-serif" font-size="100" fill="#1a1a1a" stroke="#1a1a1a" stroke-width="5.952" stroke-linejoin="round">10<tspan font-size="50" dx="5" dy="-40">1</tspan></text>
<text transform="matrix(0,-0.21,0.21,0,772.9,604.5)" font-family="'Liberation Sans', sans-serif" font-size="100" fill="#1a1a1a" stroke="#1a1a1a" stroke-width="5.952" stroke-linejoin="round">10<tspan font-size="52" dx="4" dy="-40">1</tspan></text>
<text transform="matrix(0.21,0,0,0.21,902.375,682.5)" font-family="'Liberation Sans', sans-serif" font-size="100" fill="#1a1a1a" stroke="#1a1a1a" stroke-width="5.952" stroke-linejoin="round">10<tspan font-size="50" dx="5" dy="-40">2</tspan></text>
<text transform="matrix(0,-0.21,0.21,0,772.9,548.325)" font-family="'Liberation Sans', sans-serif" font-size="100" fill="#1a1a1a" stroke="#1a1a1a" stroke-width="5.952" stroke-linejoin="round">10<tspan font-size="52" dx="4" dy="-40">2</tspan></text>
<text transform="matrix(0.21,0,0,0.21,963.4,682.5)" font-family="'Liberation Sans', sans-serif" font-size="100" fill="#1a1a1a" stroke="#1a1a1a" stroke-width="5.952" stroke-linejoin="round">10<tspan font-size="50" dx="5" dy="-40">3</tspan></text>
<text transform="matrix(0,-0.21,0.21,0,772.9,492.15)" font-family="'Liberation Sans', sans-serif" font-size="100" fill="#1a1a1a" stroke="#1a1a1a" stroke-width="5.952" stroke-linejoin="round">10<tspan font-size="52" dx="4" dy="-40">3</tspan></text>
<text transform="matrix(0.21,0,0,0.21,1024.425,682.5)" font-family="'Liberation Sans', sans-serif" font-size="100" fill="#1a1a1a" stroke="#1a1a1a" stroke-width="5.952" stroke-linejoin="round">10<tspan font-size="50" dx="5" dy="-40">4</tspan></text>
<text transform="matrix(0,-0.21,0.21,0,772.9,435.975)" font-family="'Liberation Sans', sans-serif" font-size="100" fill="#1a1a1a" stroke="#1a1a1a" stroke-width="5.952" stroke-linejoin="round">10<tspan font-size="52" dx="4" dy="-40">4</tspan></text>
<text transform="matrix(0.216,0,0,0.209,853.335,706.1)" font-family="'Liberation Sans', sans-serif" font-size="100" fill="#1a1a1a" stroke="#1a1a1a" stroke-width="5.878" stroke-linejoin="round">cd3-pecy5</text>
<text transform="matrix(0,-0.212,0.184,0,749.8,581.453)" font-family="'Liberation Sans', sans-serif" font-size="100" fill="#1a1a1a" stroke="#1a1a1a" stroke-width="6.32" stroke-linejoin="round">cd8-fitc</text>
<text transform="matrix(0.229,0,0,0.229,867.777,419.58)" font-family="'Liberation Serif', serif" font-size="100" fill="#111" stroke="#111" stroke-width="4.588" stroke-linejoin="round">pcDNA3.1</text>
<text transform="matrix(0.233,0,0,0.263,956.747,460.38)" font-family="'Liberation Serif', serif" font-size="100" fill="#222" stroke="#222" stroke-width="4.24" stroke-linejoin="round">8.06%</text>
</g>
<g>
<path d="M1162.3 296.9L1162.3 284.4L1163.7 283.3L1165.1 282.6L1166.6 282.5L1168.0 280.6L1169.5 278.0L1171.1 275.6L1172.7 273.0L1174.1 273.8L1175.5 273.1L1176.9 274.5L1178.3 274.9L1179.9 274.0L1181.5 273.3L1183.0 271.2L1184.9 265.5L1186.8 262.7L1188.7 262.4L1190.6 263.6L1192.2 259.2L1193.7 259.2L1195.3 256.0L1196.9 250.2L1198.4 251.8L1200.0 246.7L1201.9 250.8L1203.8 250.4L1205.4 241.4L1207.1 231.3L1208.7 218.7L1210.4 210.9L1212.0 204.2L1213.7 203.5L1215.3 196.9L1217.0 195.8L1218.8 197.7L1220.7 203.3L1222.3 189.2L1223.9 175.4L1225.4 165.7L1227.3 177.7L1229.2 190.1L1230.8 184.1L1232.3 180.9L1233.9 173.2L1235.3 179.4L1236.7 186.3L1238.2 191.6L1239.6 197.7L1241.2 204.8L1242.9 209.7L1244.5 214.7L1246.2 222.2L1247.1 207.1L1248.7 207.6L1250.2 205.1L1251.8 199.6L1253.4 207.9L1255.0 213.4L1256.5 218.4L1258.4 224.8L1260.3 233.5L1261.7 232.3L1263.1 233.2L1264.5 232.3L1265.9 235.4L1267.8 244.3L1269.7 250.4L1271.3 251.2L1272.9 254.5L1274.4 254.2L1276.0 258.8L1277.6 265.9L1279.1 269.3L1281.0 268.6L1282.9 265.5L1284.3 266.7L1285.7 270.3L1287.1 275.2L1288.6 276.8L1290.1 275.5L1291.7 275.7L1293.3 273.0L1294.8 275.3L1296.4 277.0L1298.0 280.6L1299.5 282.7L1301.0 284.9L1302.5 285.8L1304.0 287.4L1305.5 290.0L1306.9 286.9L1308.3 284.4L1309.8 289.8L1311.2 293.8L1312.7 294.4L1314.3 293.9L1315.9 294.4L1317.4 294.6L1319.0 294.8L1320.6 295.7L1320.589 296.9Z" fill="#686868" stroke="#111" stroke-width="2.3" stroke-linejoin="round"/>
<path d="M1162.3 63V298.4" stroke="#1a1a1a" stroke-width="3" fill="none"/>
<path d="M1157.8 297.2H1400.6" stroke="#1a1a1a" stroke-width="3" fill="none"/>
<path d="M1161.7 173.45V298.4" stroke="#1a1a1a" stroke-width="4.8" fill="none"/>
<path d="M1162.3 296.9h-4.5M1162.3 238.425h-4.5M1162.3 179.95h-4.5M1162.3 121.475h-4.5M1162.3 63h-4.5M1162.3 296.9v5.5M1221.625 296.9v5.5M1280.95 296.9v5.5M1340.275 296.9v5.5M1399.6 296.9v5.5" stroke="#1a1a1a" stroke-width="2" fill="none"/>
<path d="M1180.159 296.9v3.6M1190.605 296.9v3.6M1198.017 296.9v3.6M1203.766 296.9v3.6M1208.464 296.9v3.6M1212.435 296.9v3.6M1215.876 296.9v3.6M1218.91 296.9v3.6M1239.484 296.9v3.6M1249.93 296.9v3.6M1257.342 296.9v3.6M1263.091 296.9v3.6M1267.789 296.9v3.6M1271.76 296.9v3.6M1275.201 296.9v3.6M1278.235 296.9v3.6M1298.809 296.9v3.6M1309.255 296.9v3.6M1316.667 296.9v3.6M1322.416 296.9v3.6M1327.114 296.9v3.6M1331.085 296.9v3.6M1334.526 296.9v3.6M1337.56 296.9v3.6M1358.134 296.9v3.6M1368.58 296.9v3.6M1375.992 296.9v3.6M1381.741 296.9v3.6M1386.439 296.9v3.6M1390.41 296.9v3.6M1393.851 296.9v3.6M1396.885 296.9v3.6" stroke="#1a1a1a" stroke-width="1.5" fill="none" opacity="0.8"/>
<path d="M1257.5 186.7H1398.8M1257.5 180.5v12.4M1398.8 180.5v12.4" stroke="#1a1a1a" stroke-width="2.6" fill="none"/>
<text transform="matrix(0.195,0,0,0.201,1353.393,174.9)" font-family="'Liberation Sans', sans-serif" font-size="100" fill="#1a1a1a" stroke="#1a1a1a" stroke-width="6.32" stroke-linejoin="round">M1</text>
<text transform="matrix(0.231,0,0,0.218,1150.567,322.9)" font-family="'Liberation Sans', sans-serif" font-size="100" fill="#1a1a1a" stroke="#1a1a1a" stroke-width="5.567" stroke-linejoin="round">10<tspan font-size="50" dx="12" dy="-42">0</tspan></text>
<text transform="matrix(0.231,0,0,0.218,1209.892,322.9)" font-family="'Liberation Sans', sans-serif" font-size="100" fill="#1a1a1a" stroke="#1a1a1a" stroke-width="5.567" stroke-linejoin="round">10<tspan font-size="50" dx="12" dy="-42">1</tspan></text>
<text transform="matrix(0.231,0,0,0.218,1269.217,322.9)" font-family="'Liberation Sans', sans-serif" font-size="100" fill="#1a1a1a" stroke="#1a1a1a" stroke-width="5.567" stroke-linejoin="round">10<tspan font-size="50" dx="12" dy="-42">2</tspan></text>
<text transform="matrix(0.231,0,0,0.218,1328.542,322.9)" font-family="'Liberation Sans', sans-serif" font-size="100" fill="#1a1a1a" stroke="#1a1a1a" stroke-width="5.567" stroke-linejoin="round">10<tspan font-size="50" dx="12" dy="-42">3</tspan></text>
<text transform="matrix(0.231,0,0,0.218,1387.867,322.9)" font-family="'Liberation Sans', sans-serif" font-size="100" fill="#1a1a1a" stroke="#1a1a1a" stroke-width="5.567" stroke-linejoin="round">10<tspan font-size="50" dx="12" dy="-42">4</tspan></text>
<text transform="matrix(0,-0.218,0.234,0,1152.1,75.688)" font-family="'Liberation Sans', sans-serif" font-size="100" fill="#1a1a1a" stroke="#1a1a1a" stroke-width="5.536" stroke-linejoin="round">64</text>
<text transform="matrix(0,-0.257,0.234,0,1152.1,307.33)" font-family="'Liberation Sans', sans-serif" font-size="100" fill="#1a1a1a" stroke="#1a1a1a" stroke-width="5.088" stroke-linejoin="round">0</text>
<text transform="matrix(0,-0.232,0.232,0,1133,217.518)" font-family="'Liberation Sans', sans-serif" font-size="100" fill="#1a1a1a" stroke="#1a1a1a" stroke-width="5.388" stroke-linejoin="round">Events</text>
<text transform="matrix(0.219,0,0,0.219,1233.326,351.3)" font-family="'Liberation Sans', sans-serif" font-size="100" fill="#1a1a1a" stroke="#1a1a1a" stroke-width="5.708" stroke-linejoin="round">NK1.1-pe</text>
<text transform="matrix(0.232,0,0,0.232,1234.509,57.78)" font-family="'Liberation Serif', serif" font-size="100" fill="#111" stroke="#111" stroke-width="4.531" stroke-linejoin="round">IL-21+sPD-1</text>
<text transform="matrix(0.245,0,0,0.278,1335.774,117.38)" font-family="'Liberation Serif', serif" font-size="100" fill="#222" stroke="#222" stroke-width="4.016" stroke-linejoin="round">13.06%</text>
</g>
<g>
<path d="M1488.2 301L1488.6 282.5L1490.4 281.5L1492.3 280.6L1494.2 281.0L1496.1 280.6L1497.5 285.7L1498.9 290.0L1500.5 286.1L1502.1 282.6L1503.6 280.6L1505.0 277.4L1506.5 274.2L1507.9 273.1L1509.3 269.3L1511.2 273.7L1513.0 276.8L1514.9 279.0L1516.8 280.6L1518.7 276.0L1520.6 271.2L1522.0 268.5L1523.4 263.2L1524.8 261.0L1526.2 258.0L1528.1 248.7L1530.0 242.9L1531.4 242.0L1532.8 233.7L1534.2 234.9L1535.7 229.7L1537.2 222.1L1538.8 220.8L1540.4 214.6L1541.9 208.0L1543.5 202.8L1545.1 197.7L1547.0 191.0L1548.8 180.2L1550.7 172.6L1552.6 170.7L1554.5 167.2L1556.4 168.9L1557.8 164.8L1559.2 155.7L1560.6 163.3L1562.0 170.7L1563.9 154.6L1565.8 143.4L1567.2 159.1L1568.6 168.9L1570.5 189.6L1571.9 201.7L1573.3 208.4L1574.9 206.7L1576.5 209.2L1578.0 210.3L1579.0 221.6L1580.4 221.8L1581.8 225.2L1583.2 229.4L1584.6 231.0L1586.5 229.0L1588.4 231.0L1589.8 236.0L1591.2 235.9L1592.7 240.5L1594.1 246.1L1595.9 265.5L1597.4 269.0L1598.8 269.9L1600.2 272.3L1601.6 274.9L1603.0 275.7L1604.4 275.8L1605.8 276.0L1607.3 276.8L1609.1 279.3L1611.0 284.4L1612.4 284.9L1613.8 285.4L1615.3 285.5L1616.7 284.4L1618.6 287.5L1620.4 290.0L1621.9 290.2L1623.3 290.7L1624.7 291.8L1626.1 291.9L1627.5 293.1L1628.9 293.2L1630.3 294.3L1631.7 295.7L1633.2 296.4L1634.6 297.6L1636.0 298.9L1637.4 299.4L1638.8 299.7L1640.2 299.4L1641.6 300.5L1643.1 300.4L1643.052 301Z" fill="#686868" stroke="#111" stroke-width="2.3" stroke-linejoin="round"/>
<path d="M1488.2 66.2V302.5" stroke="#1a1a1a" stroke-width="3" fill="none"/>
<path d="M1483.7 301.3H1726.8" stroke="#1a1a1a" stroke-width="3" fill="none"/>
<path d="M1487.6 177.1V302.5" stroke="#1a1a1a" stroke-width="4.8" fill="none"/>
<path d="M1488.2 301h-4.5M1488.2 242.3h-4.5M1488.2 183.6h-4.5M1488.2 124.9h-4.5M1488.2 66.2h-4.5M1488.2 301v5.5M1547.6 301v5.5M1607 301v5.5M1666.4 301v5.5M1725.8 301v5.5" stroke="#1a1a1a" stroke-width="2" fill="none"/>
<path d="M1506.081 301v3.6M1516.541 301v3.6M1523.962 301v3.6M1529.719 301v3.6M1534.422 301v3.6M1538.399 301v3.6M1541.844 301v3.6M1544.882 301v3.6M1565.481 301v3.6M1575.941 301v3.6M1583.362 301v3.6M1589.119 301v3.6M1593.822 301v3.6M1597.799 301v3.6M1601.244 301v3.6M1604.282 301v3.6M1624.881 301v3.6M1635.341 301v3.6M1642.762 301v3.6M1648.519 301v3.6M1653.222 301v3.6M1657.199 301v3.6M1660.644 301v3.6M1663.682 301v3.6M1684.281 301v3.6M1694.741 301v3.6M1702.162 301v3.6M1707.919 301v3.6M1712.622 301v3.6M1716.599 301v3.6M1720.044 301v3.6M1723.082 301v3.6" stroke="#1a1a1a" stroke-width="1.5" fill="none" opacity="0.8"/>
<path d="M1583.7 191H1724M1583.7 184.8v12.4M1724 184.8v12.4" stroke="#1a1a1a" stroke-width="2.6" fill="none"/>
<text transform="matrix(0.187,0,0,0.199,1679.658,178.7)" font-family="'Liberation Sans', sans-serif" font-size="100" fill="#1a1a1a" stroke="#1a1a1a" stroke-width="6.474" stroke-linejoin="round">M1</text>
<text transform="matrix(0.231,0,0,0.218,1476.467,327)" font-family="'Liberation Sans', sans-serif" font-size="100" fill="#1a1a1a" stroke="#1a1a1a" stroke-width="5.567" stroke-linejoin="round">10<tspan font-size="50" dx="12" dy="-42">0</tspan></text>
<text transform="matrix(0.231,0,0,0.218,1535.867,327)" font-family="'Liberation Sans', sans-serif" font-size="100" fill="#1a1a1a" stroke="#1a1a1a" stroke-width="5.567" stroke-linejoin="round">10<tspan font-size="50" dx="12" dy="-42">1</tspan></text>
<text transform="matrix(0.231,0,0,0.218,1595.267,327)" font-family="'Liberation Sans', sans-serif" font-size="100" fill="#1a1a1a" stroke="#1a1a1a" stroke-width="5.567" stroke-linejoin="round">10<tspan font-size="50" dx="12" dy="-42">2</tspan></text>
<text transform="matrix(0.231,0,0,0.218,1654.667,327)" font-family="'Liberation Sans', sans-serif" font-size="100" fill="#1a1a1a" stroke="#1a1a1a" stroke-width="5.567" stroke-linejoin="round">10<tspan font-size="50" dx="12" dy="-42">3</tspan></text>
<text transform="matrix(0.231,0,0,0.218,1714.067,327)" font-family="'Liberation Sans', sans-serif" font-size="100" fill="#1a1a1a" stroke="#1a1a1a" stroke-width="5.567" stroke-linejoin="round">10<tspan font-size="50" dx="12" dy="-42">4</tspan></text>
<text transform="matrix(0,-0.218,0.234,0,1478,78.888)" font-family="'Liberation Sans', sans-serif" font-size="100" fill="#1a1a1a" stroke="#1a1a1a" stroke-width="5.536" stroke-linejoin="round">64</text>
<text transform="matrix(0,-0.257,0.234,0,1478,311.43)" font-family="'Liberation Sans', sans-serif" font-size="100" fill="#1a1a1a" stroke="#1a1a1a" stroke-width="5.088" stroke-linejoin="round">0</text>
<text transform="matrix(0,-0.232,0.232,0,1459.3,221.318)" font-family="'Liberation Sans', sans-serif" font-size="100" fill="#1a1a1a" stroke="#1a1a1a" stroke-width="5.388" stroke-linejoin="round">Events</text>
<text transform="matrix(0.219,0,0,0.219,1559.126,355.4)" font-family="'Liberation Sans', sans-serif" font-size="100" fill="#1a1a1a" stroke="#1a1a1a" stroke-width="5.708" stroke-linejoin="round">NK1.1-pe</text>
<text transform="matrix(0.225,0,0,0.232,1605.033,57.78)" font-family="'Liberation Serif', serif" font-size="100" fill="#111" stroke="#111" stroke-width="4.599" stroke-linejoin="round">IL-21</text>
<text transform="matrix(0.236,0,0,0.278,1653.657,125.38)" font-family="'Liberation Serif', serif" font-size="100" fill="#222" stroke="#222" stroke-width="4.09" stroke-linejoin="round">10.47%</text>
</g>
<g>
<path d="M1167 650.6L1167.0 629.3L1168.6 629.9L1170.2 632.3L1171.7 633.0L1173.3 631.9L1174.9 630.8L1176.5 628.3L1178.1 628.7L1179.8 630.0L1181.4 631.0L1183.0 633.0L1184.9 625.6L1186.8 619.9L1188.2 627.1L1189.6 633.0L1191.5 613.7L1193.4 597.2L1195.3 612.3L1196.7 609.6L1198.1 606.7L1199.5 608.3L1200.9 612.3L1202.5 602.6L1204.1 594.4L1205.7 585.9L1207.5 582.3L1209.4 574.6L1210.8 580.0L1212.3 584.1L1213.7 568.0L1215.1 557.7L1216.5 551.6L1217.9 546.1L1219.3 545.8L1220.7 538.8L1222.1 533.2L1223.6 523.8L1225.2 509.8L1226.8 492.1L1228.5 499.3L1230.2 502.5L1232.0 512.4L1233.9 519.4L1235.3 518.8L1236.7 514.6L1238.2 508.1L1239.6 506.2L1241.0 514.9L1242.4 519.4L1244.0 518.7L1245.5 519.7L1247.1 517.6L1249.0 524.5L1250.9 530.7L1252.3 536.9L1253.7 543.9L1255.1 533.2L1256.5 524.1L1258.4 549.6L1260.3 558.6L1262.2 568.4L1264.1 584.5L1265.9 602.9L1267.5 600.4L1269.1 603.2L1270.7 601.0L1272.1 608.0L1273.5 612.3L1274.9 617.5L1276.3 619.6L1277.7 622.4L1279.1 625.5L1281.0 629.0L1282.9 631.2L1284.8 624.4L1286.7 619.9L1288.1 630.7L1289.5 640.6L1291.4 642.4L1293.3 644.4L1294.8 640.0L1296.4 636.2L1298.0 633.0L1299.4 635.5L1300.8 637.3L1302.2 640.0L1303.6 642.5L1305.2 644.5L1306.8 646.1L1308.3 648.1L1310.0 648.1L1311.6 648.9L1313.3 649.0L1314.9 649.6L1314.936 650.6Z" fill="#686868" stroke="#111" stroke-width="2.3" stroke-linejoin="round"/>
<path d="M1167 414.9V652.1" stroke="#1a1a1a" stroke-width="3" fill="none"/>
<path d="M1162.5 650.9H1405.4" stroke="#1a1a1a" stroke-width="3" fill="none"/>
<path d="M1166.4 526.25V652.1" stroke="#1a1a1a" stroke-width="4.8" fill="none"/>
<path d="M1167 650.6h-4.5M1167 591.675h-4.5M1167 532.75h-4.5M1167 473.825h-4.5M1167 414.9h-4.5M1167 650.6v5.5M1226.35 650.6v5.5M1285.7 650.6v5.5M1345.05 650.6v5.5M1404.4 650.6v5.5" stroke="#1a1a1a" stroke-width="2" fill="none"/>
<path d="M1184.866 650.6v3.6M1195.317 650.6v3.6M1202.732 650.6v3.6M1208.484 650.6v3.6M1213.183 650.6v3.6M1217.157 650.6v3.6M1220.598 650.6v3.6M1223.634 650.6v3.6M1244.216 650.6v3.6M1254.667 650.6v3.6M1262.082 650.6v3.6M1267.834 650.6v3.6M1272.533 650.6v3.6M1276.507 650.6v3.6M1279.948 650.6v3.6M1282.984 650.6v3.6M1303.566 650.6v3.6M1314.017 650.6v3.6M1321.432 650.6v3.6M1327.184 650.6v3.6M1331.883 650.6v3.6M1335.857 650.6v3.6M1339.298 650.6v3.6M1342.334 650.6v3.6M1362.916 650.6v3.6M1373.367 650.6v3.6M1380.782 650.6v3.6M1386.534 650.6v3.6M1391.233 650.6v3.6M1395.207 650.6v3.6M1398.648 650.6v3.6M1401.684 650.6v3.6" stroke="#1a1a1a" stroke-width="1.5" fill="none" opacity="0.8"/>
<path d="M1262.2 540.2H1403.5M1262.2 534v12.4M1403.5 534v12.4" stroke="#1a1a1a" stroke-width="2.6" fill="none"/>
<text transform="matrix(0.187,0,0,0.196,1358.158,527.4)" font-family="'Liberation Sans', sans-serif" font-size="100" fill="#1a1a1a" stroke="#1a1a1a" stroke-width="6.523" stroke-linejoin="round">M1</text>
<text transform="matrix(0.231,0,0,0.218,1155.267,676.6)" font-family="'Liberation Sans', sans-serif" font-size="100" fill="#1a1a1a" stroke="#1a1a1a" stroke-width="5.567" stroke-linejoin="round">10<tspan font-size="50" dx="12" dy="-42">0</tspan></text>
<text transform="matrix(0.231,0,0,0.218,1214.617,676.6)" font-family="'Liberation Sans', sans-serif" font-size="100" fill="#1a1a1a" stroke="#1a1a1a" stroke-width="5.567" stroke-linejoin="round">10<tspan font-size="50" dx="12" dy="-42">1</tspan></text>
<text transform="matrix(0.231,0,0,0.218,1273.967,676.6)" font-family="'Liberation Sans', sans-serif" font-size="100" fill="#1a1a1a" stroke="#1a1a1a" stroke-width="5.567" stroke-linejoin="round">10<tspan font-size="50" dx="12" dy="-42">2</tspan></text>
<text transform="matrix(0.231,0,0,0.218,1333.317,676.6)" font-family="'Liberation Sans', sans-serif" font-size="100" fill="#1a1a1a" stroke="#1a1a1a" stroke-width="5.567" stroke-linejoin="round">10<tspan font-size="50" dx="12" dy="-42">3</tspan></text>
<text transform="matrix(0.231,0,0,0.218,1392.667,676.6)" font-family="'Liberation Sans', sans-serif" font-size="100" fill="#1a1a1a" stroke="#1a1a1a" stroke-width="5.567" stroke-linejoin="round">10<tspan font-size="50" dx="12" dy="-42">4</tspan></text>
<text transform="matrix(0,-0.218,0.234,0,1156.8,427.588)" font-family="'Liberation Sans', sans-serif" font-size="100" fill="#1a1a1a" stroke="#1a1a1a" stroke-width="5.536" stroke-linejoin="round">64</text>
<text transform="matrix(0,-0.257,0.234,0,1156.8,661.03)" font-family="'Liberation Sans', sans-serif" font-size="100" fill="#1a1a1a" stroke="#1a1a1a" stroke-width="5.088" stroke-linejoin="round">0</text>
<text transform="matrix(0,-0.232,0.232,0,1136.9,570.018)" font-family="'Liberation Sans', sans-serif" font-size="100" fill="#1a1a1a" stroke="#1a1a1a" stroke-width="5.388" stroke-linejoin="round">Events</text>
<text transform="matrix(0.219,0,0,0.219,1238.126,705)" font-family="'Liberation Sans', sans-serif" font-size="100" fill="#1a1a1a" stroke="#1a1a1a" stroke-width="5.708" stroke-linejoin="round">NK1.1-pe</text>
<text transform="matrix(0.228,0,0,0.23,1268.307,409.58)" font-family="'Liberation Serif', serif" font-size="100" fill="#111" stroke="#111" stroke-width="4.587" stroke-linejoin="round">sPD-1</text>
<text transform="matrix(0.247,0,0,0.278,1344.815,487.88)" font-family="'Liberation Serif', serif" font-size="100" fill="#222" stroke="#222" stroke-width="4.004" stroke-linejoin="round">7.13%</text>
</g>
<g>
<path d="M1497.4 645.9L1498.0 633.0L1499.5 629.7L1501.1 628.5L1502.7 625.5L1504.6 618.5L1506.5 610.4L1508.3 614.9L1510.2 616.1L1511.8 613.4L1513.4 611.4L1514.9 610.4L1516.8 610.4L1518.7 608.6L1520.1 602.2L1521.5 593.4L1522.9 588.4L1524.4 580.3L1526.2 570.3L1528.1 561.5L1530.0 544.5L1531.9 553.7L1533.8 559.6L1535.7 540.7L1537.5 531.8L1539.4 527.5L1540.4 496.8L1542.3 493.3L1544.1 493.1L1545.5 487.0L1547.0 476.1L1548.7 455.5L1550.4 436.5L1552.6 451.6L1554.5 470.4L1556.4 493.1L1558.3 483.6L1559.7 488.8L1561.1 496.8L1562.5 508.1L1563.9 515.7L1565.8 527.0L1567.7 543.9L1569.6 566.5L1571.0 570.3L1572.4 570.4L1573.8 575.7L1575.2 578.4L1577.5 565.6L1579.0 587.3L1580.4 599.6L1581.8 610.4L1583.7 611.1L1585.6 614.2L1587.0 611.0L1588.4 606.7L1590.3 610.9L1592.2 618.0L1594.1 616.5L1595.9 616.1L1597.8 617.6L1599.7 621.7L1601.1 621.4L1602.5 624.1L1604.0 622.9L1605.4 623.6L1607.3 627.7L1609.1 629.3L1610.6 627.0L1612.0 625.3L1613.4 624.0L1614.8 620.8L1616.2 623.5L1617.6 624.0L1619.0 627.4L1620.4 629.3L1621.9 629.1L1623.3 627.6L1624.7 626.9L1626.1 627.4L1627.5 627.0L1628.9 624.6L1630.3 622.3L1631.7 621.7L1633.6 631.2L1635.0 633.0L1636.5 634.4L1637.9 637.3L1639.3 638.7L1640.7 639.2L1642.1 639.0L1643.5 640.6L1644.9 640.6L1646.3 641.0L1647.8 642.2L1649.2 642.8L1650.6 644.4L1652.2 644.8L1653.7 644.2L1655.3 644.9L1656.9 644.5L1658.4 645.1L1660.0 645.3L1660.009 645.9Z" fill="#686868" stroke="#111" stroke-width="2.3" stroke-linejoin="round"/>
<path d="M1497.4 411V647.4" stroke="#1a1a1a" stroke-width="3" fill="none"/>
<path d="M1492.9 646.2H1736.2" stroke="#1a1a1a" stroke-width="3" fill="none"/>
<path d="M1496.8 521.95V647.4" stroke="#1a1a1a" stroke-width="4.8" fill="none"/>
<path d="M1497.4 645.9h-4.5M1497.4 587.175h-4.5M1497.4 528.45h-4.5M1497.4 469.725h-4.5M1497.4 411h-4.5M1497.4 645.9v5.5M1556.85 645.9v5.5M1616.3 645.9v5.5M1675.75 645.9v5.5M1735.2 645.9v5.5" stroke="#1a1a1a" stroke-width="2" fill="none"/>
<path d="M1515.296 645.9v3.6M1525.765 645.9v3.6M1533.192 645.9v3.6M1538.954 645.9v3.6M1543.661 645.9v3.6M1547.641 645.9v3.6M1551.089 645.9v3.6M1554.13 645.9v3.6M1574.746 645.9v3.6M1585.215 645.9v3.6M1592.642 645.9v3.6M1598.404 645.9v3.6M1603.111 645.9v3.6M1607.091 645.9v3.6M1610.539 645.9v3.6M1613.58 645.9v3.6M1634.196 645.9v3.6M1644.665 645.9v3.6M1652.092 645.9v3.6M1657.854 645.9v3.6M1662.561 645.9v3.6M1666.541 645.9v3.6M1669.989 645.9v3.6M1673.03 645.9v3.6M1693.646 645.9v3.6M1704.115 645.9v3.6M1711.542 645.9v3.6M1717.304 645.9v3.6M1722.011 645.9v3.6M1725.991 645.9v3.6M1729.439 645.9v3.6M1732.48 645.9v3.6" stroke="#1a1a1a" stroke-width="1.5" fill="none" opacity="0.8"/>
<path d="M1592.2 535.4H1734.4M1592.2 529.2v12.4M1734.4 529.2v12.4" stroke="#1a1a1a" stroke-width="2.6" fill="none"/>
<text transform="matrix(0.187,0,0,0.198,1688.158,523.1)" font-family="'Liberation Sans', sans-serif" font-size="100" fill="#1a1a1a" stroke="#1a1a1a" stroke-width="6.499" stroke-linejoin="round">M1</text>
<text transform="matrix(0.231,0,0,0.218,1485.667,671.9)" font-family="'Liberation Sans', sans-serif" font-size="100" fill="#1a1a1a" stroke="#1a1a1a" stroke-width="5.567" stroke-linejoin="round">10<tspan font-size="50" dx="12" dy="-42">0</tspan></text>
<text transform="matrix(0.231,0,0,0.218,1545.117,671.9)" font-family="'Liberation Sans', sans-serif" font-size="100" fill="#1a1a1a" stroke="#1a1a1a" stroke-width="5.567" stroke-linejoin="round">10<tspan font-size="50" dx="12" dy="-42">1</tspan></text>
<text transform="matrix(0.231,0,0,0.218,1604.567,671.9)" font-family="'Liberation Sans', sans-serif" font-size="100" fill="#1a1a1a" stroke="#1a1a1a" stroke-width="5.567" stroke-linejoin="round">10<tspan font-size="50" dx="12" dy="-42">2</tspan></text>
<text transform="matrix(0.231,0,0,0.218,1664.017,671.9)" font-family="'Liberation Sans', sans-serif" font-size="100" fill="#1a1a1a" stroke="#1a1a1a" stroke-width="5.567" stroke-linejoin="round">10<tspan font-size="50" dx="12" dy="-42">3</tspan></text>
<text transform="matrix(0.231,0,0,0.218,1723.467,671.9)" font-family="'Liberation Sans', sans-serif" font-size="100" fill="#1a1a1a" stroke="#1a1a1a" stroke-width="5.567" stroke-linejoin="round">10<tspan font-size="50" dx="12" dy="-42">4</tspan></text>
<text transform="matrix(0,-0.218,0.234,0,1487.2,423.688)" font-family="'Liberation Sans', sans-serif" font-size="100" fill="#1a1a1a" stroke="#1a1a1a" stroke-width="5.536" stroke-linejoin="round">64</text>
<text transform="matrix(0,-0.257,0.234,0,1487.2,656.33)" font-family="'Liberation Sans', sans-serif" font-size="100" fill="#1a1a1a" stroke="#1a1a1a" stroke-width="5.088" stroke-linejoin="round">0</text>
<text transform="matrix(0,-0.232,0.232,0,1467.8,566.218)" font-family="'Liberation Sans', sans-serif" font-size="100" fill="#1a1a1a" stroke="#1a1a1a" stroke-width="5.388" stroke-linejoin="round">Events</text>
<text transform="matrix(0.219,0,0,0.219,1568.626,700.3)" font-family="'Liberation Sans', sans-serif" font-size="100" fill="#1a1a1a" stroke="#1a1a1a" stroke-width="5.708" stroke-linejoin="round">NK1.1-pe</text>
<text transform="matrix(0.231,0,0,0.227,1565.873,405.48)" font-family="'Liberation Serif', serif" font-size="100" fill="#111" stroke="#111" stroke-width="4.58" stroke-linejoin="round">pcDNA3.1</text>
<text transform="matrix(0.252,0,0,0.279,1669.749,473.88)" font-family="'Liberation Serif', serif" font-size="100" fill="#222" stroke="#222" stroke-width="3.955" stroke-linejoin="round">6.95%</text>
</g>
<g>
<path d="M579.4 816.7V867.7" stroke="#000" stroke-width="3.8" fill="none"/>
<path d="M562.1 816.7H595.9" stroke="#000" stroke-width="3.8" stroke-linecap="round" fill="none"/>
<rect x="540.4" y="865.7" width="75.3" height="323.7" fill="#000"/>
<path d="M685.8 932.4V962.3" stroke="#000" stroke-width="3.8" fill="none"/>
<path d="M667.6 932.4H703.3" stroke="#000" stroke-width="3.8" stroke-linecap="round" fill="none"/>
<rect x="647.1" y="960.3" width="75.9" height="229.1" fill="#fff"/>
<rect x="647.1" y="960.3" width="75.9" height="229.1" fill="url(#chkA)"/>
<path d="M647.1 1189.4V960.3H723V1189.4H718.6V964.7H651.5Z" fill="#000"/>
<path d="M794.2 998.6V1022.2" stroke="#000" stroke-width="3.8" fill="none"/>
<path d="M775.9 998.6H812.1" stroke="#000" stroke-width="3.8" stroke-linecap="round" fill="none"/>
<rect x="756.6" y="1020.2" width="75.3" height="169.2" fill="#fff"/>
<rect x="756.6" y="1020.2" width="75.3" height="169.2" fill="url(#hsA)"/>
<path d="M756.6 1189.4V1020.2H831.9V1189.4H829.7V1023.2H758.8Z" fill="#000"/>
<path d="M901.2 1026V1055.8" stroke="#000" stroke-width="3.8" fill="none"/>
<path d="M882.8 1026H918.5" stroke="#000" stroke-width="3.8" stroke-linecap="round" fill="none"/>
<rect x="863" y="1053.8" width="75.9" height="135.6" fill="#fff"/>
<rect x="863" y="1053.8" width="75.9" height="135.6" fill="url(#vsA)"/>
<path d="M863 1189.4V1053.8H938.9V1189.4H934.3V1057.8H867.6Z" fill="#000"/>
<path d="M526.2 791.85V1192.2M512 1189.4H1039" stroke="#000" stroke-width="5.6" fill="none"/>
<path d="M514.3 1110.35H526.2M514.3 1031.3H526.2M514.3 952.25H526.2M514.3 873.2H526.2M514.3 794.15H526.2" stroke="#000" stroke-width="4.6" stroke-linecap="round" fill="none"/>
<text transform="matrix(0.288,0,0,0.302,488.247,1192.7)" font-family="'Liberation Sans', sans-serif" font-size="100" font-weight="bold" fill="#000" stroke="#000" stroke-width="2.371" stroke-linejoin="round">0</text>
<text transform="matrix(0.288,0,0,0.302,487.886,1119.15)" font-family="'Liberation Sans', sans-serif" font-size="100" font-weight="bold" fill="#000" stroke="#000" stroke-width="2.371" stroke-linejoin="round">5</text>
<text transform="matrix(0.288,0,0,0.302,472.24,1040.1)" font-family="'Liberation Sans', sans-serif" font-size="100" font-weight="bold" fill="#000" stroke="#000" stroke-width="2.371" stroke-linejoin="round">10</text>
<text transform="matrix(0.288,0,0,0.302,471.88,961.05)" font-family="'Liberation Sans', sans-serif" font-size="100" font-weight="bold" fill="#000" stroke="#000" stroke-width="2.371" stroke-linejoin="round">15</text>
<text transform="matrix(0.288,0,0,0.302,472.24,882)" font-family="'Liberation Sans', sans-serif" font-size="100" font-weight="bold" fill="#000" stroke="#000" stroke-width="2.371" stroke-linejoin="round">20</text>
<text transform="matrix(0.288,0,0,0.302,471.88,802.95)" font-family="'Liberation Sans', sans-serif" font-size="100" font-weight="bold" fill="#000" stroke="#000" stroke-width="2.371" stroke-linejoin="round">25</text>
<text transform="matrix(0.268,0,0,0.271,492.682,1221.88)" font-family="'Liberation Serif', serif" font-size="100" fill="#000" stroke="#000" stroke-width="2.968" stroke-linejoin="round">IL-21+sPD-1</text>
<text transform="matrix(0.26,0,0,0.271,656.61,1221.88)" font-family="'Liberation Serif', serif" font-size="100" fill="#000" stroke="#000" stroke-width="3.012" stroke-linejoin="round">IL-21</text>
<text transform="matrix(0.268,0,0,0.272,764.149,1221.88)" font-family="'Liberation Serif', serif" font-size="100" fill="#000" stroke="#000" stroke-width="2.964" stroke-linejoin="round">sPD-1</text>
<text transform="matrix(0.266,0,0,0.271,863.62,1221.88)" font-family="'Liberation Serif', serif" font-size="100" fill="#000" stroke="#000" stroke-width="2.977" stroke-linejoin="round">pcDNA3.1</text>
<text transform="matrix(0.313,0,0,0.321,568.335,819.531)" font-family="'Liberation Serif', serif" font-size="100" fill="#000" stroke="#000" stroke-width="1.577" stroke-linejoin="round">*</text>
<text transform="matrix(0.197,0,0,0.173,675.951,913.886)" font-family="'DejaVu Sans', sans-serif" font-size="100" fill="#000">▲</text>
<text transform="matrix(0,-0.26,0.305,0,432,1209.3)" font-family="'Liberation Sans', sans-serif" font-size="100" font-weight="bold" fill="#000" stroke="#000" stroke-width="2.478" stroke-linejoin="round"><tspan x="-6.75" letter-spacing="10.496">Percentage</tspan> <tspan x="666.769" letter-spacing="16.423">of</tspan> <tspan x="804.462" letter-spacing="9.269">CD8</tspan><tspan x="1041.084" font-size="65" dy="-41.7">+</tspan> <tspan x="1113.231" dy="41.7">T</tspan> <tspan x="1208.308" letter-spacing="7.111">cells</tspan> <tspan x="1506.538" letter-spacing="9.558">(%)</tspan></text>
</g>
<g>
<path d="M1281.2 832.3V846.6" stroke="#000" stroke-width="4.0" fill="none"/>
<path d="M1262.5 832.3H1300" stroke="#000" stroke-width="4.0" stroke-linecap="round" fill="none"/>
<rect x="1239.8" y="844.6" width="81" height="346.2" fill="#000"/>
<path d="M1395.6 869.6V889" stroke="#000" stroke-width="4.0" fill="none"/>
<path d="M1376.5 869.6H1414.9" stroke="#000" stroke-width="4.0" stroke-linecap="round" fill="none"/>
<rect x="1354.5" y="887" width="81.6" height="303.8" fill="#fff"/>
<rect x="1354.5" y="887" width="81.6" height="303.8" fill="url(#chkB)"/>
<path d="M1354.5 1190.8V887H1436.1V1190.8H1431.9V891.2H1358.7Z" fill="#000"/>
<path d="M1512.7 978.2V1005.6" stroke="#000" stroke-width="4.0" fill="none"/>
<path d="M1493.4 978.2H1532.2" stroke="#000" stroke-width="4.0" stroke-linecap="round" fill="none"/>
<rect x="1472" y="1003.6" width="81.6" height="187.2" fill="#fff"/>
<rect x="1472" y="1003.6" width="81.6" height="187.2" fill="url(#hsB)"/>
<path d="M1472 1190.8V1003.6H1553.6V1190.8H1551.2V1006.8H1474.4Z" fill="#000"/>
<path d="M1628.4 952.8V992" stroke="#000" stroke-width="4.0" fill="none"/>
<path d="M1608.7 952.8H1647.6" stroke="#000" stroke-width="4.0" stroke-linecap="round" fill="none"/>
<rect x="1587.1" y="990" width="81.8" height="200.8" fill="#fff"/>
<rect x="1587.1" y="990" width="81.8" height="200.8" fill="url(#vsB)"/>
<path d="M1587.1 1190.8V990H1668.9V1190.8H1664.1V994.2H1591.9Z" fill="#000"/>
<path d="M1223.5 761.95V1193.8M1208.6 1190.8H1766" stroke="#000" stroke-width="6.0" fill="none"/>
<path d="M1211 1048.65H1223.5M1211 906.5H1223.5M1211 764.35H1223.5" stroke="#000" stroke-width="4.8" stroke-linecap="round" fill="none"/>
<text transform="matrix(0.296,0,0,0.308,1183.972,1199.2)" font-family="'Liberation Sans', sans-serif" font-size="100" font-weight="bold" fill="#000" stroke="#000" stroke-width="2.319" stroke-linejoin="round">0</text>
<text transform="matrix(0.296,0,0,0.308,1183.603,1057.65)" font-family="'Liberation Sans', sans-serif" font-size="100" font-weight="bold" fill="#000" stroke="#000" stroke-width="2.319" stroke-linejoin="round">5</text>
<text transform="matrix(0.296,0,0,0.308,1167.562,915.8)" font-family="'Liberation Sans', sans-serif" font-size="100" font-weight="bold" fill="#000" stroke="#000" stroke-width="2.319" stroke-linejoin="round">10</text>
<text transform="matrix(0.296,0,0,0.308,1167.193,777.25)" font-family="'Liberation Sans', sans-serif" font-size="100" font-weight="bold" fill="#000" stroke="#000" stroke-width="2.319" stroke-linejoin="round">15</text>
<text transform="matrix(0.268,0,0,0.271,1207.182,1221.68)" font-family="'Liberation Serif', serif" font-size="100" fill="#000" stroke="#000" stroke-width="2.969" stroke-linejoin="round">IL-21+sPD-1</text>
<text transform="matrix(0.26,0,0,0.271,1371.11,1221.68)" font-family="'Liberation Serif', serif" font-size="100" fill="#000" stroke="#000" stroke-width="3.012" stroke-linejoin="round">IL-21</text>
<text transform="matrix(0.272,0,0,0.272,1478.232,1221.68)" font-family="'Liberation Serif', serif" font-size="100" fill="#000" stroke="#000" stroke-width="2.941" stroke-linejoin="round">sPD-1</text>
<text transform="matrix(0.266,0,0,0.271,1577.72,1221.68)" font-family="'Liberation Serif', serif" font-size="100" fill="#000" stroke="#000" stroke-width="2.977" stroke-linejoin="round">pcDNA3.1</text>
<text transform="matrix(0.197,0,0,0.173,1270.951,816.086)" font-family="'DejaVu Sans', sans-serif" font-size="100" fill="#000">▲</text>
<text transform="matrix(0.197,0,0,0.174,1387.651,852.87)" font-family="'DejaVu Sans', sans-serif" font-size="100" fill="#000">▲</text>
<text transform="matrix(0,-0.279,0.326,0,1125.2,1182)" font-family="'Liberation Sans', sans-serif" font-size="100" font-weight="bold" fill="#000" stroke="#000" stroke-width="2.314" stroke-linejoin="round"><tspan x="-6.75" letter-spacing="10.796">Percentage</tspan> <tspan x="670.91" letter-spacing="14.518">of</tspan> <tspan x="806.87" letter-spacing="15.221">NK</tspan> <tspan x="1008.903" letter-spacing="7.19">cells</tspan> <tspan x="1310.054" letter-spacing="10.763">(%)</tspan></text>
</g>
</g></svg></body></html>
